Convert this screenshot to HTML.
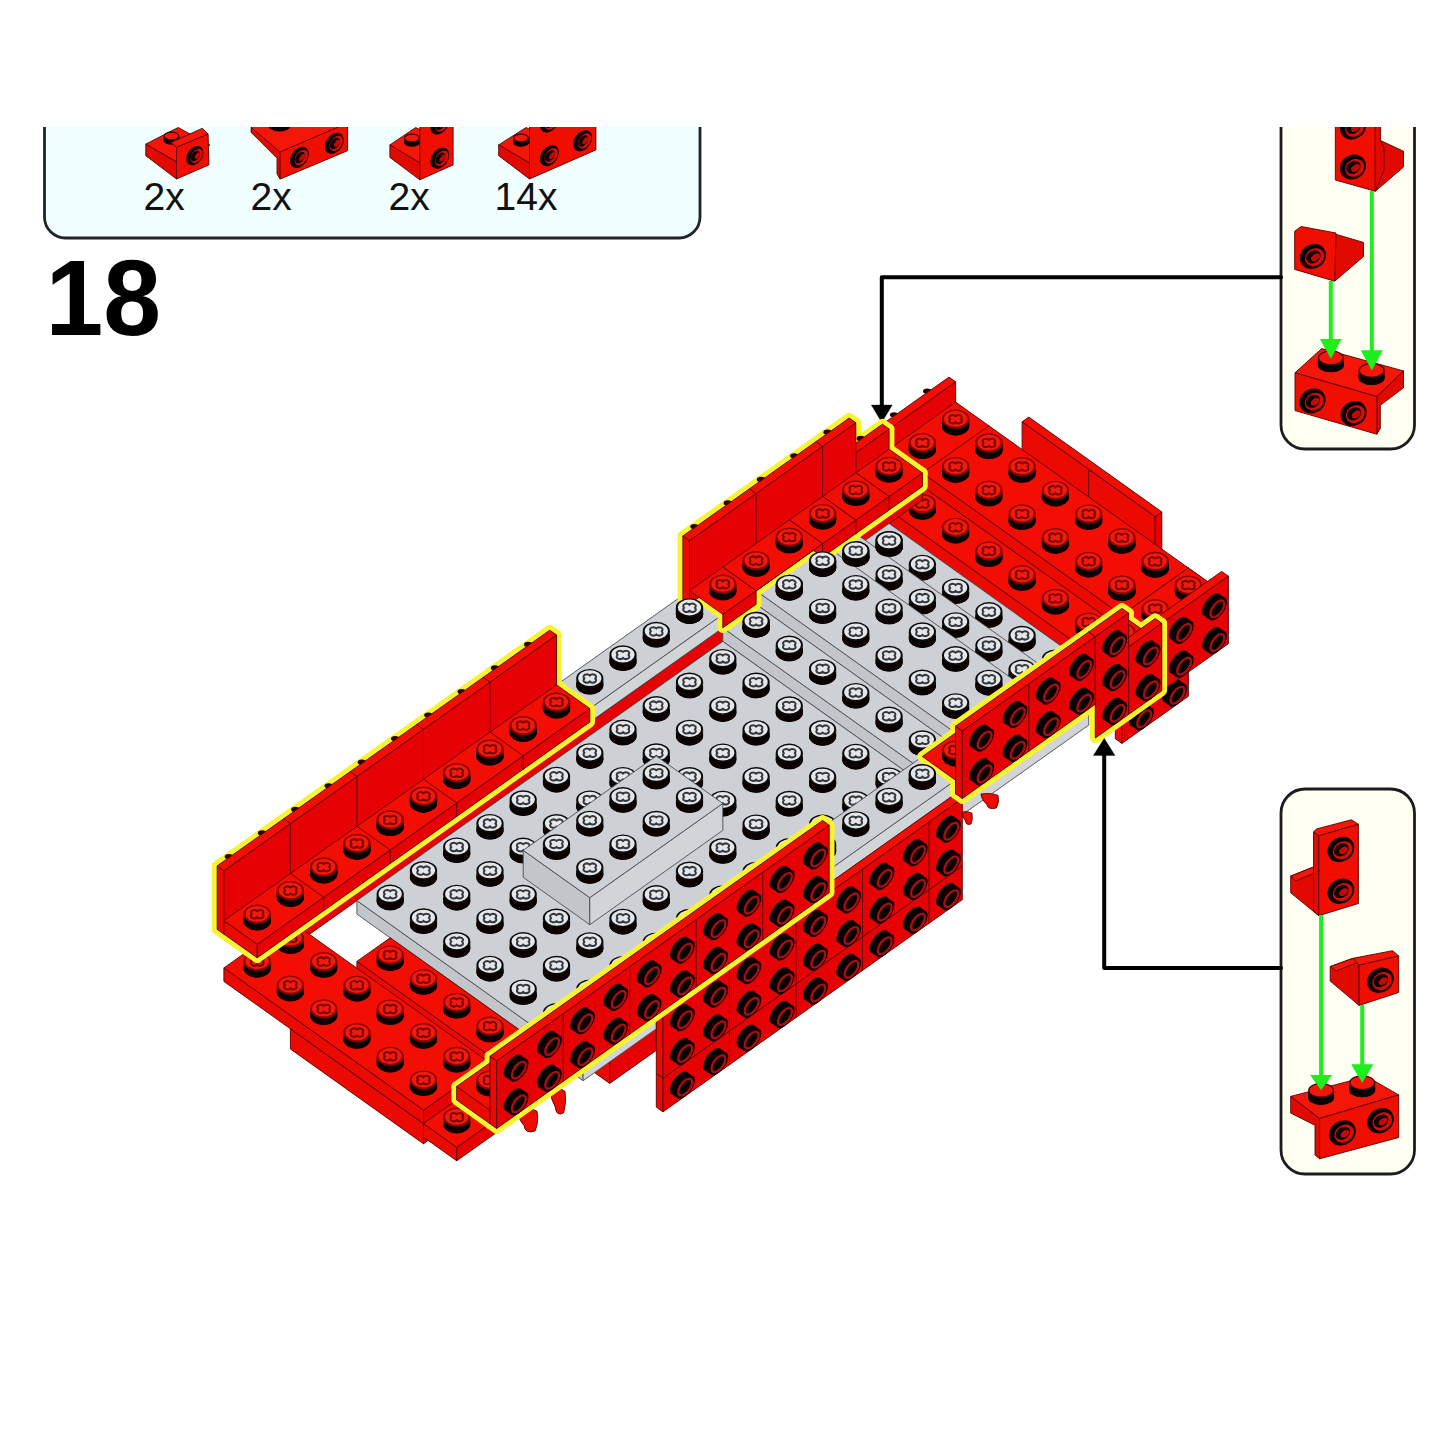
<!DOCTYPE html>
<html><head><meta charset="utf-8"><title>Step 18</title>
<style>
html,body{margin:0;padding:0;background:#fff;}
body{width:1445px;height:1445px;overflow:hidden;font-family:"Liberation Sans",sans-serif;}
svg{display:block;}
text{font-family:"Liberation Sans",sans-serif;}
</style></head><body>
<svg width="1445" height="1445" viewBox="0 0 1445 1445">
<defs><clipPath id="crop"><rect x="0" y="127" width="1445" height="1200"/></clipPath></defs>
<rect width="1445" height="1445" fill="#fff"/>
<g clip-path="url(#crop)">
<rect x="44.5" y="60" width="655.5" height="178" rx="21" ry="21" fill="#f0ffff" stroke="#1c2626" stroke-width="2.8"/>
<text x="143.5" y="210" font-size="39" fill="#111">2x</text>
<text x="250.5" y="210" font-size="39" fill="#111">2x</text>
<text x="388.5" y="210" font-size="39" fill="#111">2x</text>
<text x="494.5" y="210" font-size="39" fill="#111">14x</text>
<text transform="translate(45.6 334.6) scale(0.962 1)" font-size="108" font-weight="bold" fill="#000">18</text>
<rect x="1281" y="60" width="133.5" height="389" rx="24" ry="24" fill="#fffff2" stroke="#1c1c1c" stroke-width="2.8"/>
<rect x="1281" y="789" width="133.5" height="385" rx="24" ry="24" fill="#fffff2" stroke="#1c1c1c" stroke-width="2.8"/>
<polyline points="1281,277.3 881.8,277.3 881.8,406" fill="none" stroke="#000" stroke-width="4" stroke-linejoin="round" stroke-linecap="round" stroke-linecap="butt" stroke-linejoin="miter"/>
<polygon points="881.8,422.5 871.3,405 892.3,405" fill="#000" stroke="#000" stroke-width="0.3" stroke-linejoin="round" />
<polyline points="1281,968 1104.2,968 1104.2,755" fill="none" stroke="#000" stroke-width="4" stroke-linejoin="round" stroke-linecap="round" stroke-linecap="butt" stroke-linejoin="miter"/>
<polygon points="1104.2,738.2 1093.4,755.5 1115,755.5" fill="#000" stroke="#000" stroke-width="0.3" stroke-linejoin="round" />
<polygon points="145.8,144.1 178.2,127.5 210,145 176.5,162" fill="#f5160a" stroke="#5a0000" stroke-width="0.9" stroke-linejoin="round"/>
<path d="M163.5 136 a8 4.5 0 0 0 16 0 v4 a8 4.5 0 0 1 -16 0 z" fill="#0a0000"/>
<ellipse cx="171.5" cy="140" rx="8" ry="4.5" fill="#0a0000"/>
<ellipse cx="171.5" cy="136" rx="7.4" ry="3.9" fill="#f5160a" stroke="#300" stroke-width="1.2"/>
<polygon points="145.8,144.1 176.5,162 176.5,179 145.8,155.7" fill="#e00a00" stroke="#5a0000" stroke-width="0.9" stroke-linejoin="round"/>
<polygon points="171,142.5 202.3,128.3 208.1,134.1 176.5,147.4" fill="#f5160a" stroke="#5a0000" stroke-width="0.9" stroke-linejoin="round"/>
<polygon points="176.5,147.4 208.1,134.1 208.9,164.9 176.5,179" fill="#f00e00" stroke="#5a0000" stroke-width="0.9" stroke-linejoin="round"/>
<g transform="translate(194.8 155.7) rotate(-55)"><ellipse rx="10.5" ry="7.5" fill="#0a0000"/><ellipse cx="1" cy="1.6" rx="7.8" ry="5.2" fill="#d80c04"/><ellipse cx="0.2" cy="0.6" rx="5.9" ry="3.8" fill="#0a0000"/><ellipse cx="1.6" cy="2.2" rx="3.8" ry="2" fill="#c00a04"/></g>
<polygon points="251.3,120 347.6,120 347.6,127.5 280,156 251.3,132.5" fill="#f5160a" stroke="#5a0000" stroke-width="0.9" stroke-linejoin="round"/>
<ellipse cx="279.5" cy="124" rx="12" ry="7.5" fill="#0a0000"/>
<polygon points="251.3,127.5 280,152 280,179 277,174 277,158.2 251.3,132.5" fill="#e00a00" stroke="#5a0000" stroke-width="0.9" stroke-linejoin="round"/>
<polygon points="280,152 347.6,123 347.6,150.7 280.3,179" fill="#f00e00" stroke="#5a0000" stroke-width="0.9" stroke-linejoin="round"/>
<g transform="translate(299.4 157.4) rotate(-55)"><ellipse rx="11.5" ry="8.2" fill="#0a0000"/><ellipse cx="1" cy="1.6" rx="8.5" ry="5.7" fill="#d80c04"/><ellipse cx="0.2" cy="0.6" rx="6.4" ry="4.1" fill="#0a0000"/><ellipse cx="1.6" cy="2.2" rx="4.1" ry="2.1" fill="#c00a04"/></g>
<g transform="translate(334.3 143.3) rotate(-55)"><ellipse rx="11.5" ry="8.2" fill="#0a0000"/><ellipse cx="1" cy="1.6" rx="8.5" ry="5.7" fill="#d80c04"/><ellipse cx="0.2" cy="0.6" rx="6.4" ry="4.1" fill="#0a0000"/><ellipse cx="1.6" cy="2.2" rx="4.1" ry="2.1" fill="#c00a04"/></g>
<polygon points="389.9,144.9 415.7,127.5 450,145 419.8,163" fill="#f5160a" stroke="#5a0000" stroke-width="0.9" stroke-linejoin="round"/>
<path d="M404 138 a8 4.5 0 0 0 16 0 v4 a8 4.5 0 0 1 -16 0 z" fill="#0a0000"/>
<ellipse cx="412" cy="142" rx="8" ry="4.5" fill="#0a0000"/>
<ellipse cx="412" cy="138" rx="7.4" ry="3.9" fill="#f5160a" stroke="#300" stroke-width="1.2"/>
<polygon points="389.9,144.9 419.8,163 419.8,179.8 389.9,157.4" fill="#e00a00" stroke="#5a0000" stroke-width="0.9" stroke-linejoin="round"/>
<polygon points="419.8,110 453.1,110 453.1,164.9 419.8,179.8" fill="#f00e00" stroke="#5a0000" stroke-width="0.9" stroke-linejoin="round"/>
<g transform="translate(439.8 158.2) rotate(-55)"><ellipse rx="11.5" ry="8.2" fill="#0a0000"/><ellipse cx="1" cy="1.6" rx="8.5" ry="5.7" fill="#d80c04"/><ellipse cx="0.2" cy="0.6" rx="6.4" ry="4.1" fill="#0a0000"/><ellipse cx="1.6" cy="2.2" rx="4.1" ry="2.1" fill="#c00a04"/></g>
<g transform="translate(439.8 124) rotate(-55)"><ellipse rx="11.5" ry="8.2" fill="#0a0000"/><ellipse cx="1" cy="1.6" rx="8.5" ry="5.7" fill="#d80c04"/><ellipse cx="0.2" cy="0.6" rx="6.4" ry="4.1" fill="#0a0000"/><ellipse cx="1.6" cy="2.2" rx="4.1" ry="2.1" fill="#c00a04"/></g>
<polygon points="498.7,144.9 526.1,127.5 560,145 529.5,163" fill="#f5160a" stroke="#5a0000" stroke-width="0.9" stroke-linejoin="round"/>
<path d="M513 138 a8 4.5 0 0 0 16 0 v4 a8 4.5 0 0 1 -16 0 z" fill="#0a0000"/>
<ellipse cx="521" cy="142" rx="8" ry="4.5" fill="#0a0000"/>
<ellipse cx="521" cy="138" rx="7.4" ry="3.9" fill="#f5160a" stroke="#300" stroke-width="1.2"/>
<polygon points="498.7,144.9 529.5,163 529.5,179 498.7,155.7" fill="#e00a00" stroke="#5a0000" stroke-width="0.9" stroke-linejoin="round"/>
<polygon points="529.5,110 595.9,110 595.9,149.9 529.5,179" fill="#f00e00" stroke="#5a0000" stroke-width="0.9" stroke-linejoin="round"/>
<g transform="translate(549.4 155.7) rotate(-55)"><ellipse rx="11.5" ry="8.2" fill="#0a0000"/><ellipse cx="1" cy="1.6" rx="8.5" ry="5.7" fill="#d80c04"/><ellipse cx="0.2" cy="0.6" rx="6.4" ry="4.1" fill="#0a0000"/><ellipse cx="1.6" cy="2.2" rx="4.1" ry="2.1" fill="#c00a04"/></g>
<g transform="translate(582.6 140.8) rotate(-55)"><ellipse rx="11.5" ry="8.2" fill="#0a0000"/><ellipse cx="1" cy="1.6" rx="8.5" ry="5.7" fill="#d80c04"/><ellipse cx="0.2" cy="0.6" rx="6.4" ry="4.1" fill="#0a0000"/><ellipse cx="1.6" cy="2.2" rx="4.1" ry="2.1" fill="#c00a04"/></g>
<g transform="translate(549.4 122) rotate(-55)"><ellipse rx="11.5" ry="8.2" fill="#0a0000"/><ellipse cx="1" cy="1.6" rx="8.5" ry="5.7" fill="#d80c04"/><ellipse cx="0.2" cy="0.6" rx="6.4" ry="4.1" fill="#0a0000"/><ellipse cx="1.6" cy="2.2" rx="4.1" ry="2.1" fill="#c00a04"/></g>
<g transform="translate(582.6 110) rotate(-55)"><ellipse rx="11.5" ry="8.2" fill="#0a0000"/><ellipse cx="1" cy="1.6" rx="8.5" ry="5.7" fill="#d80c04"/><ellipse cx="0.2" cy="0.6" rx="6.4" ry="4.1" fill="#0a0000"/><ellipse cx="1.6" cy="2.2" rx="4.1" ry="2.1" fill="#c00a04"/></g>
<polygon points="1380.6,140.6 1403.5,151.2 1403.5,167.1 1375.3,191.2 1375.3,150" fill="#e00a00" stroke="#5a0000" stroke-width="0.9" stroke-linejoin="round"/>
<polygon points="1335.3,110 1375.3,110 1375.3,191.2 1335.3,180" fill="#f00e00" stroke="#5a0000" stroke-width="0.9" stroke-linejoin="round"/>
<polygon points="1375.3,110 1380.6,110 1380.6,140.6 1384,148 1384,170 1375.3,191.2" fill="#e00a00" stroke="#5a0000" stroke-width="0.9" stroke-linejoin="round"/>
<g transform="translate(1352.9 167.1) rotate(-35)"><ellipse rx="13.5" ry="12" fill="#0a0000"/><ellipse cx="1" cy="1.6" rx="10" ry="8.4" fill="#d80c04"/><ellipse cx="0.2" cy="0.6" rx="7.6" ry="6" fill="#0a0000"/><ellipse cx="1.6" cy="2.2" rx="4.9" ry="3.1" fill="#c00a04"/></g>
<g transform="translate(1352.9 127) rotate(-35)"><ellipse rx="13.5" ry="12" fill="#0a0000"/><ellipse cx="1" cy="1.6" rx="10" ry="8.4" fill="#d80c04"/><ellipse cx="0.2" cy="0.6" rx="7.6" ry="6" fill="#0a0000"/><ellipse cx="1.6" cy="2.2" rx="4.9" ry="3.1" fill="#c00a04"/></g>
<polygon points="1335.3,234.1 1363.5,242.4 1363.5,256.5 1334.7,281.2 1334.7,240" fill="#e00a00" stroke="#5a0000" stroke-width="0.9" stroke-linejoin="round"/>
<polygon points="1294.7,231.2 1301.2,226.5 1336,233 1334.7,281.2 1294.7,269.4" fill="#f00e00" stroke="#5a0000" stroke-width="0.9" stroke-linejoin="round"/>
<g transform="translate(1312.9 256.5) rotate(-35)"><ellipse rx="13.5" ry="12" fill="#0a0000"/><ellipse cx="1" cy="1.6" rx="10" ry="8.4" fill="#d80c04"/><ellipse cx="0.2" cy="0.6" rx="7.6" ry="6" fill="#0a0000"/><ellipse cx="1.6" cy="2.2" rx="4.9" ry="3.1" fill="#c00a04"/></g>
<line x1="1371.8" y1="191" x2="1371.8" y2="351.5" stroke="#1cf01c" stroke-width="4"/>
<polygon points="1361.1,350.5 1382.5,350.5 1371.8,370.4" fill="#1cf01c"/>
<line x1="1330.8" y1="281" x2="1330.8" y2="339.9" stroke="#1cf01c" stroke-width="4"/>
<polygon points="1320.1,338.9 1341.5,338.9 1330.8,358.8" fill="#1cf01c"/>
<polygon points="1295,372.8 1321.7,348.6 1403.5,370.9 1376.9,396.6" fill="#f5160a" stroke="#5a0000" stroke-width="0.9" stroke-linejoin="round"/>
<polygon points="1376.9,396.6 1403.5,370.9 1403.5,387.8 1380.3,405.3 1380.3,428.5 1376.9,434" fill="#e00a00" stroke="#5a0000" stroke-width="0.9" stroke-linejoin="round"/>
<polygon points="1295,372.8 1376.9,396.6 1376.9,434.3 1295,410.6" fill="#f00e00" stroke="#5a0000" stroke-width="0.9" stroke-linejoin="round"/>
<path d="M1317.9 357.8 a13 7.5 0 0 0 26 0 v7 a13 7.5 0 0 1 -26 0 z" fill="#0a0000"/>
<ellipse cx="1330.9" cy="364.8" rx="13" ry="7.5" fill="#0a0000"/>
<ellipse cx="1330.9" cy="357.8" rx="12.4" ry="6.9" fill="#f5160a" stroke="#300" stroke-width="1.2"/>
<path d="M1358.6 370.4 a13 7.5 0 0 0 26 0 v7 a13 7.5 0 0 1 -26 0 z" fill="#0a0000"/>
<ellipse cx="1371.6" cy="377.4" rx="13" ry="7.5" fill="#0a0000"/>
<ellipse cx="1371.6" cy="370.4" rx="12.4" ry="6.9" fill="#f5160a" stroke="#300" stroke-width="1.2"/>
<polygon points="1320.1,338.9 1341.5,338.9 1330.8,358.8" fill="#1cf01c"/>
<polygon points="1361.1,350.5 1382.5,350.5 1371.8,370.4" fill="#1cf01c"/>
<g transform="translate(1312.5 400.9) rotate(-35)"><ellipse rx="13.5" ry="12" fill="#0a0000"/><ellipse cx="1" cy="1.6" rx="10" ry="8.4" fill="#d80c04"/><ellipse cx="0.2" cy="0.6" rx="7.6" ry="6" fill="#0a0000"/><ellipse cx="1.6" cy="2.2" rx="4.9" ry="3.1" fill="#c00a04"/></g>
<g transform="translate(1353.6 413.5) rotate(-35)"><ellipse rx="13.5" ry="12" fill="#0a0000"/><ellipse cx="1" cy="1.6" rx="10" ry="8.4" fill="#d80c04"/><ellipse cx="0.2" cy="0.6" rx="7.6" ry="6" fill="#0a0000"/><ellipse cx="1.6" cy="2.2" rx="4.9" ry="3.1" fill="#c00a04"/></g>
<polygon points="1290.7,876.1 1313.5,867 1318.8,871 1318.8,915.7 1290.7,892.8" fill="#e00a00" stroke="#5a0000" stroke-width="0.9" stroke-linejoin="round"/>
<polygon points="1290.7,876.1 1313.5,867 1318.8,871 1296,881" fill="#f5160a" stroke="#5a0000" stroke-width="0.9" stroke-linejoin="round"/>
<polygon points="1313.5,832 1316.5,828.9 1351.5,819.8 1358.4,824.3 1318.8,835.8" fill="#f5160a" stroke="#5a0000" stroke-width="0.9" stroke-linejoin="round"/>
<polygon points="1313.5,832 1318.8,835.8 1318.8,915.7 1313.5,911" fill="#e00a00" stroke="#5a0000" stroke-width="0.9" stroke-linejoin="round"/>
<polygon points="1318.8,835.8 1358.4,824.3 1358.4,903.5 1318.8,915.7" fill="#f00e00" stroke="#5a0000" stroke-width="0.9" stroke-linejoin="round"/>
<g transform="translate(1340.9 849.5) rotate(-35)"><ellipse rx="14" ry="12" fill="#0a0000"/><ellipse cx="1" cy="1.6" rx="10.4" ry="8.4" fill="#d80c04"/><ellipse cx="0.2" cy="0.6" rx="7.8" ry="6" fill="#0a0000"/><ellipse cx="1.6" cy="2.2" rx="5" ry="3.1" fill="#c00a04"/></g>
<g transform="translate(1340.9 891.3) rotate(-35)"><ellipse rx="14" ry="12" fill="#0a0000"/><ellipse cx="1" cy="1.6" rx="10.4" ry="8.4" fill="#d80c04"/><ellipse cx="0.2" cy="0.6" rx="7.8" ry="6" fill="#0a0000"/><ellipse cx="1.6" cy="2.2" rx="5" ry="3.1" fill="#c00a04"/></g>
<polygon points="1330.2,966.6 1353,958.3 1359.1,965.1 1359.1,1005.4 1330.2,981.1" fill="#e00a00" stroke="#5a0000" stroke-width="0.9" stroke-linejoin="round"/>
<polygon points="1330.2,966.6 1353,958.3 1359.1,962 1336,971" fill="#f5160a" stroke="#5a0000" stroke-width="0.9" stroke-linejoin="round"/>
<polygon points="1353,958.3 1392.6,950.7 1398.7,956 1359.1,965.1" fill="#f5160a" stroke="#5a0000" stroke-width="0.9" stroke-linejoin="round"/>
<polygon points="1359.1,965.1 1398.7,956 1398.7,992.5 1359.1,1005.4" fill="#f00e00" stroke="#5a0000" stroke-width="0.9" stroke-linejoin="round"/>
<g transform="translate(1380.4 980.3) rotate(-35)"><ellipse rx="14" ry="12" fill="#0a0000"/><ellipse cx="1" cy="1.6" rx="10.4" ry="8.4" fill="#d80c04"/><ellipse cx="0.2" cy="0.6" rx="7.8" ry="6" fill="#0a0000"/><ellipse cx="1.6" cy="2.2" rx="5" ry="3.1" fill="#c00a04"/></g>
<line x1="1321.1" y1="915" x2="1321.1" y2="1076" stroke="#1cf01c" stroke-width="4"/>
<polygon points="1310.4,1075 1331.8,1075 1321.1,1090.3" fill="#1cf01c"/>
<line x1="1362.2" y1="1005" x2="1362.2" y2="1065.4" stroke="#1cf01c" stroke-width="4"/>
<polygon points="1351.5,1064.4 1372.9,1064.4 1362.2,1082.7" fill="#1cf01c"/>
<polygon points="1290.7,1096.4 1366.8,1076.6 1398.7,1094.9 1319.6,1118.5" fill="#f5160a" stroke="#5a0000" stroke-width="0.9" stroke-linejoin="round"/>
<polygon points="1290.7,1096.4 1319.6,1118.5 1319.6,1158.8 1315,1155 1315,1125.3 1290.7,1113.1" fill="#e00a00" stroke="#5a0000" stroke-width="0.9" stroke-linejoin="round"/>
<polygon points="1319.6,1118.5 1398.7,1094.9 1398.7,1137.5 1319.6,1158.8" fill="#f00e00" stroke="#5a0000" stroke-width="0.9" stroke-linejoin="round"/>
<path d="M1308.1 1090.3 a13 7.5 0 0 0 26 0 v7 a13 7.5 0 0 1 -26 0 z" fill="#0a0000"/>
<ellipse cx="1321.1" cy="1097.3" rx="13" ry="7.5" fill="#0a0000"/>
<ellipse cx="1321.1" cy="1090.3" rx="12.4" ry="6.9" fill="#f5160a" stroke="#300" stroke-width="1.2"/>
<path d="M1349.2 1082.7 a13 7.5 0 0 0 26 0 v7 a13 7.5 0 0 1 -26 0 z" fill="#0a0000"/>
<ellipse cx="1362.2" cy="1089.7" rx="13" ry="7.5" fill="#0a0000"/>
<ellipse cx="1362.2" cy="1082.7" rx="12.4" ry="6.9" fill="#f5160a" stroke="#300" stroke-width="1.2"/>
<polygon points="1310.4,1075 1331.8,1075 1321.1,1090.3" fill="#1cf01c"/>
<polygon points="1351.5,1064.4 1372.9,1064.4 1362.2,1082.7" fill="#1cf01c"/>
<g transform="translate(1342.4 1132.9) rotate(-35)"><ellipse rx="14" ry="12" fill="#0a0000"/><ellipse cx="1" cy="1.6" rx="10.4" ry="8.4" fill="#d80c04"/><ellipse cx="0.2" cy="0.6" rx="7.8" ry="6" fill="#0a0000"/><ellipse cx="1.6" cy="2.2" rx="5" ry="3.1" fill="#c00a04"/></g>
<g transform="translate(1380.5 1120.7) rotate(-35)"><ellipse rx="14" ry="12" fill="#0a0000"/><ellipse cx="1" cy="1.6" rx="10.4" ry="8.4" fill="#d80c04"/><ellipse cx="0.2" cy="0.6" rx="7.8" ry="6" fill="#0a0000"/><ellipse cx="1.6" cy="2.2" rx="5" ry="3.1" fill="#c00a04"/></g>
<polygon points="1022.1,421.8 1155.2,516.6 1155.2,557.8 1022.1,463" fill="#ea0a02" stroke="#5a0000" stroke-width="0.9" stroke-linejoin="round" />
<polygon points="1155.2,516.6 1161.8,511.9 1161.8,553.1 1155.2,557.8" fill="#e60204" stroke="#5a0000" stroke-width="0.9" stroke-linejoin="round" />
<polygon points="1022.1,421.8 1028.8,417.1 1161.8,511.9 1155.2,516.6" fill="#f30e03" stroke="#5a0000" stroke-width="0.9" stroke-linejoin="round" />
<polyline points="1088.7,469.2 1088.7,496.9" fill="none" stroke="#5a0000" stroke-width="0.9" stroke-linejoin="round" stroke-linecap="round" />
<ellipse cx="894.1" cy="414.8" rx="4.2" ry="2.6" fill="#2a0000"/>
<ellipse cx="927.3" cy="391.2" rx="4.2" ry="2.6" fill="#2a0000"/>
<polygon points="882.4,424.2 889.1,429 889.1,462.7 882.4,458" fill="#ea0a02" stroke="#5a0000" stroke-width="0.9" stroke-linejoin="round" />
<polygon points="889.1,429 955.6,381.8 955.6,415.6 889.1,462.7" fill="#e60204" stroke="#5a0000" stroke-width="0.9" stroke-linejoin="round" />
<polygon points="882.4,424.2 949,377.1 955.6,381.8 889.1,429" fill="#f30e03" stroke="#5a0000" stroke-width="0.9" stroke-linejoin="round" />
<polygon points="889.1,449.2 1155.2,638.8 1155.2,652.3 889.1,462.7" fill="#ea0a02" stroke="#5a0000" stroke-width="0.9" stroke-linejoin="round" />
<polygon points="1155.2,638.8 1221.7,591.7 1221.7,605.2 1155.2,652.3" fill="#e60204" stroke="#5a0000" stroke-width="0.9" stroke-linejoin="round" />
<polygon points="889.1,449.2 955.6,402.1 1221.7,591.7 1155.2,638.8" fill="#f30e03" stroke="#5a0000" stroke-width="0.9" stroke-linejoin="round" />
<path d="M942 419.2 a13.6 9.6 0 0 0 27.2 0 v6.5 a13.6 9.6 0 0 1 -27.2 0 z" fill="#0a0000"/>
<ellipse cx="955.6" cy="425.7" rx="13.6" ry="9.6" fill="#0a0000"/>
<ellipse cx="955.6" cy="419.2" rx="13.6" ry="9.6" fill="#8a0300"/>
<ellipse cx="955.6" cy="418.9" rx="11.6" ry="7.9" fill="#f21a0a"/>
<path d="M950.1 419.2 c-3 -3.5 3 -5.5 5.5 -3 c2.5 -2.5 8.500 -.5 5.5 3 c3 3.5 -3 5.5 -5.5 3 c-2.5 2.5 -8.5 .5 -5.5 -3z" fill="none" stroke="#7a0000" stroke-width="2"/>
<path d="M975.3 442.9 a13.6 9.6 0 0 0 27.2 0 v6.5 a13.6 9.6 0 0 1 -27.2 0 z" fill="#0a0000"/>
<ellipse cx="988.9" cy="449.4" rx="13.6" ry="9.6" fill="#0a0000"/>
<ellipse cx="988.9" cy="442.9" rx="13.6" ry="9.6" fill="#8a0300"/>
<ellipse cx="988.9" cy="442.6" rx="11.6" ry="7.9" fill="#f21a0a"/>
<path d="M983.4 442.9 c-3 -3.5 3 -5.5 5.5 -3 c2.5 -2.5 8.500 -.5 5.5 3 c3 3.5 -3 5.5 -5.5 3 c-2.5 2.5 -8.5 .5 -5.5 -3z" fill="none" stroke="#7a0000" stroke-width="2"/>
<path d="M1008.5 466.6 a13.6 9.6 0 0 0 27.2 0 v6.5 a13.6 9.6 0 0 1 -27.2 0 z" fill="#0a0000"/>
<ellipse cx="1022.1" cy="473.1" rx="13.6" ry="9.6" fill="#0a0000"/>
<ellipse cx="1022.1" cy="466.6" rx="13.6" ry="9.6" fill="#8a0300"/>
<ellipse cx="1022.1" cy="466.3" rx="11.6" ry="7.9" fill="#f21a0a"/>
<path d="M1016.6 466.6 c-3 -3.5 3 -5.5 5.5 -3 c2.5 -2.5 8.500 -.5 5.5 3 c3 3.5 -3 5.5 -5.5 3 c-2.5 2.5 -8.5 .5 -5.5 -3z" fill="none" stroke="#7a0000" stroke-width="2"/>
<path d="M1041.8 490.3 a13.6 9.6 0 0 0 27.2 0 v6.5 a13.6 9.6 0 0 1 -27.2 0 z" fill="#0a0000"/>
<ellipse cx="1055.4" cy="496.8" rx="13.6" ry="9.6" fill="#0a0000"/>
<ellipse cx="1055.4" cy="490.3" rx="13.6" ry="9.6" fill="#8a0300"/>
<ellipse cx="1055.4" cy="490" rx="11.6" ry="7.9" fill="#f21a0a"/>
<path d="M1049.9 490.3 c-3 -3.5 3 -5.5 5.5 -3 c2.5 -2.5 8.500 -.5 5.5 3 c3 3.5 -3 5.5 -5.5 3 c-2.5 2.5 -8.5 .5 -5.5 -3z" fill="none" stroke="#7a0000" stroke-width="2"/>
<path d="M1075.1 514 a13.6 9.6 0 0 0 27.2 0 v6.5 a13.6 9.6 0 0 1 -27.2 0 z" fill="#0a0000"/>
<ellipse cx="1088.7" cy="520.5" rx="13.6" ry="9.6" fill="#0a0000"/>
<ellipse cx="1088.7" cy="514" rx="13.6" ry="9.6" fill="#8a0300"/>
<ellipse cx="1088.7" cy="513.7" rx="11.6" ry="7.9" fill="#f21a0a"/>
<path d="M1083.2 514 c-3 -3.5 3 -5.5 5.5 -3 c2.5 -2.5 8.500 -.5 5.5 3 c3 3.5 -3 5.5 -5.5 3 c-2.5 2.5 -8.5 .5 -5.5 -3z" fill="none" stroke="#7a0000" stroke-width="2"/>
<path d="M1108.3 537.7 a13.6 9.6 0 0 0 27.2 0 v6.5 a13.6 9.6 0 0 1 -27.2 0 z" fill="#0a0000"/>
<ellipse cx="1121.9" cy="544.2" rx="13.6" ry="9.6" fill="#0a0000"/>
<ellipse cx="1121.9" cy="537.7" rx="13.6" ry="9.6" fill="#8a0300"/>
<ellipse cx="1121.9" cy="537.4" rx="11.6" ry="7.9" fill="#f21a0a"/>
<path d="M1116.4 537.7 c-3 -3.5 3 -5.5 5.5 -3 c2.5 -2.5 8.500 -.5 5.5 3 c3 3.5 -3 5.5 -5.5 3 c-2.5 2.5 -8.5 .5 -5.5 -3z" fill="none" stroke="#7a0000" stroke-width="2"/>
<path d="M1141.6 561.4 a13.6 9.6 0 0 0 27.2 0 v6.5 a13.6 9.6 0 0 1 -27.2 0 z" fill="#0a0000"/>
<ellipse cx="1155.2" cy="567.9" rx="13.6" ry="9.6" fill="#0a0000"/>
<ellipse cx="1155.2" cy="561.4" rx="13.6" ry="9.6" fill="#8a0300"/>
<ellipse cx="1155.2" cy="561.1" rx="11.6" ry="7.9" fill="#f21a0a"/>
<path d="M1149.7 561.4 c-3 -3.5 3 -5.5 5.5 -3 c2.5 -2.5 8.500 -.5 5.5 3 c3 3.5 -3 5.5 -5.5 3 c-2.5 2.5 -8.5 .5 -5.5 -3z" fill="none" stroke="#7a0000" stroke-width="2"/>
<path d="M1174.8 585.1 a13.6 9.6 0 0 0 27.2 0 v6.5 a13.6 9.6 0 0 1 -27.2 0 z" fill="#0a0000"/>
<ellipse cx="1188.4" cy="591.6" rx="13.6" ry="9.6" fill="#0a0000"/>
<ellipse cx="1188.4" cy="585.1" rx="13.6" ry="9.6" fill="#8a0300"/>
<ellipse cx="1188.4" cy="584.8" rx="11.6" ry="7.9" fill="#f21a0a"/>
<path d="M1182.9 585.1 c-3 -3.5 3 -5.5 5.5 -3 c2.5 -2.5 8.500 -.5 5.5 3 c3 3.5 -3 5.5 -5.5 3 c-2.5 2.5 -8.5 .5 -5.5 -3z" fill="none" stroke="#7a0000" stroke-width="2"/>
<path d="M908.8 442.8 a13.6 9.6 0 0 0 27.2 0 v6.5 a13.6 9.6 0 0 1 -27.2 0 z" fill="#0a0000"/>
<ellipse cx="922.4" cy="449.3" rx="13.6" ry="9.6" fill="#0a0000"/>
<ellipse cx="922.4" cy="442.8" rx="13.6" ry="9.6" fill="#8a0300"/>
<ellipse cx="922.4" cy="442.5" rx="11.6" ry="7.9" fill="#f21a0a"/>
<path d="M916.9 442.8 c-3 -3.5 3 -5.5 5.5 -3 c2.5 -2.5 8.500 -.5 5.5 3 c3 3.5 -3 5.5 -5.5 3 c-2.5 2.5 -8.5 .5 -5.5 -3z" fill="none" stroke="#7a0000" stroke-width="2"/>
<path d="M942 466.5 a13.6 9.6 0 0 0 27.2 0 v6.5 a13.6 9.6 0 0 1 -27.2 0 z" fill="#0a0000"/>
<ellipse cx="955.6" cy="473" rx="13.6" ry="9.6" fill="#0a0000"/>
<ellipse cx="955.6" cy="466.5" rx="13.6" ry="9.6" fill="#8a0300"/>
<ellipse cx="955.6" cy="466.2" rx="11.6" ry="7.9" fill="#f21a0a"/>
<path d="M950.1 466.5 c-3 -3.5 3 -5.5 5.5 -3 c2.5 -2.5 8.500 -.5 5.5 3 c3 3.5 -3 5.5 -5.5 3 c-2.5 2.5 -8.5 .5 -5.5 -3z" fill="none" stroke="#7a0000" stroke-width="2"/>
<path d="M975.3 490.2 a13.6 9.6 0 0 0 27.2 0 v6.5 a13.6 9.6 0 0 1 -27.2 0 z" fill="#0a0000"/>
<ellipse cx="988.9" cy="496.7" rx="13.6" ry="9.6" fill="#0a0000"/>
<ellipse cx="988.9" cy="490.2" rx="13.6" ry="9.6" fill="#8a0300"/>
<ellipse cx="988.9" cy="489.9" rx="11.6" ry="7.9" fill="#f21a0a"/>
<path d="M983.4 490.2 c-3 -3.5 3 -5.5 5.5 -3 c2.5 -2.5 8.500 -.5 5.5 3 c3 3.5 -3 5.5 -5.5 3 c-2.5 2.5 -8.5 .5 -5.5 -3z" fill="none" stroke="#7a0000" stroke-width="2"/>
<path d="M1008.5 513.9 a13.6 9.6 0 0 0 27.2 0 v6.5 a13.6 9.6 0 0 1 -27.2 0 z" fill="#0a0000"/>
<ellipse cx="1022.1" cy="520.4" rx="13.6" ry="9.6" fill="#0a0000"/>
<ellipse cx="1022.1" cy="513.9" rx="13.6" ry="9.6" fill="#8a0300"/>
<ellipse cx="1022.1" cy="513.6" rx="11.6" ry="7.9" fill="#f21a0a"/>
<path d="M1016.6 513.9 c-3 -3.5 3 -5.5 5.5 -3 c2.5 -2.5 8.500 -.5 5.5 3 c3 3.5 -3 5.5 -5.5 3 c-2.5 2.5 -8.5 .5 -5.5 -3z" fill="none" stroke="#7a0000" stroke-width="2"/>
<path d="M1041.8 537.6 a13.6 9.6 0 0 0 27.2 0 v6.5 a13.6 9.6 0 0 1 -27.2 0 z" fill="#0a0000"/>
<ellipse cx="1055.4" cy="544.1" rx="13.6" ry="9.6" fill="#0a0000"/>
<ellipse cx="1055.4" cy="537.6" rx="13.6" ry="9.6" fill="#8a0300"/>
<ellipse cx="1055.4" cy="537.3" rx="11.6" ry="7.9" fill="#f21a0a"/>
<path d="M1049.9 537.6 c-3 -3.5 3 -5.5 5.5 -3 c2.5 -2.5 8.500 -.5 5.5 3 c3 3.5 -3 5.5 -5.5 3 c-2.5 2.5 -8.5 .5 -5.5 -3z" fill="none" stroke="#7a0000" stroke-width="2"/>
<path d="M1075.1 561.3 a13.6 9.6 0 0 0 27.2 0 v6.5 a13.6 9.6 0 0 1 -27.2 0 z" fill="#0a0000"/>
<ellipse cx="1088.7" cy="567.8" rx="13.6" ry="9.6" fill="#0a0000"/>
<ellipse cx="1088.7" cy="561.3" rx="13.6" ry="9.6" fill="#8a0300"/>
<ellipse cx="1088.7" cy="561" rx="11.6" ry="7.9" fill="#f21a0a"/>
<path d="M1083.2 561.3 c-3 -3.5 3 -5.5 5.5 -3 c2.5 -2.5 8.500 -.5 5.5 3 c3 3.5 -3 5.5 -5.5 3 c-2.5 2.5 -8.5 .5 -5.5 -3z" fill="none" stroke="#7a0000" stroke-width="2"/>
<path d="M1108.3 585 a13.6 9.6 0 0 0 27.2 0 v6.5 a13.6 9.6 0 0 1 -27.2 0 z" fill="#0a0000"/>
<ellipse cx="1121.9" cy="591.5" rx="13.6" ry="9.6" fill="#0a0000"/>
<ellipse cx="1121.9" cy="585" rx="13.6" ry="9.6" fill="#8a0300"/>
<ellipse cx="1121.9" cy="584.7" rx="11.6" ry="7.9" fill="#f21a0a"/>
<path d="M1116.4 585 c-3 -3.5 3 -5.5 5.5 -3 c2.5 -2.5 8.500 -.5 5.5 3 c3 3.5 -3 5.5 -5.5 3 c-2.5 2.5 -8.5 .5 -5.5 -3z" fill="none" stroke="#7a0000" stroke-width="2"/>
<path d="M1141.6 608.7 a13.6 9.6 0 0 0 27.2 0 v6.5 a13.6 9.6 0 0 1 -27.2 0 z" fill="#0a0000"/>
<ellipse cx="1155.2" cy="615.2" rx="13.6" ry="9.6" fill="#0a0000"/>
<ellipse cx="1155.2" cy="608.7" rx="13.6" ry="9.6" fill="#8a0300"/>
<ellipse cx="1155.2" cy="608.4" rx="11.6" ry="7.9" fill="#f21a0a"/>
<path d="M1149.7 608.7 c-3 -3.5 3 -5.5 5.5 -3 c2.5 -2.5 8.500 -.5 5.5 3 c3 3.5 -3 5.5 -5.5 3 c-2.5 2.5 -8.5 .5 -5.5 -3z" fill="none" stroke="#7a0000" stroke-width="2"/>
<polyline points="922.4,472.9 988.9,425.8" fill="none" stroke="#5a0000" stroke-width="0.9" stroke-linejoin="round" stroke-linecap="round" />
<polyline points="1121.9,615.1 1188.4,568" fill="none" stroke="#5a0000" stroke-width="0.9" stroke-linejoin="round" stroke-linecap="round" />
<path d="M942 419.2 a13.6 9.6 0 0 0 27.2 0 v6.5 a13.6 9.6 0 0 1 -27.2 0 z" fill="#0a0000"/>
<ellipse cx="955.6" cy="425.7" rx="13.6" ry="9.6" fill="#0a0000"/>
<ellipse cx="955.6" cy="419.2" rx="13.6" ry="9.6" fill="#8a0300"/>
<ellipse cx="955.6" cy="418.9" rx="11.6" ry="7.9" fill="#f21a0a"/>
<path d="M950.1 419.2 c-3 -3.5 3 -5.5 5.5 -3 c2.5 -2.5 8.500 -.5 5.5 3 c3 3.5 -3 5.5 -5.5 3 c-2.5 2.5 -8.5 .5 -5.5 -3z" fill="none" stroke="#7a0000" stroke-width="2"/>
<path d="M975.3 442.9 a13.6 9.6 0 0 0 27.2 0 v6.5 a13.6 9.6 0 0 1 -27.2 0 z" fill="#0a0000"/>
<ellipse cx="988.9" cy="449.4" rx="13.6" ry="9.6" fill="#0a0000"/>
<ellipse cx="988.9" cy="442.9" rx="13.6" ry="9.6" fill="#8a0300"/>
<ellipse cx="988.9" cy="442.6" rx="11.6" ry="7.9" fill="#f21a0a"/>
<path d="M983.4 442.9 c-3 -3.5 3 -5.5 5.5 -3 c2.5 -2.5 8.500 -.5 5.5 3 c3 3.5 -3 5.5 -5.5 3 c-2.5 2.5 -8.5 .5 -5.5 -3z" fill="none" stroke="#7a0000" stroke-width="2"/>
<path d="M1141.6 561.4 a13.6 9.6 0 0 0 27.2 0 v6.5 a13.6 9.6 0 0 1 -27.2 0 z" fill="#0a0000"/>
<ellipse cx="1155.2" cy="567.9" rx="13.6" ry="9.6" fill="#0a0000"/>
<ellipse cx="1155.2" cy="561.4" rx="13.6" ry="9.6" fill="#8a0300"/>
<ellipse cx="1155.2" cy="561.1" rx="11.6" ry="7.9" fill="#f21a0a"/>
<path d="M1149.7 561.4 c-3 -3.5 3 -5.5 5.5 -3 c2.5 -2.5 8.500 -.5 5.5 3 c3 3.5 -3 5.5 -5.5 3 c-2.5 2.5 -8.5 .5 -5.5 -3z" fill="none" stroke="#7a0000" stroke-width="2"/>
<path d="M1174.8 585.1 a13.6 9.6 0 0 0 27.2 0 v6.5 a13.6 9.6 0 0 1 -27.2 0 z" fill="#0a0000"/>
<ellipse cx="1188.4" cy="591.6" rx="13.6" ry="9.6" fill="#0a0000"/>
<ellipse cx="1188.4" cy="585.1" rx="13.6" ry="9.6" fill="#8a0300"/>
<ellipse cx="1188.4" cy="584.8" rx="11.6" ry="7.9" fill="#f21a0a"/>
<path d="M1182.9 585.1 c-3 -3.5 3 -5.5 5.5 -3 c2.5 -2.5 8.500 -.5 5.5 3 c3 3.5 -3 5.5 -5.5 3 c-2.5 2.5 -8.5 .5 -5.5 -3z" fill="none" stroke="#7a0000" stroke-width="2"/>
<path d="M908.8 442.8 a13.6 9.6 0 0 0 27.2 0 v6.5 a13.6 9.6 0 0 1 -27.2 0 z" fill="#0a0000"/>
<ellipse cx="922.4" cy="449.3" rx="13.6" ry="9.6" fill="#0a0000"/>
<ellipse cx="922.4" cy="442.8" rx="13.6" ry="9.6" fill="#8a0300"/>
<ellipse cx="922.4" cy="442.5" rx="11.6" ry="7.9" fill="#f21a0a"/>
<path d="M916.9 442.8 c-3 -3.5 3 -5.5 5.5 -3 c2.5 -2.5 8.500 -.5 5.5 3 c3 3.5 -3 5.5 -5.5 3 c-2.5 2.5 -8.5 .5 -5.5 -3z" fill="none" stroke="#7a0000" stroke-width="2"/>
<path d="M942 466.5 a13.6 9.6 0 0 0 27.2 0 v6.5 a13.6 9.6 0 0 1 -27.2 0 z" fill="#0a0000"/>
<ellipse cx="955.6" cy="473" rx="13.6" ry="9.6" fill="#0a0000"/>
<ellipse cx="955.6" cy="466.5" rx="13.6" ry="9.6" fill="#8a0300"/>
<ellipse cx="955.6" cy="466.2" rx="11.6" ry="7.9" fill="#f21a0a"/>
<path d="M950.1 466.5 c-3 -3.5 3 -5.5 5.5 -3 c2.5 -2.5 8.500 -.5 5.5 3 c3 3.5 -3 5.5 -5.5 3 c-2.5 2.5 -8.5 .5 -5.5 -3z" fill="none" stroke="#7a0000" stroke-width="2"/>
<path d="M1108.3 585 a13.6 9.6 0 0 0 27.2 0 v6.5 a13.6 9.6 0 0 1 -27.2 0 z" fill="#0a0000"/>
<ellipse cx="1121.9" cy="591.5" rx="13.6" ry="9.6" fill="#0a0000"/>
<ellipse cx="1121.9" cy="585" rx="13.6" ry="9.6" fill="#8a0300"/>
<ellipse cx="1121.9" cy="584.7" rx="11.6" ry="7.9" fill="#f21a0a"/>
<path d="M1116.4 585 c-3 -3.5 3 -5.5 5.5 -3 c2.5 -2.5 8.500 -.5 5.5 3 c3 3.5 -3 5.5 -5.5 3 c-2.5 2.5 -8.5 .5 -5.5 -3z" fill="none" stroke="#7a0000" stroke-width="2"/>
<path d="M1141.6 608.7 a13.6 9.6 0 0 0 27.2 0 v6.5 a13.6 9.6 0 0 1 -27.2 0 z" fill="#0a0000"/>
<ellipse cx="1155.2" cy="615.2" rx="13.6" ry="9.6" fill="#0a0000"/>
<ellipse cx="1155.2" cy="608.7" rx="13.6" ry="9.6" fill="#8a0300"/>
<ellipse cx="1155.2" cy="608.4" rx="11.6" ry="7.9" fill="#f21a0a"/>
<path d="M1149.7 608.7 c-3 -3.5 3 -5.5 5.5 -3 c2.5 -2.5 8.500 -.5 5.5 3 c3 3.5 -3 5.5 -5.5 3 c-2.5 2.5 -8.5 .5 -5.5 -3z" fill="none" stroke="#7a0000" stroke-width="2"/>
<polygon points="889.1,510 1088.7,652.2 1088.7,665.7 889.1,523.5" fill="#ea0a02" stroke="#5a0000" stroke-width="0.9" stroke-linejoin="round" />
<polygon points="1088.7,652.2 1121.9,628.6 1121.9,642.1 1088.7,665.7" fill="#e60204" stroke="#5a0000" stroke-width="0.9" stroke-linejoin="round" />
<polygon points="889.1,510 922.4,486.4 1121.9,628.6 1088.7,652.2" fill="#f30e03" stroke="#5a0000" stroke-width="0.9" stroke-linejoin="round" />
<path d="M908.8 503.6 a13.6 9.6 0 0 0 27.2 0 v6.5 a13.6 9.6 0 0 1 -27.2 0 z" fill="#0a0000"/>
<ellipse cx="922.4" cy="510.1" rx="13.6" ry="9.6" fill="#0a0000"/>
<ellipse cx="922.4" cy="503.6" rx="13.6" ry="9.6" fill="#8a0300"/>
<ellipse cx="922.4" cy="503.3" rx="11.6" ry="7.9" fill="#f21a0a"/>
<path d="M916.9 503.6 c-3 -3.5 3 -5.5 5.5 -3 c2.5 -2.5 8.500 -.5 5.5 3 c3 3.5 -3 5.5 -5.5 3 c-2.5 2.5 -8.5 .5 -5.5 -3z" fill="none" stroke="#7a0000" stroke-width="2"/>
<path d="M942 527.3 a13.6 9.6 0 0 0 27.2 0 v6.5 a13.6 9.6 0 0 1 -27.2 0 z" fill="#0a0000"/>
<ellipse cx="955.6" cy="533.8" rx="13.6" ry="9.6" fill="#0a0000"/>
<ellipse cx="955.6" cy="527.3" rx="13.6" ry="9.6" fill="#8a0300"/>
<ellipse cx="955.6" cy="527" rx="11.6" ry="7.9" fill="#f21a0a"/>
<path d="M950.1 527.3 c-3 -3.5 3 -5.5 5.5 -3 c2.5 -2.5 8.500 -.5 5.5 3 c3 3.5 -3 5.5 -5.5 3 c-2.5 2.5 -8.5 .5 -5.5 -3z" fill="none" stroke="#7a0000" stroke-width="2"/>
<path d="M975.3 551 a13.6 9.6 0 0 0 27.2 0 v6.5 a13.6 9.6 0 0 1 -27.2 0 z" fill="#0a0000"/>
<ellipse cx="988.9" cy="557.5" rx="13.6" ry="9.6" fill="#0a0000"/>
<ellipse cx="988.9" cy="551" rx="13.6" ry="9.6" fill="#8a0300"/>
<ellipse cx="988.9" cy="550.7" rx="11.6" ry="7.9" fill="#f21a0a"/>
<path d="M983.4 551 c-3 -3.5 3 -5.5 5.5 -3 c2.5 -2.5 8.500 -.5 5.5 3 c3 3.5 -3 5.5 -5.5 3 c-2.5 2.5 -8.5 .5 -5.5 -3z" fill="none" stroke="#7a0000" stroke-width="2"/>
<path d="M1008.5 574.7 a13.6 9.6 0 0 0 27.2 0 v6.5 a13.6 9.6 0 0 1 -27.2 0 z" fill="#0a0000"/>
<ellipse cx="1022.1" cy="581.2" rx="13.6" ry="9.6" fill="#0a0000"/>
<ellipse cx="1022.1" cy="574.7" rx="13.6" ry="9.6" fill="#8a0300"/>
<ellipse cx="1022.1" cy="574.4" rx="11.6" ry="7.9" fill="#f21a0a"/>
<path d="M1016.6 574.7 c-3 -3.5 3 -5.5 5.5 -3 c2.5 -2.5 8.500 -.5 5.5 3 c3 3.5 -3 5.5 -5.5 3 c-2.5 2.5 -8.5 .5 -5.5 -3z" fill="none" stroke="#7a0000" stroke-width="2"/>
<path d="M1041.8 598.4 a13.6 9.6 0 0 0 27.2 0 v6.5 a13.6 9.6 0 0 1 -27.2 0 z" fill="#0a0000"/>
<ellipse cx="1055.4" cy="604.9" rx="13.6" ry="9.6" fill="#0a0000"/>
<ellipse cx="1055.4" cy="598.4" rx="13.6" ry="9.6" fill="#8a0300"/>
<ellipse cx="1055.4" cy="598.1" rx="11.6" ry="7.9" fill="#f21a0a"/>
<path d="M1049.9 598.4 c-3 -3.5 3 -5.5 5.5 -3 c2.5 -2.5 8.500 -.5 5.5 3 c3 3.5 -3 5.5 -5.5 3 c-2.5 2.5 -8.5 .5 -5.5 -3z" fill="none" stroke="#7a0000" stroke-width="2"/>
<path d="M1075.1 622.1 a13.6 9.6 0 0 0 27.2 0 v6.5 a13.6 9.6 0 0 1 -27.2 0 z" fill="#0a0000"/>
<ellipse cx="1088.7" cy="628.6" rx="13.6" ry="9.6" fill="#0a0000"/>
<ellipse cx="1088.7" cy="622.1" rx="13.6" ry="9.6" fill="#8a0300"/>
<ellipse cx="1088.7" cy="621.8" rx="11.6" ry="7.9" fill="#f21a0a"/>
<path d="M1083.2 622.1 c-3 -3.5 3 -5.5 5.5 -3 c2.5 -2.5 8.500 -.5 5.5 3 c3 3.5 -3 5.5 -5.5 3 c-2.5 2.5 -8.5 .5 -5.5 -3z" fill="none" stroke="#7a0000" stroke-width="2"/>
<polygon points="257.2,910.6 290.4,934.3 290.4,947.8 257.2,924.1" fill="#ea0a02" stroke="#5a0000" stroke-width="0.9" stroke-linejoin="round" />
<polygon points="290.4,934.3 922.4,486.4 922.4,499.9 290.4,947.8" fill="#e60204" stroke="#5a0000" stroke-width="0.9" stroke-linejoin="round" />
<polygon points="257.2,910.6 889.1,462.7 922.4,486.4 290.4,934.3" fill="#f30e03" stroke="#5a0000" stroke-width="0.9" stroke-linejoin="round" />
<polygon points="556.5,684.9 589.8,708.6 589.8,722.1 556.5,698.4" fill="#c2c6cb" stroke="#4a4d52" stroke-width="0.9" stroke-linejoin="round" />
<polygon points="589.8,708.6 722.8,614.4 722.8,627.9 589.8,722.1" fill="#d2d5d8" stroke="#4a4d52" stroke-width="0.9" stroke-linejoin="round" />
<polygon points="556.5,684.9 689.5,590.6 722.8,614.4 589.8,708.6" fill="#cdd0d5" stroke="#4a4d52" stroke-width="0.9" stroke-linejoin="round" />
<path d="M675.9 607.8 a13.6 9.6 0 0 0 27.2 0 v6.5 a13.6 9.6 0 0 1 -27.2 0 z" fill="#0a0000"/>
<ellipse cx="689.5" cy="614.3" rx="13.6" ry="9.6" fill="#0a0000"/>
<ellipse cx="689.5" cy="607.8" rx="13.6" ry="9.6" fill="#0a0a0a"/>
<ellipse cx="689.5" cy="607.5" rx="11.6" ry="7.9" fill="#e4e6e9"/>
<path d="M684 607.8 c-3 -3.5 3 -5.5 5.5 -3 c2.5 -2.5 8.500 -.5 5.5 3 c3 3.5 -3 5.5 -5.5 3 c-2.5 2.5 -8.5 .5 -5.5 -3z" fill="none" stroke="#34373c" stroke-width="2"/>
<path d="M642.7 631.4 a13.6 9.6 0 0 0 27.2 0 v6.5 a13.6 9.6 0 0 1 -27.2 0 z" fill="#0a0000"/>
<ellipse cx="656.3" cy="637.9" rx="13.6" ry="9.6" fill="#0a0000"/>
<ellipse cx="656.3" cy="631.4" rx="13.6" ry="9.6" fill="#0a0a0a"/>
<ellipse cx="656.3" cy="631.1" rx="11.6" ry="7.9" fill="#e4e6e9"/>
<path d="M650.8 631.4 c-3 -3.5 3 -5.5 5.5 -3 c2.5 -2.5 8.500 -.5 5.5 3 c3 3.5 -3 5.5 -5.5 3 c-2.5 2.5 -8.5 .5 -5.5 -3z" fill="none" stroke="#34373c" stroke-width="2"/>
<path d="M609.4 654.9 a13.6 9.6 0 0 0 27.2 0 v6.5 a13.6 9.6 0 0 1 -27.2 0 z" fill="#0a0000"/>
<ellipse cx="623" cy="661.4" rx="13.6" ry="9.6" fill="#0a0000"/>
<ellipse cx="623" cy="654.9" rx="13.6" ry="9.6" fill="#0a0a0a"/>
<ellipse cx="623" cy="654.6" rx="11.6" ry="7.9" fill="#e4e6e9"/>
<path d="M617.5 654.9 c-3 -3.5 3 -5.5 5.5 -3 c2.5 -2.5 8.500 -.5 5.5 3 c3 3.5 -3 5.5 -5.5 3 c-2.5 2.5 -8.5 .5 -5.5 -3z" fill="none" stroke="#34373c" stroke-width="2"/>
<path d="M576.2 678.5 a13.6 9.6 0 0 0 27.2 0 v6.5 a13.6 9.6 0 0 1 -27.2 0 z" fill="#0a0000"/>
<ellipse cx="589.8" cy="685" rx="13.6" ry="9.6" fill="#0a0000"/>
<ellipse cx="589.8" cy="678.5" rx="13.6" ry="9.6" fill="#0a0a0a"/>
<ellipse cx="589.8" cy="678.2" rx="11.6" ry="7.9" fill="#e4e6e9"/>
<path d="M584.3 678.5 c-3 -3.5 3 -5.5 5.5 -3 c2.5 -2.5 8.500 -.5 5.5 3 c3 3.5 -3 5.5 -5.5 3 c-2.5 2.5 -8.5 .5 -5.5 -3z" fill="none" stroke="#34373c" stroke-width="2"/>
<polygon points="855.8,547.1 1055.4,689.3 1055.4,702.8 855.8,560.6" fill="#c2c6cb" stroke="#4a4d52" stroke-width="0.9" stroke-linejoin="round" />
<polygon points="1055.4,689.3 1088.7,665.7 1088.7,679.2 1055.4,702.8" fill="#d2d5d8" stroke="#4a4d52" stroke-width="0.9" stroke-linejoin="round" />
<polygon points="855.8,547.1 889.1,523.5 1088.7,665.7 1055.4,689.3" fill="#cdd0d5" stroke="#4a4d52" stroke-width="0.9" stroke-linejoin="round" />
<path d="M875.5 540.6 a13.6 9.6 0 0 0 27.2 0 v6.5 a13.6 9.6 0 0 1 -27.2 0 z" fill="#0a0000"/>
<ellipse cx="889.1" cy="547.1" rx="13.6" ry="9.6" fill="#0a0000"/>
<ellipse cx="889.1" cy="540.6" rx="13.6" ry="9.6" fill="#0a0a0a"/>
<ellipse cx="889.1" cy="540.3" rx="11.6" ry="7.9" fill="#e4e6e9"/>
<path d="M883.6 540.6 c-3 -3.5 3 -5.5 5.5 -3 c2.5 -2.5 8.500 -.5 5.5 3 c3 3.5 -3 5.5 -5.5 3 c-2.5 2.5 -8.5 .5 -5.5 -3z" fill="none" stroke="#34373c" stroke-width="2"/>
<path d="M908.8 564.3 a13.6 9.6 0 0 0 27.2 0 v6.5 a13.6 9.6 0 0 1 -27.2 0 z" fill="#0a0000"/>
<ellipse cx="922.4" cy="570.8" rx="13.6" ry="9.6" fill="#0a0000"/>
<ellipse cx="922.4" cy="564.3" rx="13.6" ry="9.6" fill="#0a0a0a"/>
<ellipse cx="922.4" cy="564" rx="11.6" ry="7.9" fill="#e4e6e9"/>
<path d="M916.9 564.3 c-3 -3.5 3 -5.5 5.5 -3 c2.5 -2.5 8.500 -.5 5.5 3 c3 3.5 -3 5.5 -5.5 3 c-2.5 2.5 -8.5 .5 -5.5 -3z" fill="none" stroke="#34373c" stroke-width="2"/>
<path d="M942 588 a13.6 9.6 0 0 0 27.2 0 v6.5 a13.6 9.6 0 0 1 -27.2 0 z" fill="#0a0000"/>
<ellipse cx="955.6" cy="594.5" rx="13.6" ry="9.6" fill="#0a0000"/>
<ellipse cx="955.6" cy="588" rx="13.6" ry="9.6" fill="#0a0a0a"/>
<ellipse cx="955.6" cy="587.7" rx="11.6" ry="7.9" fill="#e4e6e9"/>
<path d="M950.1 588 c-3 -3.5 3 -5.5 5.5 -3 c2.5 -2.5 8.500 -.5 5.5 3 c3 3.5 -3 5.5 -5.5 3 c-2.5 2.5 -8.5 .5 -5.5 -3z" fill="none" stroke="#34373c" stroke-width="2"/>
<path d="M975.3 611.7 a13.6 9.6 0 0 0 27.2 0 v6.5 a13.6 9.6 0 0 1 -27.2 0 z" fill="#0a0000"/>
<ellipse cx="988.9" cy="618.2" rx="13.6" ry="9.6" fill="#0a0000"/>
<ellipse cx="988.9" cy="611.7" rx="13.6" ry="9.6" fill="#0a0a0a"/>
<ellipse cx="988.9" cy="611.4" rx="11.6" ry="7.9" fill="#e4e6e9"/>
<path d="M983.4 611.7 c-3 -3.5 3 -5.5 5.5 -3 c2.5 -2.5 8.500 -.5 5.5 3 c3 3.5 -3 5.5 -5.5 3 c-2.5 2.5 -8.5 .5 -5.5 -3z" fill="none" stroke="#34373c" stroke-width="2"/>
<path d="M1008.5 635.4 a13.6 9.6 0 0 0 27.2 0 v6.5 a13.6 9.6 0 0 1 -27.2 0 z" fill="#0a0000"/>
<ellipse cx="1022.1" cy="641.9" rx="13.6" ry="9.6" fill="#0a0000"/>
<ellipse cx="1022.1" cy="635.4" rx="13.6" ry="9.6" fill="#0a0a0a"/>
<ellipse cx="1022.1" cy="635.1" rx="11.6" ry="7.9" fill="#e4e6e9"/>
<path d="M1016.6 635.4 c-3 -3.5 3 -5.5 5.5 -3 c2.5 -2.5 8.500 -.5 5.5 3 c3 3.5 -3 5.5 -5.5 3 c-2.5 2.5 -8.5 .5 -5.5 -3z" fill="none" stroke="#34373c" stroke-width="2"/>
<path d="M1041.8 659.1 a13.6 9.6 0 0 0 27.2 0 v6.5 a13.6 9.6 0 0 1 -27.2 0 z" fill="#0a0000"/>
<ellipse cx="1055.4" cy="665.6" rx="13.6" ry="9.6" fill="#0a0000"/>
<ellipse cx="1055.4" cy="659.1" rx="13.6" ry="9.6" fill="#0a0a0a"/>
<ellipse cx="1055.4" cy="658.8" rx="11.6" ry="7.9" fill="#e4e6e9"/>
<path d="M1049.9 659.1 c-3 -3.5 3 -5.5 5.5 -3 c2.5 -2.5 8.500 -.5 5.5 3 c3 3.5 -3 5.5 -5.5 3 c-2.5 2.5 -8.5 .5 -5.5 -3z" fill="none" stroke="#34373c" stroke-width="2"/>
<polygon points="822.6,557.1 1022.1,699.3 1022.1,712.8 822.6,570.6" fill="#c2c6cb" stroke="#4a4d52" stroke-width="0.9" stroke-linejoin="round" />
<polygon points="1022.1,699.3 1055.4,675.8 1055.4,689.3 1022.1,712.8" fill="#d2d5d8" stroke="#4a4d52" stroke-width="0.9" stroke-linejoin="round" />
<polygon points="822.6,557.1 855.8,533.6 1055.4,675.8 1022.1,699.3" fill="#cdd0d5" stroke="#4a4d52" stroke-width="0.9" stroke-linejoin="round" />
<path d="M842.2 550.7 a13.6 9.6 0 0 0 27.2 0 v6.5 a13.6 9.6 0 0 1 -27.2 0 z" fill="#0a0000"/>
<ellipse cx="855.8" cy="557.2" rx="13.6" ry="9.6" fill="#0a0000"/>
<ellipse cx="855.8" cy="550.7" rx="13.6" ry="9.6" fill="#0a0a0a"/>
<ellipse cx="855.8" cy="550.4" rx="11.6" ry="7.9" fill="#e4e6e9"/>
<path d="M850.3 550.7 c-3 -3.5 3 -5.5 5.5 -3 c2.5 -2.5 8.500 -.5 5.5 3 c3 3.5 -3 5.5 -5.5 3 c-2.5 2.5 -8.5 .5 -5.5 -3z" fill="none" stroke="#34373c" stroke-width="2"/>
<path d="M875.5 574.4 a13.6 9.6 0 0 0 27.2 0 v6.5 a13.6 9.6 0 0 1 -27.2 0 z" fill="#0a0000"/>
<ellipse cx="889.1" cy="580.9" rx="13.6" ry="9.6" fill="#0a0000"/>
<ellipse cx="889.1" cy="574.4" rx="13.6" ry="9.6" fill="#0a0a0a"/>
<ellipse cx="889.1" cy="574.1" rx="11.6" ry="7.9" fill="#e4e6e9"/>
<path d="M883.6 574.4 c-3 -3.5 3 -5.5 5.5 -3 c2.5 -2.5 8.500 -.5 5.5 3 c3 3.5 -3 5.5 -5.5 3 c-2.5 2.5 -8.5 .5 -5.5 -3z" fill="none" stroke="#34373c" stroke-width="2"/>
<path d="M908.8 598.1 a13.6 9.6 0 0 0 27.2 0 v6.5 a13.6 9.6 0 0 1 -27.2 0 z" fill="#0a0000"/>
<ellipse cx="922.4" cy="604.6" rx="13.6" ry="9.6" fill="#0a0000"/>
<ellipse cx="922.4" cy="598.1" rx="13.6" ry="9.6" fill="#0a0a0a"/>
<ellipse cx="922.4" cy="597.8" rx="11.6" ry="7.9" fill="#e4e6e9"/>
<path d="M916.9 598.1 c-3 -3.5 3 -5.5 5.5 -3 c2.5 -2.5 8.500 -.5 5.5 3 c3 3.5 -3 5.5 -5.5 3 c-2.5 2.5 -8.5 .5 -5.5 -3z" fill="none" stroke="#34373c" stroke-width="2"/>
<path d="M942 621.8 a13.6 9.6 0 0 0 27.2 0 v6.5 a13.6 9.6 0 0 1 -27.2 0 z" fill="#0a0000"/>
<ellipse cx="955.6" cy="628.3" rx="13.6" ry="9.6" fill="#0a0000"/>
<ellipse cx="955.6" cy="621.8" rx="13.6" ry="9.6" fill="#0a0a0a"/>
<ellipse cx="955.6" cy="621.5" rx="11.6" ry="7.9" fill="#e4e6e9"/>
<path d="M950.1 621.8 c-3 -3.5 3 -5.5 5.5 -3 c2.5 -2.5 8.500 -.5 5.5 3 c3 3.5 -3 5.5 -5.5 3 c-2.5 2.5 -8.5 .5 -5.5 -3z" fill="none" stroke="#34373c" stroke-width="2"/>
<path d="M975.3 645.5 a13.6 9.6 0 0 0 27.2 0 v6.5 a13.6 9.6 0 0 1 -27.2 0 z" fill="#0a0000"/>
<ellipse cx="988.9" cy="652" rx="13.6" ry="9.6" fill="#0a0000"/>
<ellipse cx="988.9" cy="645.5" rx="13.6" ry="9.6" fill="#0a0a0a"/>
<ellipse cx="988.9" cy="645.2" rx="11.6" ry="7.9" fill="#e4e6e9"/>
<path d="M983.4 645.5 c-3 -3.5 3 -5.5 5.5 -3 c2.5 -2.5 8.500 -.5 5.5 3 c3 3.5 -3 5.5 -5.5 3 c-2.5 2.5 -8.5 .5 -5.5 -3z" fill="none" stroke="#34373c" stroke-width="2"/>
<path d="M1008.5 669.2 a13.6 9.6 0 0 0 27.2 0 v6.5 a13.6 9.6 0 0 1 -27.2 0 z" fill="#0a0000"/>
<ellipse cx="1022.1" cy="675.7" rx="13.6" ry="9.6" fill="#0a0000"/>
<ellipse cx="1022.1" cy="669.2" rx="13.6" ry="9.6" fill="#0a0a0a"/>
<ellipse cx="1022.1" cy="668.9" rx="11.6" ry="7.9" fill="#e4e6e9"/>
<path d="M1016.6 669.2 c-3 -3.5 3 -5.5 5.5 -3 c2.5 -2.5 8.500 -.5 5.5 3 c3 3.5 -3 5.5 -5.5 3 c-2.5 2.5 -8.5 .5 -5.5 -3z" fill="none" stroke="#34373c" stroke-width="2"/>
<polygon points="756.1,590.8 955.6,733 955.6,746.5 756.1,604.3" fill="#c2c6cb" stroke="#4a4d52" stroke-width="0.9" stroke-linejoin="round" />
<polygon points="955.6,733 1022.1,685.8 1022.1,699.3 955.6,746.5" fill="#d2d5d8" stroke="#4a4d52" stroke-width="0.9" stroke-linejoin="round" />
<polygon points="756.1,590.8 822.6,543.6 1022.1,685.8 955.6,733" fill="#cdd0d5" stroke="#4a4d52" stroke-width="0.9" stroke-linejoin="round" />
<path d="M809 560.8 a13.6 9.6 0 0 0 27.2 0 v6.5 a13.6 9.6 0 0 1 -27.2 0 z" fill="#0a0000"/>
<ellipse cx="822.6" cy="567.3" rx="13.6" ry="9.6" fill="#0a0000"/>
<ellipse cx="822.6" cy="560.8" rx="13.6" ry="9.6" fill="#0a0a0a"/>
<ellipse cx="822.6" cy="560.5" rx="11.6" ry="7.9" fill="#e4e6e9"/>
<path d="M817.1 560.8 c-3 -3.5 3 -5.5 5.5 -3 c2.5 -2.5 8.500 -.5 5.5 3 c3 3.5 -3 5.5 -5.5 3 c-2.5 2.5 -8.5 .5 -5.5 -3z" fill="none" stroke="#34373c" stroke-width="2"/>
<path d="M842.2 584.5 a13.6 9.6 0 0 0 27.2 0 v6.5 a13.6 9.6 0 0 1 -27.2 0 z" fill="#0a0000"/>
<ellipse cx="855.8" cy="591" rx="13.6" ry="9.6" fill="#0a0000"/>
<ellipse cx="855.8" cy="584.5" rx="13.6" ry="9.6" fill="#0a0a0a"/>
<ellipse cx="855.8" cy="584.2" rx="11.6" ry="7.9" fill="#e4e6e9"/>
<path d="M850.3 584.5 c-3 -3.5 3 -5.5 5.5 -3 c2.5 -2.5 8.500 -.5 5.5 3 c3 3.5 -3 5.5 -5.5 3 c-2.5 2.5 -8.5 .5 -5.5 -3z" fill="none" stroke="#34373c" stroke-width="2"/>
<path d="M875.5 608.2 a13.6 9.6 0 0 0 27.2 0 v6.5 a13.6 9.6 0 0 1 -27.2 0 z" fill="#0a0000"/>
<ellipse cx="889.1" cy="614.7" rx="13.6" ry="9.6" fill="#0a0000"/>
<ellipse cx="889.1" cy="608.2" rx="13.6" ry="9.6" fill="#0a0a0a"/>
<ellipse cx="889.1" cy="607.9" rx="11.6" ry="7.9" fill="#e4e6e9"/>
<path d="M883.6 608.2 c-3 -3.5 3 -5.5 5.5 -3 c2.5 -2.5 8.500 -.5 5.5 3 c3 3.5 -3 5.5 -5.5 3 c-2.5 2.5 -8.5 .5 -5.5 -3z" fill="none" stroke="#34373c" stroke-width="2"/>
<path d="M908.8 631.9 a13.6 9.6 0 0 0 27.2 0 v6.5 a13.6 9.6 0 0 1 -27.2 0 z" fill="#0a0000"/>
<ellipse cx="922.4" cy="638.4" rx="13.6" ry="9.6" fill="#0a0000"/>
<ellipse cx="922.4" cy="631.9" rx="13.6" ry="9.6" fill="#0a0a0a"/>
<ellipse cx="922.4" cy="631.6" rx="11.6" ry="7.9" fill="#e4e6e9"/>
<path d="M916.9 631.9 c-3 -3.5 3 -5.5 5.5 -3 c2.5 -2.5 8.500 -.5 5.5 3 c3 3.5 -3 5.5 -5.5 3 c-2.5 2.5 -8.5 .5 -5.5 -3z" fill="none" stroke="#34373c" stroke-width="2"/>
<path d="M942 655.6 a13.6 9.6 0 0 0 27.2 0 v6.5 a13.6 9.6 0 0 1 -27.2 0 z" fill="#0a0000"/>
<ellipse cx="955.6" cy="662.1" rx="13.6" ry="9.6" fill="#0a0000"/>
<ellipse cx="955.6" cy="655.6" rx="13.6" ry="9.6" fill="#0a0a0a"/>
<ellipse cx="955.6" cy="655.3" rx="11.6" ry="7.9" fill="#e4e6e9"/>
<path d="M950.1 655.6 c-3 -3.5 3 -5.5 5.5 -3 c2.5 -2.5 8.500 -.5 5.5 3 c3 3.5 -3 5.5 -5.5 3 c-2.5 2.5 -8.5 .5 -5.5 -3z" fill="none" stroke="#34373c" stroke-width="2"/>
<path d="M975.3 679.3 a13.6 9.6 0 0 0 27.2 0 v6.5 a13.6 9.6 0 0 1 -27.2 0 z" fill="#0a0000"/>
<ellipse cx="988.9" cy="685.8" rx="13.6" ry="9.6" fill="#0a0000"/>
<ellipse cx="988.9" cy="679.3" rx="13.6" ry="9.6" fill="#0a0a0a"/>
<ellipse cx="988.9" cy="679" rx="11.6" ry="7.9" fill="#e4e6e9"/>
<path d="M983.4 679.3 c-3 -3.5 3 -5.5 5.5 -3 c2.5 -2.5 8.500 -.5 5.5 3 c3 3.5 -3 5.5 -5.5 3 c-2.5 2.5 -8.5 .5 -5.5 -3z" fill="none" stroke="#34373c" stroke-width="2"/>
<path d="M775.7 584.3 a13.6 9.6 0 0 0 27.2 0 v6.5 a13.6 9.6 0 0 1 -27.2 0 z" fill="#0a0000"/>
<ellipse cx="789.3" cy="590.8" rx="13.6" ry="9.6" fill="#0a0000"/>
<ellipse cx="789.3" cy="584.3" rx="13.6" ry="9.6" fill="#0a0a0a"/>
<ellipse cx="789.3" cy="584" rx="11.6" ry="7.9" fill="#e4e6e9"/>
<path d="M783.8 584.3 c-3 -3.5 3 -5.5 5.5 -3 c2.5 -2.5 8.500 -.5 5.5 3 c3 3.5 -3 5.5 -5.5 3 c-2.5 2.5 -8.5 .5 -5.5 -3z" fill="none" stroke="#34373c" stroke-width="2"/>
<path d="M809 608 a13.6 9.6 0 0 0 27.2 0 v6.5 a13.6 9.6 0 0 1 -27.2 0 z" fill="#0a0000"/>
<ellipse cx="822.6" cy="614.5" rx="13.6" ry="9.6" fill="#0a0000"/>
<ellipse cx="822.6" cy="608" rx="13.6" ry="9.6" fill="#0a0a0a"/>
<ellipse cx="822.6" cy="607.7" rx="11.6" ry="7.9" fill="#e4e6e9"/>
<path d="M817.1 608 c-3 -3.5 3 -5.5 5.5 -3 c2.5 -2.5 8.500 -.5 5.5 3 c3 3.5 -3 5.5 -5.5 3 c-2.5 2.5 -8.5 .5 -5.5 -3z" fill="none" stroke="#34373c" stroke-width="2"/>
<path d="M842.2 631.7 a13.6 9.6 0 0 0 27.2 0 v6.5 a13.6 9.6 0 0 1 -27.2 0 z" fill="#0a0000"/>
<ellipse cx="855.8" cy="638.2" rx="13.6" ry="9.6" fill="#0a0000"/>
<ellipse cx="855.8" cy="631.7" rx="13.6" ry="9.6" fill="#0a0a0a"/>
<ellipse cx="855.8" cy="631.4" rx="11.6" ry="7.9" fill="#e4e6e9"/>
<path d="M850.3 631.7 c-3 -3.5 3 -5.5 5.5 -3 c2.5 -2.5 8.500 -.5 5.5 3 c3 3.5 -3 5.5 -5.5 3 c-2.5 2.5 -8.5 .5 -5.5 -3z" fill="none" stroke="#34373c" stroke-width="2"/>
<path d="M875.5 655.4 a13.6 9.6 0 0 0 27.2 0 v6.5 a13.6 9.6 0 0 1 -27.2 0 z" fill="#0a0000"/>
<ellipse cx="889.1" cy="661.9" rx="13.6" ry="9.6" fill="#0a0000"/>
<ellipse cx="889.1" cy="655.4" rx="13.6" ry="9.6" fill="#0a0a0a"/>
<ellipse cx="889.1" cy="655.1" rx="11.6" ry="7.9" fill="#e4e6e9"/>
<path d="M883.6 655.4 c-3 -3.5 3 -5.5 5.5 -3 c2.5 -2.5 8.500 -.5 5.5 3 c3 3.5 -3 5.5 -5.5 3 c-2.5 2.5 -8.5 .5 -5.5 -3z" fill="none" stroke="#34373c" stroke-width="2"/>
<path d="M908.8 679.1 a13.6 9.6 0 0 0 27.2 0 v6.5 a13.6 9.6 0 0 1 -27.2 0 z" fill="#0a0000"/>
<ellipse cx="922.4" cy="685.6" rx="13.6" ry="9.6" fill="#0a0000"/>
<ellipse cx="922.4" cy="679.1" rx="13.6" ry="9.6" fill="#0a0a0a"/>
<ellipse cx="922.4" cy="678.8" rx="11.6" ry="7.9" fill="#e4e6e9"/>
<path d="M916.9 679.1 c-3 -3.5 3 -5.5 5.5 -3 c2.5 -2.5 8.500 -.5 5.5 3 c3 3.5 -3 5.5 -5.5 3 c-2.5 2.5 -8.5 .5 -5.5 -3z" fill="none" stroke="#34373c" stroke-width="2"/>
<path d="M942 702.8 a13.6 9.6 0 0 0 27.2 0 v6.5 a13.6 9.6 0 0 1 -27.2 0 z" fill="#0a0000"/>
<ellipse cx="955.6" cy="709.3" rx="13.6" ry="9.6" fill="#0a0000"/>
<ellipse cx="955.6" cy="702.8" rx="13.6" ry="9.6" fill="#0a0a0a"/>
<ellipse cx="955.6" cy="702.5" rx="11.6" ry="7.9" fill="#e4e6e9"/>
<path d="M950.1 702.8 c-3 -3.5 3 -5.5 5.5 -3 c2.5 -2.5 8.500 -.5 5.5 3 c3 3.5 -3 5.5 -5.5 3 c-2.5 2.5 -8.5 .5 -5.5 -3z" fill="none" stroke="#34373c" stroke-width="2"/>
<polygon points="722.8,627.8 922.4,770 922.4,783.5 722.8,641.3" fill="#c2c6cb" stroke="#4a4d52" stroke-width="0.9" stroke-linejoin="round" />
<polygon points="922.4,770 955.6,746.5 955.6,760 922.4,783.5" fill="#d2d5d8" stroke="#4a4d52" stroke-width="0.9" stroke-linejoin="round" />
<polygon points="722.8,627.8 756.1,604.3 955.6,746.5 922.4,770" fill="#cdd0d5" stroke="#4a4d52" stroke-width="0.9" stroke-linejoin="round" />
<path d="M742.5 621.4 a13.6 9.6 0 0 0 27.2 0 v6.5 a13.6 9.6 0 0 1 -27.2 0 z" fill="#0a0000"/>
<ellipse cx="756.1" cy="627.9" rx="13.6" ry="9.6" fill="#0a0000"/>
<ellipse cx="756.1" cy="621.4" rx="13.6" ry="9.6" fill="#0a0a0a"/>
<ellipse cx="756.1" cy="621.1" rx="11.6" ry="7.9" fill="#e4e6e9"/>
<path d="M750.6 621.4 c-3 -3.5 3 -5.5 5.5 -3 c2.5 -2.5 8.500 -.5 5.5 3 c3 3.5 -3 5.5 -5.5 3 c-2.5 2.5 -8.5 .5 -5.5 -3z" fill="none" stroke="#34373c" stroke-width="2"/>
<path d="M775.7 645.1 a13.6 9.6 0 0 0 27.2 0 v6.5 a13.6 9.6 0 0 1 -27.2 0 z" fill="#0a0000"/>
<ellipse cx="789.3" cy="651.6" rx="13.6" ry="9.6" fill="#0a0000"/>
<ellipse cx="789.3" cy="645.1" rx="13.6" ry="9.6" fill="#0a0a0a"/>
<ellipse cx="789.3" cy="644.8" rx="11.6" ry="7.9" fill="#e4e6e9"/>
<path d="M783.8 645.1 c-3 -3.5 3 -5.5 5.5 -3 c2.5 -2.5 8.500 -.5 5.5 3 c3 3.5 -3 5.5 -5.5 3 c-2.5 2.5 -8.5 .5 -5.5 -3z" fill="none" stroke="#34373c" stroke-width="2"/>
<path d="M809 668.8 a13.6 9.6 0 0 0 27.2 0 v6.5 a13.6 9.6 0 0 1 -27.2 0 z" fill="#0a0000"/>
<ellipse cx="822.6" cy="675.3" rx="13.6" ry="9.6" fill="#0a0000"/>
<ellipse cx="822.6" cy="668.8" rx="13.6" ry="9.6" fill="#0a0a0a"/>
<ellipse cx="822.6" cy="668.5" rx="11.6" ry="7.9" fill="#e4e6e9"/>
<path d="M817.1 668.8 c-3 -3.5 3 -5.5 5.5 -3 c2.5 -2.5 8.500 -.5 5.5 3 c3 3.5 -3 5.5 -5.5 3 c-2.5 2.5 -8.5 .5 -5.5 -3z" fill="none" stroke="#34373c" stroke-width="2"/>
<path d="M842.2 692.5 a13.6 9.6 0 0 0 27.2 0 v6.5 a13.6 9.6 0 0 1 -27.2 0 z" fill="#0a0000"/>
<ellipse cx="855.8" cy="699" rx="13.6" ry="9.6" fill="#0a0000"/>
<ellipse cx="855.8" cy="692.5" rx="13.6" ry="9.6" fill="#0a0a0a"/>
<ellipse cx="855.8" cy="692.2" rx="11.6" ry="7.9" fill="#e4e6e9"/>
<path d="M850.3 692.5 c-3 -3.5 3 -5.5 5.5 -3 c2.5 -2.5 8.500 -.5 5.5 3 c3 3.5 -3 5.5 -5.5 3 c-2.5 2.5 -8.5 .5 -5.5 -3z" fill="none" stroke="#34373c" stroke-width="2"/>
<path d="M875.5 716.2 a13.6 9.6 0 0 0 27.2 0 v6.5 a13.6 9.6 0 0 1 -27.2 0 z" fill="#0a0000"/>
<ellipse cx="889.1" cy="722.7" rx="13.6" ry="9.6" fill="#0a0000"/>
<ellipse cx="889.1" cy="716.2" rx="13.6" ry="9.6" fill="#0a0a0a"/>
<ellipse cx="889.1" cy="715.9" rx="11.6" ry="7.9" fill="#e4e6e9"/>
<path d="M883.6 716.2 c-3 -3.5 3 -5.5 5.5 -3 c2.5 -2.5 8.500 -.5 5.5 3 c3 3.5 -3 5.5 -5.5 3 c-2.5 2.5 -8.5 .5 -5.5 -3z" fill="none" stroke="#34373c" stroke-width="2"/>
<path d="M908.8 739.9 a13.6 9.6 0 0 0 27.2 0 v6.5 a13.6 9.6 0 0 1 -27.2 0 z" fill="#0a0000"/>
<ellipse cx="922.4" cy="746.4" rx="13.6" ry="9.6" fill="#0a0000"/>
<ellipse cx="922.4" cy="739.9" rx="13.6" ry="9.6" fill="#0a0a0a"/>
<ellipse cx="922.4" cy="739.6" rx="11.6" ry="7.9" fill="#e4e6e9"/>
<path d="M916.9 739.9 c-3 -3.5 3 -5.5 5.5 -3 c2.5 -2.5 8.500 -.5 5.5 3 c3 3.5 -3 5.5 -5.5 3 c-2.5 2.5 -8.5 .5 -5.5 -3z" fill="none" stroke="#34373c" stroke-width="2"/>
<polygon points="356.9,900.6 556.5,1042.8 556.5,1056.3 356.9,914.1" fill="#c2c6cb" stroke="#4a4d52" stroke-width="0.9" stroke-linejoin="round" />
<polygon points="556.5,1042.8 922.4,783.5 922.4,797 556.5,1056.3" fill="#d2d5d8" stroke="#4a4d52" stroke-width="0.9" stroke-linejoin="round" />
<polygon points="356.9,900.6 722.8,641.4 922.4,783.5 556.5,1042.8" fill="#cdd0d5" stroke="#4a4d52" stroke-width="0.9" stroke-linejoin="round" />
<path d="M709.2 658.5 a13.6 9.6 0 0 0 27.2 0 v6.5 a13.6 9.6 0 0 1 -27.2 0 z" fill="#0a0000"/>
<ellipse cx="722.8" cy="665" rx="13.6" ry="9.6" fill="#0a0000"/>
<ellipse cx="722.8" cy="658.5" rx="13.6" ry="9.6" fill="#0a0a0a"/>
<ellipse cx="722.8" cy="658.2" rx="11.6" ry="7.9" fill="#e4e6e9"/>
<path d="M717.3 658.5 c-3 -3.5 3 -5.5 5.5 -3 c2.5 -2.5 8.500 -.5 5.5 3 c3 3.5 -3 5.5 -5.5 3 c-2.5 2.5 -8.5 .5 -5.5 -3z" fill="none" stroke="#34373c" stroke-width="2"/>
<path d="M742.5 682.2 a13.6 9.6 0 0 0 27.2 0 v6.5 a13.6 9.6 0 0 1 -27.2 0 z" fill="#0a0000"/>
<ellipse cx="756.1" cy="688.7" rx="13.6" ry="9.6" fill="#0a0000"/>
<ellipse cx="756.1" cy="682.2" rx="13.6" ry="9.6" fill="#0a0a0a"/>
<ellipse cx="756.1" cy="681.9" rx="11.6" ry="7.9" fill="#e4e6e9"/>
<path d="M750.6 682.2 c-3 -3.5 3 -5.5 5.5 -3 c2.5 -2.5 8.500 -.5 5.5 3 c3 3.5 -3 5.5 -5.5 3 c-2.5 2.5 -8.5 .5 -5.5 -3z" fill="none" stroke="#34373c" stroke-width="2"/>
<path d="M775.7 705.9 a13.6 9.6 0 0 0 27.2 0 v6.5 a13.6 9.6 0 0 1 -27.2 0 z" fill="#0a0000"/>
<ellipse cx="789.3" cy="712.4" rx="13.6" ry="9.6" fill="#0a0000"/>
<ellipse cx="789.3" cy="705.9" rx="13.6" ry="9.6" fill="#0a0a0a"/>
<ellipse cx="789.3" cy="705.6" rx="11.6" ry="7.9" fill="#e4e6e9"/>
<path d="M783.8 705.9 c-3 -3.5 3 -5.5 5.5 -3 c2.5 -2.5 8.500 -.5 5.5 3 c3 3.5 -3 5.5 -5.5 3 c-2.5 2.5 -8.5 .5 -5.5 -3z" fill="none" stroke="#34373c" stroke-width="2"/>
<path d="M809 729.6 a13.6 9.6 0 0 0 27.2 0 v6.5 a13.6 9.6 0 0 1 -27.2 0 z" fill="#0a0000"/>
<ellipse cx="822.6" cy="736.1" rx="13.6" ry="9.6" fill="#0a0000"/>
<ellipse cx="822.6" cy="729.6" rx="13.6" ry="9.6" fill="#0a0a0a"/>
<ellipse cx="822.6" cy="729.3" rx="11.6" ry="7.9" fill="#e4e6e9"/>
<path d="M817.1 729.6 c-3 -3.5 3 -5.5 5.5 -3 c2.5 -2.5 8.500 -.5 5.5 3 c3 3.5 -3 5.5 -5.5 3 c-2.5 2.5 -8.5 .5 -5.5 -3z" fill="none" stroke="#34373c" stroke-width="2"/>
<path d="M842.2 753.3 a13.6 9.6 0 0 0 27.2 0 v6.5 a13.6 9.6 0 0 1 -27.2 0 z" fill="#0a0000"/>
<ellipse cx="855.8" cy="759.8" rx="13.6" ry="9.6" fill="#0a0000"/>
<ellipse cx="855.8" cy="753.3" rx="13.6" ry="9.6" fill="#0a0a0a"/>
<ellipse cx="855.8" cy="753" rx="11.6" ry="7.9" fill="#e4e6e9"/>
<path d="M850.3 753.3 c-3 -3.5 3 -5.5 5.5 -3 c2.5 -2.5 8.500 -.5 5.5 3 c3 3.5 -3 5.5 -5.5 3 c-2.5 2.5 -8.5 .5 -5.5 -3z" fill="none" stroke="#34373c" stroke-width="2"/>
<path d="M875.5 777 a13.6 9.6 0 0 0 27.2 0 v6.5 a13.6 9.6 0 0 1 -27.2 0 z" fill="#0a0000"/>
<ellipse cx="889.1" cy="783.5" rx="13.6" ry="9.6" fill="#0a0000"/>
<ellipse cx="889.1" cy="777" rx="13.6" ry="9.6" fill="#0a0a0a"/>
<ellipse cx="889.1" cy="776.7" rx="11.6" ry="7.9" fill="#e4e6e9"/>
<path d="M883.6 777 c-3 -3.5 3 -5.5 5.5 -3 c2.5 -2.5 8.500 -.5 5.5 3 c3 3.5 -3 5.5 -5.5 3 c-2.5 2.5 -8.5 .5 -5.5 -3z" fill="none" stroke="#34373c" stroke-width="2"/>
<path d="M675.9 682.1 a13.6 9.6 0 0 0 27.2 0 v6.5 a13.6 9.6 0 0 1 -27.2 0 z" fill="#0a0000"/>
<ellipse cx="689.5" cy="688.6" rx="13.6" ry="9.6" fill="#0a0000"/>
<ellipse cx="689.5" cy="682.1" rx="13.6" ry="9.6" fill="#0a0a0a"/>
<ellipse cx="689.5" cy="681.8" rx="11.6" ry="7.9" fill="#e4e6e9"/>
<path d="M684 682.1 c-3 -3.5 3 -5.5 5.5 -3 c2.5 -2.5 8.500 -.5 5.5 3 c3 3.5 -3 5.5 -5.5 3 c-2.5 2.5 -8.5 .5 -5.5 -3z" fill="none" stroke="#34373c" stroke-width="2"/>
<path d="M709.2 705.8 a13.6 9.6 0 0 0 27.2 0 v6.5 a13.6 9.6 0 0 1 -27.2 0 z" fill="#0a0000"/>
<ellipse cx="722.8" cy="712.3" rx="13.6" ry="9.6" fill="#0a0000"/>
<ellipse cx="722.8" cy="705.8" rx="13.6" ry="9.6" fill="#0a0a0a"/>
<ellipse cx="722.8" cy="705.5" rx="11.6" ry="7.9" fill="#e4e6e9"/>
<path d="M717.3 705.8 c-3 -3.5 3 -5.5 5.5 -3 c2.5 -2.5 8.500 -.5 5.5 3 c3 3.5 -3 5.5 -5.5 3 c-2.5 2.5 -8.5 .5 -5.5 -3z" fill="none" stroke="#34373c" stroke-width="2"/>
<path d="M742.5 729.5 a13.6 9.6 0 0 0 27.2 0 v6.5 a13.6 9.6 0 0 1 -27.2 0 z" fill="#0a0000"/>
<ellipse cx="756.1" cy="736" rx="13.6" ry="9.6" fill="#0a0000"/>
<ellipse cx="756.1" cy="729.5" rx="13.6" ry="9.6" fill="#0a0a0a"/>
<ellipse cx="756.1" cy="729.2" rx="11.6" ry="7.9" fill="#e4e6e9"/>
<path d="M750.6 729.5 c-3 -3.5 3 -5.5 5.5 -3 c2.5 -2.5 8.500 -.5 5.5 3 c3 3.5 -3 5.5 -5.5 3 c-2.5 2.5 -8.5 .5 -5.5 -3z" fill="none" stroke="#34373c" stroke-width="2"/>
<path d="M775.7 753.2 a13.6 9.6 0 0 0 27.2 0 v6.5 a13.6 9.6 0 0 1 -27.2 0 z" fill="#0a0000"/>
<ellipse cx="789.3" cy="759.7" rx="13.6" ry="9.6" fill="#0a0000"/>
<ellipse cx="789.3" cy="753.2" rx="13.6" ry="9.6" fill="#0a0a0a"/>
<ellipse cx="789.3" cy="752.9" rx="11.6" ry="7.9" fill="#e4e6e9"/>
<path d="M783.8 753.2 c-3 -3.5 3 -5.5 5.5 -3 c2.5 -2.5 8.500 -.5 5.5 3 c3 3.5 -3 5.5 -5.5 3 c-2.5 2.5 -8.5 .5 -5.5 -3z" fill="none" stroke="#34373c" stroke-width="2"/>
<path d="M809 776.9 a13.6 9.6 0 0 0 27.2 0 v6.5 a13.6 9.6 0 0 1 -27.2 0 z" fill="#0a0000"/>
<ellipse cx="822.6" cy="783.4" rx="13.6" ry="9.6" fill="#0a0000"/>
<ellipse cx="822.6" cy="776.9" rx="13.6" ry="9.6" fill="#0a0a0a"/>
<ellipse cx="822.6" cy="776.6" rx="11.6" ry="7.9" fill="#e4e6e9"/>
<path d="M817.1 776.9 c-3 -3.5 3 -5.5 5.5 -3 c2.5 -2.5 8.500 -.5 5.5 3 c3 3.5 -3 5.5 -5.5 3 c-2.5 2.5 -8.5 .5 -5.5 -3z" fill="none" stroke="#34373c" stroke-width="2"/>
<path d="M842.2 800.6 a13.6 9.6 0 0 0 27.2 0 v6.5 a13.6 9.6 0 0 1 -27.2 0 z" fill="#0a0000"/>
<ellipse cx="855.8" cy="807.1" rx="13.6" ry="9.6" fill="#0a0000"/>
<ellipse cx="855.8" cy="800.6" rx="13.6" ry="9.6" fill="#0a0a0a"/>
<ellipse cx="855.8" cy="800.3" rx="11.6" ry="7.9" fill="#e4e6e9"/>
<path d="M850.3 800.6 c-3 -3.5 3 -5.5 5.5 -3 c2.5 -2.5 8.500 -.5 5.5 3 c3 3.5 -3 5.5 -5.5 3 c-2.5 2.5 -8.5 .5 -5.5 -3z" fill="none" stroke="#34373c" stroke-width="2"/>
<path d="M642.7 705.6 a13.6 9.6 0 0 0 27.2 0 v6.5 a13.6 9.6 0 0 1 -27.2 0 z" fill="#0a0000"/>
<ellipse cx="656.3" cy="712.1" rx="13.6" ry="9.6" fill="#0a0000"/>
<ellipse cx="656.3" cy="705.6" rx="13.6" ry="9.6" fill="#0a0a0a"/>
<ellipse cx="656.3" cy="705.3" rx="11.6" ry="7.9" fill="#e4e6e9"/>
<path d="M650.8 705.6 c-3 -3.5 3 -5.5 5.5 -3 c2.5 -2.5 8.500 -.5 5.5 3 c3 3.5 -3 5.5 -5.5 3 c-2.5 2.5 -8.5 .5 -5.5 -3z" fill="none" stroke="#34373c" stroke-width="2"/>
<path d="M675.9 729.3 a13.6 9.6 0 0 0 27.2 0 v6.5 a13.6 9.6 0 0 1 -27.2 0 z" fill="#0a0000"/>
<ellipse cx="689.5" cy="735.8" rx="13.6" ry="9.6" fill="#0a0000"/>
<ellipse cx="689.5" cy="729.3" rx="13.6" ry="9.6" fill="#0a0a0a"/>
<ellipse cx="689.5" cy="729" rx="11.6" ry="7.9" fill="#e4e6e9"/>
<path d="M684 729.3 c-3 -3.5 3 -5.5 5.5 -3 c2.5 -2.5 8.500 -.5 5.5 3 c3 3.5 -3 5.5 -5.5 3 c-2.5 2.5 -8.5 .5 -5.5 -3z" fill="none" stroke="#34373c" stroke-width="2"/>
<path d="M709.2 753 a13.6 9.6 0 0 0 27.2 0 v6.5 a13.6 9.6 0 0 1 -27.2 0 z" fill="#0a0000"/>
<ellipse cx="722.8" cy="759.5" rx="13.6" ry="9.6" fill="#0a0000"/>
<ellipse cx="722.8" cy="753" rx="13.6" ry="9.6" fill="#0a0a0a"/>
<ellipse cx="722.8" cy="752.7" rx="11.6" ry="7.9" fill="#e4e6e9"/>
<path d="M717.3 753 c-3 -3.5 3 -5.5 5.5 -3 c2.5 -2.5 8.500 -.5 5.5 3 c3 3.5 -3 5.5 -5.5 3 c-2.5 2.5 -8.5 .5 -5.5 -3z" fill="none" stroke="#34373c" stroke-width="2"/>
<path d="M742.5 776.7 a13.6 9.6 0 0 0 27.2 0 v6.5 a13.6 9.6 0 0 1 -27.2 0 z" fill="#0a0000"/>
<ellipse cx="756.1" cy="783.2" rx="13.6" ry="9.6" fill="#0a0000"/>
<ellipse cx="756.1" cy="776.7" rx="13.6" ry="9.6" fill="#0a0a0a"/>
<ellipse cx="756.1" cy="776.4" rx="11.6" ry="7.9" fill="#e4e6e9"/>
<path d="M750.6 776.7 c-3 -3.5 3 -5.5 5.5 -3 c2.5 -2.5 8.500 -.5 5.5 3 c3 3.5 -3 5.5 -5.5 3 c-2.5 2.5 -8.5 .5 -5.5 -3z" fill="none" stroke="#34373c" stroke-width="2"/>
<path d="M775.7 800.4 a13.6 9.6 0 0 0 27.2 0 v6.5 a13.6 9.6 0 0 1 -27.2 0 z" fill="#0a0000"/>
<ellipse cx="789.3" cy="806.9" rx="13.6" ry="9.6" fill="#0a0000"/>
<ellipse cx="789.3" cy="800.4" rx="13.6" ry="9.6" fill="#0a0a0a"/>
<ellipse cx="789.3" cy="800.1" rx="11.6" ry="7.9" fill="#e4e6e9"/>
<path d="M783.8 800.4 c-3 -3.5 3 -5.5 5.5 -3 c2.5 -2.5 8.500 -.5 5.5 3 c3 3.5 -3 5.5 -5.5 3 c-2.5 2.5 -8.5 .5 -5.5 -3z" fill="none" stroke="#34373c" stroke-width="2"/>
<path d="M809 824.1 a13.6 9.6 0 0 0 27.2 0 v6.5 a13.6 9.6 0 0 1 -27.2 0 z" fill="#0a0000"/>
<ellipse cx="822.6" cy="830.6" rx="13.6" ry="9.6" fill="#0a0000"/>
<ellipse cx="822.6" cy="824.1" rx="13.6" ry="9.6" fill="#0a0a0a"/>
<ellipse cx="822.6" cy="823.8" rx="11.6" ry="7.9" fill="#e4e6e9"/>
<path d="M817.1 824.1 c-3 -3.5 3 -5.5 5.5 -3 c2.5 -2.5 8.500 -.5 5.5 3 c3 3.5 -3 5.5 -5.5 3 c-2.5 2.5 -8.5 .5 -5.5 -3z" fill="none" stroke="#34373c" stroke-width="2"/>
<path d="M609.4 729.2 a13.6 9.6 0 0 0 27.2 0 v6.5 a13.6 9.6 0 0 1 -27.2 0 z" fill="#0a0000"/>
<ellipse cx="623" cy="735.7" rx="13.6" ry="9.6" fill="#0a0000"/>
<ellipse cx="623" cy="729.2" rx="13.6" ry="9.6" fill="#0a0a0a"/>
<ellipse cx="623" cy="728.9" rx="11.6" ry="7.9" fill="#e4e6e9"/>
<path d="M617.5 729.2 c-3 -3.5 3 -5.5 5.5 -3 c2.5 -2.5 8.500 -.5 5.5 3 c3 3.5 -3 5.5 -5.5 3 c-2.5 2.5 -8.5 .5 -5.5 -3z" fill="none" stroke="#34373c" stroke-width="2"/>
<path d="M642.7 752.9 a13.6 9.6 0 0 0 27.2 0 v6.5 a13.6 9.6 0 0 1 -27.2 0 z" fill="#0a0000"/>
<ellipse cx="656.3" cy="759.4" rx="13.6" ry="9.6" fill="#0a0000"/>
<ellipse cx="656.3" cy="752.9" rx="13.6" ry="9.6" fill="#0a0a0a"/>
<ellipse cx="656.3" cy="752.6" rx="11.6" ry="7.9" fill="#e4e6e9"/>
<path d="M650.8 752.9 c-3 -3.5 3 -5.5 5.5 -3 c2.5 -2.5 8.500 -.5 5.5 3 c3 3.5 -3 5.5 -5.5 3 c-2.5 2.5 -8.5 .5 -5.5 -3z" fill="none" stroke="#34373c" stroke-width="2"/>
<path d="M675.9 776.6 a13.6 9.6 0 0 0 27.2 0 v6.5 a13.6 9.6 0 0 1 -27.2 0 z" fill="#0a0000"/>
<ellipse cx="689.5" cy="783.1" rx="13.6" ry="9.6" fill="#0a0000"/>
<ellipse cx="689.5" cy="776.6" rx="13.6" ry="9.6" fill="#0a0a0a"/>
<ellipse cx="689.5" cy="776.3" rx="11.6" ry="7.9" fill="#e4e6e9"/>
<path d="M684 776.6 c-3 -3.5 3 -5.5 5.5 -3 c2.5 -2.5 8.500 -.5 5.5 3 c3 3.5 -3 5.5 -5.5 3 c-2.5 2.5 -8.5 .5 -5.5 -3z" fill="none" stroke="#34373c" stroke-width="2"/>
<path d="M709.2 800.3 a13.6 9.6 0 0 0 27.2 0 v6.5 a13.6 9.6 0 0 1 -27.2 0 z" fill="#0a0000"/>
<ellipse cx="722.8" cy="806.8" rx="13.6" ry="9.6" fill="#0a0000"/>
<ellipse cx="722.8" cy="800.3" rx="13.6" ry="9.6" fill="#0a0a0a"/>
<ellipse cx="722.8" cy="800" rx="11.6" ry="7.9" fill="#e4e6e9"/>
<path d="M717.3 800.3 c-3 -3.5 3 -5.5 5.5 -3 c2.5 -2.5 8.500 -.5 5.5 3 c3 3.5 -3 5.5 -5.5 3 c-2.5 2.5 -8.5 .5 -5.5 -3z" fill="none" stroke="#34373c" stroke-width="2"/>
<path d="M742.5 824 a13.6 9.6 0 0 0 27.2 0 v6.5 a13.6 9.6 0 0 1 -27.2 0 z" fill="#0a0000"/>
<ellipse cx="756.1" cy="830.5" rx="13.6" ry="9.6" fill="#0a0000"/>
<ellipse cx="756.1" cy="824" rx="13.6" ry="9.6" fill="#0a0a0a"/>
<ellipse cx="756.1" cy="823.7" rx="11.6" ry="7.9" fill="#e4e6e9"/>
<path d="M750.6 824 c-3 -3.5 3 -5.5 5.5 -3 c2.5 -2.5 8.500 -.5 5.5 3 c3 3.5 -3 5.5 -5.5 3 c-2.5 2.5 -8.5 .5 -5.5 -3z" fill="none" stroke="#34373c" stroke-width="2"/>
<path d="M775.7 847.7 a13.6 9.6 0 0 0 27.2 0 v6.5 a13.6 9.6 0 0 1 -27.2 0 z" fill="#0a0000"/>
<ellipse cx="789.3" cy="854.2" rx="13.6" ry="9.6" fill="#0a0000"/>
<ellipse cx="789.3" cy="847.7" rx="13.6" ry="9.6" fill="#0a0a0a"/>
<ellipse cx="789.3" cy="847.4" rx="11.6" ry="7.9" fill="#e4e6e9"/>
<path d="M783.8 847.7 c-3 -3.5 3 -5.5 5.5 -3 c2.5 -2.5 8.500 -.5 5.5 3 c3 3.5 -3 5.5 -5.5 3 c-2.5 2.5 -8.5 .5 -5.5 -3z" fill="none" stroke="#34373c" stroke-width="2"/>
<path d="M576.2 752.8 a13.6 9.6 0 0 0 27.2 0 v6.5 a13.6 9.6 0 0 1 -27.2 0 z" fill="#0a0000"/>
<ellipse cx="589.8" cy="759.3" rx="13.6" ry="9.6" fill="#0a0000"/>
<ellipse cx="589.8" cy="752.8" rx="13.6" ry="9.6" fill="#0a0a0a"/>
<ellipse cx="589.8" cy="752.5" rx="11.6" ry="7.9" fill="#e4e6e9"/>
<path d="M584.3 752.8 c-3 -3.5 3 -5.5 5.5 -3 c2.5 -2.5 8.500 -.5 5.5 3 c3 3.5 -3 5.5 -5.5 3 c-2.5 2.5 -8.5 .5 -5.5 -3z" fill="none" stroke="#34373c" stroke-width="2"/>
<path d="M609.4 776.5 a13.6 9.6 0 0 0 27.2 0 v6.5 a13.6 9.6 0 0 1 -27.2 0 z" fill="#0a0000"/>
<ellipse cx="623" cy="783" rx="13.6" ry="9.6" fill="#0a0000"/>
<ellipse cx="623" cy="776.5" rx="13.6" ry="9.6" fill="#0a0a0a"/>
<ellipse cx="623" cy="776.2" rx="11.6" ry="7.9" fill="#e4e6e9"/>
<path d="M617.5 776.5 c-3 -3.5 3 -5.5 5.5 -3 c2.5 -2.5 8.500 -.5 5.5 3 c3 3.5 -3 5.5 -5.5 3 c-2.5 2.5 -8.5 .5 -5.5 -3z" fill="none" stroke="#34373c" stroke-width="2"/>
<path d="M642.7 800.2 a13.6 9.6 0 0 0 27.2 0 v6.5 a13.6 9.6 0 0 1 -27.2 0 z" fill="#0a0000"/>
<ellipse cx="656.3" cy="806.7" rx="13.6" ry="9.6" fill="#0a0000"/>
<ellipse cx="656.3" cy="800.2" rx="13.6" ry="9.6" fill="#0a0a0a"/>
<ellipse cx="656.3" cy="799.9" rx="11.6" ry="7.9" fill="#e4e6e9"/>
<path d="M650.8 800.2 c-3 -3.5 3 -5.5 5.5 -3 c2.5 -2.5 8.500 -.5 5.5 3 c3 3.5 -3 5.5 -5.5 3 c-2.5 2.5 -8.5 .5 -5.5 -3z" fill="none" stroke="#34373c" stroke-width="2"/>
<path d="M675.9 823.9 a13.6 9.6 0 0 0 27.2 0 v6.5 a13.6 9.6 0 0 1 -27.2 0 z" fill="#0a0000"/>
<ellipse cx="689.5" cy="830.4" rx="13.6" ry="9.6" fill="#0a0000"/>
<ellipse cx="689.5" cy="823.9" rx="13.6" ry="9.6" fill="#0a0a0a"/>
<ellipse cx="689.5" cy="823.6" rx="11.6" ry="7.9" fill="#e4e6e9"/>
<path d="M684 823.9 c-3 -3.5 3 -5.5 5.5 -3 c2.5 -2.5 8.500 -.5 5.5 3 c3 3.5 -3 5.5 -5.5 3 c-2.5 2.5 -8.5 .5 -5.5 -3z" fill="none" stroke="#34373c" stroke-width="2"/>
<path d="M709.2 847.6 a13.6 9.6 0 0 0 27.2 0 v6.5 a13.6 9.6 0 0 1 -27.2 0 z" fill="#0a0000"/>
<ellipse cx="722.8" cy="854.1" rx="13.6" ry="9.6" fill="#0a0000"/>
<ellipse cx="722.8" cy="847.6" rx="13.6" ry="9.6" fill="#0a0a0a"/>
<ellipse cx="722.8" cy="847.3" rx="11.6" ry="7.9" fill="#e4e6e9"/>
<path d="M717.3 847.6 c-3 -3.5 3 -5.5 5.5 -3 c2.5 -2.5 8.500 -.5 5.5 3 c3 3.5 -3 5.5 -5.5 3 c-2.5 2.5 -8.5 .5 -5.5 -3z" fill="none" stroke="#34373c" stroke-width="2"/>
<path d="M742.5 871.3 a13.6 9.6 0 0 0 27.2 0 v6.5 a13.6 9.6 0 0 1 -27.2 0 z" fill="#0a0000"/>
<ellipse cx="756.1" cy="877.8" rx="13.6" ry="9.6" fill="#0a0000"/>
<ellipse cx="756.1" cy="871.3" rx="13.6" ry="9.6" fill="#0a0a0a"/>
<ellipse cx="756.1" cy="871" rx="11.6" ry="7.9" fill="#e4e6e9"/>
<path d="M750.6 871.3 c-3 -3.5 3 -5.5 5.5 -3 c2.5 -2.5 8.500 -.5 5.5 3 c3 3.5 -3 5.5 -5.5 3 c-2.5 2.5 -8.5 .5 -5.5 -3z" fill="none" stroke="#34373c" stroke-width="2"/>
<path d="M542.9 776.3 a13.6 9.6 0 0 0 27.2 0 v6.5 a13.6 9.6 0 0 1 -27.2 0 z" fill="#0a0000"/>
<ellipse cx="556.5" cy="782.8" rx="13.6" ry="9.6" fill="#0a0000"/>
<ellipse cx="556.5" cy="776.3" rx="13.6" ry="9.6" fill="#0a0a0a"/>
<ellipse cx="556.5" cy="776" rx="11.6" ry="7.9" fill="#e4e6e9"/>
<path d="M551 776.3 c-3 -3.5 3 -5.5 5.5 -3 c2.5 -2.5 8.500 -.5 5.5 3 c3 3.5 -3 5.5 -5.5 3 c-2.5 2.5 -8.5 .5 -5.5 -3z" fill="none" stroke="#34373c" stroke-width="2"/>
<path d="M576.2 800 a13.6 9.6 0 0 0 27.2 0 v6.5 a13.6 9.6 0 0 1 -27.2 0 z" fill="#0a0000"/>
<ellipse cx="589.8" cy="806.5" rx="13.6" ry="9.6" fill="#0a0000"/>
<ellipse cx="589.8" cy="800" rx="13.6" ry="9.6" fill="#0a0a0a"/>
<ellipse cx="589.8" cy="799.7" rx="11.6" ry="7.9" fill="#e4e6e9"/>
<path d="M584.3 800 c-3 -3.5 3 -5.5 5.5 -3 c2.5 -2.5 8.500 -.5 5.5 3 c3 3.5 -3 5.5 -5.5 3 c-2.5 2.5 -8.5 .5 -5.5 -3z" fill="none" stroke="#34373c" stroke-width="2"/>
<path d="M609.4 823.7 a13.6 9.6 0 0 0 27.2 0 v6.5 a13.6 9.6 0 0 1 -27.2 0 z" fill="#0a0000"/>
<ellipse cx="623" cy="830.2" rx="13.6" ry="9.6" fill="#0a0000"/>
<ellipse cx="623" cy="823.7" rx="13.6" ry="9.6" fill="#0a0a0a"/>
<ellipse cx="623" cy="823.4" rx="11.6" ry="7.9" fill="#e4e6e9"/>
<path d="M617.5 823.7 c-3 -3.5 3 -5.5 5.5 -3 c2.5 -2.5 8.500 -.5 5.5 3 c3 3.5 -3 5.5 -5.5 3 c-2.5 2.5 -8.5 .5 -5.5 -3z" fill="none" stroke="#34373c" stroke-width="2"/>
<path d="M642.7 847.4 a13.6 9.6 0 0 0 27.2 0 v6.5 a13.6 9.6 0 0 1 -27.2 0 z" fill="#0a0000"/>
<ellipse cx="656.3" cy="853.9" rx="13.6" ry="9.6" fill="#0a0000"/>
<ellipse cx="656.3" cy="847.4" rx="13.6" ry="9.6" fill="#0a0a0a"/>
<ellipse cx="656.3" cy="847.1" rx="11.6" ry="7.9" fill="#e4e6e9"/>
<path d="M650.8 847.4 c-3 -3.5 3 -5.5 5.5 -3 c2.5 -2.5 8.500 -.5 5.5 3 c3 3.5 -3 5.5 -5.5 3 c-2.5 2.5 -8.5 .5 -5.5 -3z" fill="none" stroke="#34373c" stroke-width="2"/>
<path d="M675.9 871.1 a13.6 9.6 0 0 0 27.2 0 v6.5 a13.6 9.6 0 0 1 -27.2 0 z" fill="#0a0000"/>
<ellipse cx="689.5" cy="877.6" rx="13.6" ry="9.6" fill="#0a0000"/>
<ellipse cx="689.5" cy="871.1" rx="13.6" ry="9.6" fill="#0a0a0a"/>
<ellipse cx="689.5" cy="870.8" rx="11.6" ry="7.9" fill="#e4e6e9"/>
<path d="M684 871.1 c-3 -3.5 3 -5.5 5.5 -3 c2.5 -2.5 8.500 -.5 5.5 3 c3 3.5 -3 5.5 -5.5 3 c-2.5 2.5 -8.5 .5 -5.5 -3z" fill="none" stroke="#34373c" stroke-width="2"/>
<path d="M709.2 894.8 a13.6 9.6 0 0 0 27.2 0 v6.5 a13.6 9.6 0 0 1 -27.2 0 z" fill="#0a0000"/>
<ellipse cx="722.8" cy="901.3" rx="13.6" ry="9.6" fill="#0a0000"/>
<ellipse cx="722.8" cy="894.8" rx="13.6" ry="9.6" fill="#0a0a0a"/>
<ellipse cx="722.8" cy="894.5" rx="11.6" ry="7.9" fill="#e4e6e9"/>
<path d="M717.3 894.8 c-3 -3.5 3 -5.5 5.5 -3 c2.5 -2.5 8.500 -.5 5.5 3 c3 3.5 -3 5.5 -5.5 3 c-2.5 2.5 -8.5 .5 -5.5 -3z" fill="none" stroke="#34373c" stroke-width="2"/>
<path d="M509.6 799.9 a13.6 9.6 0 0 0 27.2 0 v6.5 a13.6 9.6 0 0 1 -27.2 0 z" fill="#0a0000"/>
<ellipse cx="523.2" cy="806.4" rx="13.6" ry="9.6" fill="#0a0000"/>
<ellipse cx="523.2" cy="799.9" rx="13.6" ry="9.6" fill="#0a0a0a"/>
<ellipse cx="523.2" cy="799.6" rx="11.6" ry="7.9" fill="#e4e6e9"/>
<path d="M517.7 799.9 c-3 -3.5 3 -5.5 5.5 -3 c2.5 -2.5 8.500 -.5 5.5 3 c3 3.5 -3 5.5 -5.5 3 c-2.5 2.5 -8.5 .5 -5.5 -3z" fill="none" stroke="#34373c" stroke-width="2"/>
<path d="M542.9 823.6 a13.6 9.6 0 0 0 27.2 0 v6.5 a13.6 9.6 0 0 1 -27.2 0 z" fill="#0a0000"/>
<ellipse cx="556.5" cy="830.1" rx="13.6" ry="9.6" fill="#0a0000"/>
<ellipse cx="556.5" cy="823.6" rx="13.6" ry="9.6" fill="#0a0a0a"/>
<ellipse cx="556.5" cy="823.3" rx="11.6" ry="7.9" fill="#e4e6e9"/>
<path d="M551 823.6 c-3 -3.5 3 -5.5 5.5 -3 c2.5 -2.5 8.500 -.5 5.5 3 c3 3.5 -3 5.5 -5.5 3 c-2.5 2.5 -8.5 .5 -5.5 -3z" fill="none" stroke="#34373c" stroke-width="2"/>
<path d="M576.2 847.3 a13.6 9.6 0 0 0 27.2 0 v6.5 a13.6 9.6 0 0 1 -27.2 0 z" fill="#0a0000"/>
<ellipse cx="589.8" cy="853.8" rx="13.6" ry="9.6" fill="#0a0000"/>
<ellipse cx="589.8" cy="847.3" rx="13.6" ry="9.6" fill="#0a0a0a"/>
<ellipse cx="589.8" cy="847" rx="11.6" ry="7.9" fill="#e4e6e9"/>
<path d="M584.3 847.3 c-3 -3.5 3 -5.5 5.5 -3 c2.5 -2.5 8.500 -.5 5.5 3 c3 3.5 -3 5.5 -5.5 3 c-2.5 2.5 -8.5 .5 -5.5 -3z" fill="none" stroke="#34373c" stroke-width="2"/>
<path d="M609.4 871 a13.6 9.6 0 0 0 27.2 0 v6.5 a13.6 9.6 0 0 1 -27.2 0 z" fill="#0a0000"/>
<ellipse cx="623" cy="877.5" rx="13.6" ry="9.6" fill="#0a0000"/>
<ellipse cx="623" cy="871" rx="13.6" ry="9.6" fill="#0a0a0a"/>
<ellipse cx="623" cy="870.7" rx="11.6" ry="7.9" fill="#e4e6e9"/>
<path d="M617.5 871 c-3 -3.5 3 -5.5 5.5 -3 c2.5 -2.5 8.500 -.5 5.5 3 c3 3.5 -3 5.5 -5.5 3 c-2.5 2.5 -8.5 .5 -5.5 -3z" fill="none" stroke="#34373c" stroke-width="2"/>
<path d="M642.7 894.7 a13.6 9.6 0 0 0 27.2 0 v6.5 a13.6 9.6 0 0 1 -27.2 0 z" fill="#0a0000"/>
<ellipse cx="656.3" cy="901.2" rx="13.6" ry="9.6" fill="#0a0000"/>
<ellipse cx="656.3" cy="894.7" rx="13.6" ry="9.6" fill="#0a0a0a"/>
<ellipse cx="656.3" cy="894.4" rx="11.6" ry="7.9" fill="#e4e6e9"/>
<path d="M650.8 894.7 c-3 -3.5 3 -5.5 5.5 -3 c2.5 -2.5 8.500 -.5 5.5 3 c3 3.5 -3 5.5 -5.5 3 c-2.5 2.5 -8.5 .5 -5.5 -3z" fill="none" stroke="#34373c" stroke-width="2"/>
<path d="M675.9 918.4 a13.6 9.6 0 0 0 27.2 0 v6.5 a13.6 9.6 0 0 1 -27.2 0 z" fill="#0a0000"/>
<ellipse cx="689.5" cy="924.9" rx="13.6" ry="9.6" fill="#0a0000"/>
<ellipse cx="689.5" cy="918.4" rx="13.6" ry="9.6" fill="#0a0a0a"/>
<ellipse cx="689.5" cy="918.1" rx="11.6" ry="7.9" fill="#e4e6e9"/>
<path d="M684 918.4 c-3 -3.5 3 -5.5 5.5 -3 c2.5 -2.5 8.500 -.5 5.5 3 c3 3.5 -3 5.5 -5.5 3 c-2.5 2.5 -8.5 .5 -5.5 -3z" fill="none" stroke="#34373c" stroke-width="2"/>
<path d="M476.4 823.5 a13.6 9.6 0 0 0 27.2 0 v6.5 a13.6 9.6 0 0 1 -27.2 0 z" fill="#0a0000"/>
<ellipse cx="490" cy="830" rx="13.6" ry="9.6" fill="#0a0000"/>
<ellipse cx="490" cy="823.5" rx="13.6" ry="9.6" fill="#0a0a0a"/>
<ellipse cx="490" cy="823.2" rx="11.6" ry="7.9" fill="#e4e6e9"/>
<path d="M484.5 823.5 c-3 -3.5 3 -5.5 5.5 -3 c2.5 -2.5 8.500 -.5 5.5 3 c3 3.5 -3 5.5 -5.5 3 c-2.5 2.5 -8.5 .5 -5.5 -3z" fill="none" stroke="#34373c" stroke-width="2"/>
<path d="M509.6 847.2 a13.6 9.6 0 0 0 27.2 0 v6.5 a13.6 9.6 0 0 1 -27.2 0 z" fill="#0a0000"/>
<ellipse cx="523.2" cy="853.7" rx="13.6" ry="9.6" fill="#0a0000"/>
<ellipse cx="523.2" cy="847.2" rx="13.6" ry="9.6" fill="#0a0a0a"/>
<ellipse cx="523.2" cy="846.9" rx="11.6" ry="7.9" fill="#e4e6e9"/>
<path d="M517.7 847.2 c-3 -3.5 3 -5.5 5.5 -3 c2.5 -2.5 8.500 -.5 5.5 3 c3 3.5 -3 5.5 -5.5 3 c-2.5 2.5 -8.5 .5 -5.5 -3z" fill="none" stroke="#34373c" stroke-width="2"/>
<path d="M542.9 870.9 a13.6 9.6 0 0 0 27.2 0 v6.5 a13.6 9.6 0 0 1 -27.2 0 z" fill="#0a0000"/>
<ellipse cx="556.5" cy="877.4" rx="13.6" ry="9.6" fill="#0a0000"/>
<ellipse cx="556.5" cy="870.9" rx="13.6" ry="9.6" fill="#0a0a0a"/>
<ellipse cx="556.5" cy="870.6" rx="11.6" ry="7.9" fill="#e4e6e9"/>
<path d="M551 870.9 c-3 -3.5 3 -5.5 5.5 -3 c2.5 -2.5 8.500 -.5 5.5 3 c3 3.5 -3 5.5 -5.5 3 c-2.5 2.5 -8.5 .5 -5.5 -3z" fill="none" stroke="#34373c" stroke-width="2"/>
<path d="M576.2 894.6 a13.6 9.6 0 0 0 27.2 0 v6.5 a13.6 9.6 0 0 1 -27.2 0 z" fill="#0a0000"/>
<ellipse cx="589.8" cy="901.1" rx="13.6" ry="9.6" fill="#0a0000"/>
<ellipse cx="589.8" cy="894.6" rx="13.6" ry="9.6" fill="#0a0a0a"/>
<ellipse cx="589.8" cy="894.3" rx="11.6" ry="7.9" fill="#e4e6e9"/>
<path d="M584.3 894.6 c-3 -3.5 3 -5.5 5.5 -3 c2.5 -2.5 8.500 -.5 5.5 3 c3 3.5 -3 5.5 -5.5 3 c-2.5 2.5 -8.5 .5 -5.5 -3z" fill="none" stroke="#34373c" stroke-width="2"/>
<path d="M609.4 918.3 a13.6 9.6 0 0 0 27.2 0 v6.5 a13.6 9.6 0 0 1 -27.2 0 z" fill="#0a0000"/>
<ellipse cx="623" cy="924.8" rx="13.6" ry="9.6" fill="#0a0000"/>
<ellipse cx="623" cy="918.3" rx="13.6" ry="9.6" fill="#0a0a0a"/>
<ellipse cx="623" cy="918" rx="11.6" ry="7.9" fill="#e4e6e9"/>
<path d="M617.5 918.3 c-3 -3.5 3 -5.5 5.5 -3 c2.5 -2.5 8.500 -.5 5.5 3 c3 3.5 -3 5.5 -5.5 3 c-2.5 2.5 -8.5 .5 -5.5 -3z" fill="none" stroke="#34373c" stroke-width="2"/>
<path d="M642.7 942 a13.6 9.6 0 0 0 27.2 0 v6.5 a13.6 9.6 0 0 1 -27.2 0 z" fill="#0a0000"/>
<ellipse cx="656.3" cy="948.5" rx="13.6" ry="9.6" fill="#0a0000"/>
<ellipse cx="656.3" cy="942" rx="13.6" ry="9.6" fill="#0a0a0a"/>
<ellipse cx="656.3" cy="941.7" rx="11.6" ry="7.9" fill="#e4e6e9"/>
<path d="M650.8 942 c-3 -3.5 3 -5.5 5.5 -3 c2.5 -2.5 8.500 -.5 5.5 3 c3 3.5 -3 5.5 -5.5 3 c-2.5 2.5 -8.5 .5 -5.5 -3z" fill="none" stroke="#34373c" stroke-width="2"/>
<path d="M443.1 847 a13.6 9.6 0 0 0 27.2 0 v6.5 a13.6 9.6 0 0 1 -27.2 0 z" fill="#0a0000"/>
<ellipse cx="456.7" cy="853.5" rx="13.6" ry="9.6" fill="#0a0000"/>
<ellipse cx="456.7" cy="847" rx="13.6" ry="9.6" fill="#0a0a0a"/>
<ellipse cx="456.7" cy="846.7" rx="11.6" ry="7.9" fill="#e4e6e9"/>
<path d="M451.2 847 c-3 -3.5 3 -5.5 5.5 -3 c2.5 -2.5 8.500 -.5 5.5 3 c3 3.5 -3 5.5 -5.5 3 c-2.5 2.5 -8.5 .5 -5.5 -3z" fill="none" stroke="#34373c" stroke-width="2"/>
<path d="M476.4 870.7 a13.6 9.6 0 0 0 27.2 0 v6.5 a13.6 9.6 0 0 1 -27.2 0 z" fill="#0a0000"/>
<ellipse cx="490" cy="877.2" rx="13.6" ry="9.6" fill="#0a0000"/>
<ellipse cx="490" cy="870.7" rx="13.6" ry="9.6" fill="#0a0a0a"/>
<ellipse cx="490" cy="870.4" rx="11.6" ry="7.9" fill="#e4e6e9"/>
<path d="M484.5 870.7 c-3 -3.5 3 -5.5 5.5 -3 c2.5 -2.5 8.500 -.5 5.5 3 c3 3.5 -3 5.5 -5.5 3 c-2.5 2.5 -8.5 .5 -5.5 -3z" fill="none" stroke="#34373c" stroke-width="2"/>
<path d="M509.6 894.4 a13.6 9.6 0 0 0 27.2 0 v6.5 a13.6 9.6 0 0 1 -27.2 0 z" fill="#0a0000"/>
<ellipse cx="523.2" cy="900.9" rx="13.6" ry="9.6" fill="#0a0000"/>
<ellipse cx="523.2" cy="894.4" rx="13.6" ry="9.6" fill="#0a0a0a"/>
<ellipse cx="523.2" cy="894.1" rx="11.6" ry="7.9" fill="#e4e6e9"/>
<path d="M517.7 894.4 c-3 -3.5 3 -5.5 5.5 -3 c2.5 -2.5 8.500 -.5 5.5 3 c3 3.5 -3 5.5 -5.5 3 c-2.5 2.5 -8.5 .5 -5.5 -3z" fill="none" stroke="#34373c" stroke-width="2"/>
<path d="M542.9 918.1 a13.6 9.6 0 0 0 27.2 0 v6.5 a13.6 9.6 0 0 1 -27.2 0 z" fill="#0a0000"/>
<ellipse cx="556.5" cy="924.6" rx="13.6" ry="9.6" fill="#0a0000"/>
<ellipse cx="556.5" cy="918.1" rx="13.6" ry="9.6" fill="#0a0a0a"/>
<ellipse cx="556.5" cy="917.8" rx="11.6" ry="7.9" fill="#e4e6e9"/>
<path d="M551 918.1 c-3 -3.5 3 -5.5 5.5 -3 c2.5 -2.5 8.500 -.5 5.5 3 c3 3.5 -3 5.5 -5.5 3 c-2.5 2.5 -8.5 .5 -5.5 -3z" fill="none" stroke="#34373c" stroke-width="2"/>
<path d="M576.2 941.8 a13.6 9.6 0 0 0 27.2 0 v6.5 a13.6 9.6 0 0 1 -27.2 0 z" fill="#0a0000"/>
<ellipse cx="589.8" cy="948.3" rx="13.6" ry="9.6" fill="#0a0000"/>
<ellipse cx="589.8" cy="941.8" rx="13.6" ry="9.6" fill="#0a0a0a"/>
<ellipse cx="589.8" cy="941.5" rx="11.6" ry="7.9" fill="#e4e6e9"/>
<path d="M584.3 941.8 c-3 -3.5 3 -5.5 5.5 -3 c2.5 -2.5 8.500 -.5 5.5 3 c3 3.5 -3 5.5 -5.5 3 c-2.5 2.5 -8.5 .5 -5.5 -3z" fill="none" stroke="#34373c" stroke-width="2"/>
<path d="M609.4 965.5 a13.6 9.6 0 0 0 27.2 0 v6.5 a13.6 9.6 0 0 1 -27.2 0 z" fill="#0a0000"/>
<ellipse cx="623" cy="972" rx="13.6" ry="9.6" fill="#0a0000"/>
<ellipse cx="623" cy="965.5" rx="13.6" ry="9.6" fill="#0a0a0a"/>
<ellipse cx="623" cy="965.2" rx="11.6" ry="7.9" fill="#e4e6e9"/>
<path d="M617.5 965.5 c-3 -3.5 3 -5.5 5.5 -3 c2.5 -2.5 8.500 -.5 5.5 3 c3 3.5 -3 5.5 -5.5 3 c-2.5 2.5 -8.5 .5 -5.5 -3z" fill="none" stroke="#34373c" stroke-width="2"/>
<path d="M409.9 870.6 a13.6 9.6 0 0 0 27.2 0 v6.5 a13.6 9.6 0 0 1 -27.2 0 z" fill="#0a0000"/>
<ellipse cx="423.5" cy="877.1" rx="13.6" ry="9.6" fill="#0a0000"/>
<ellipse cx="423.5" cy="870.6" rx="13.6" ry="9.6" fill="#0a0a0a"/>
<ellipse cx="423.5" cy="870.3" rx="11.6" ry="7.9" fill="#e4e6e9"/>
<path d="M418 870.6 c-3 -3.5 3 -5.5 5.5 -3 c2.5 -2.5 8.500 -.5 5.5 3 c3 3.5 -3 5.5 -5.5 3 c-2.5 2.5 -8.5 .5 -5.5 -3z" fill="none" stroke="#34373c" stroke-width="2"/>
<path d="M443.1 894.3 a13.6 9.6 0 0 0 27.2 0 v6.5 a13.6 9.6 0 0 1 -27.2 0 z" fill="#0a0000"/>
<ellipse cx="456.7" cy="900.8" rx="13.6" ry="9.6" fill="#0a0000"/>
<ellipse cx="456.7" cy="894.3" rx="13.6" ry="9.6" fill="#0a0a0a"/>
<ellipse cx="456.7" cy="894" rx="11.6" ry="7.9" fill="#e4e6e9"/>
<path d="M451.2 894.3 c-3 -3.5 3 -5.5 5.5 -3 c2.5 -2.5 8.500 -.5 5.5 3 c3 3.5 -3 5.5 -5.5 3 c-2.5 2.5 -8.5 .5 -5.5 -3z" fill="none" stroke="#34373c" stroke-width="2"/>
<path d="M476.4 918 a13.6 9.6 0 0 0 27.2 0 v6.5 a13.6 9.6 0 0 1 -27.2 0 z" fill="#0a0000"/>
<ellipse cx="490" cy="924.5" rx="13.6" ry="9.6" fill="#0a0000"/>
<ellipse cx="490" cy="918" rx="13.6" ry="9.6" fill="#0a0a0a"/>
<ellipse cx="490" cy="917.7" rx="11.6" ry="7.9" fill="#e4e6e9"/>
<path d="M484.5 918 c-3 -3.5 3 -5.5 5.5 -3 c2.5 -2.5 8.500 -.5 5.5 3 c3 3.5 -3 5.5 -5.5 3 c-2.5 2.5 -8.5 .5 -5.5 -3z" fill="none" stroke="#34373c" stroke-width="2"/>
<path d="M509.6 941.7 a13.6 9.6 0 0 0 27.2 0 v6.5 a13.6 9.6 0 0 1 -27.2 0 z" fill="#0a0000"/>
<ellipse cx="523.2" cy="948.2" rx="13.6" ry="9.6" fill="#0a0000"/>
<ellipse cx="523.2" cy="941.7" rx="13.6" ry="9.6" fill="#0a0a0a"/>
<ellipse cx="523.2" cy="941.4" rx="11.6" ry="7.9" fill="#e4e6e9"/>
<path d="M517.7 941.7 c-3 -3.5 3 -5.5 5.5 -3 c2.5 -2.5 8.500 -.5 5.5 3 c3 3.5 -3 5.5 -5.5 3 c-2.5 2.5 -8.5 .5 -5.5 -3z" fill="none" stroke="#34373c" stroke-width="2"/>
<path d="M542.9 965.4 a13.6 9.6 0 0 0 27.2 0 v6.5 a13.6 9.6 0 0 1 -27.2 0 z" fill="#0a0000"/>
<ellipse cx="556.5" cy="971.9" rx="13.6" ry="9.6" fill="#0a0000"/>
<ellipse cx="556.5" cy="965.4" rx="13.6" ry="9.6" fill="#0a0a0a"/>
<ellipse cx="556.5" cy="965.1" rx="11.6" ry="7.9" fill="#e4e6e9"/>
<path d="M551 965.4 c-3 -3.5 3 -5.5 5.5 -3 c2.5 -2.5 8.500 -.5 5.5 3 c3 3.5 -3 5.5 -5.5 3 c-2.5 2.5 -8.5 .5 -5.5 -3z" fill="none" stroke="#34373c" stroke-width="2"/>
<path d="M576.2 989.1 a13.6 9.6 0 0 0 27.2 0 v6.5 a13.6 9.6 0 0 1 -27.2 0 z" fill="#0a0000"/>
<ellipse cx="589.8" cy="995.6" rx="13.6" ry="9.6" fill="#0a0000"/>
<ellipse cx="589.8" cy="989.1" rx="13.6" ry="9.6" fill="#0a0a0a"/>
<ellipse cx="589.8" cy="988.8" rx="11.6" ry="7.9" fill="#e4e6e9"/>
<path d="M584.3 989.1 c-3 -3.5 3 -5.5 5.5 -3 c2.5 -2.5 8.500 -.5 5.5 3 c3 3.5 -3 5.5 -5.5 3 c-2.5 2.5 -8.5 .5 -5.5 -3z" fill="none" stroke="#34373c" stroke-width="2"/>
<path d="M376.6 894.2 a13.6 9.6 0 0 0 27.2 0 v6.5 a13.6 9.6 0 0 1 -27.2 0 z" fill="#0a0000"/>
<ellipse cx="390.2" cy="900.7" rx="13.6" ry="9.6" fill="#0a0000"/>
<ellipse cx="390.2" cy="894.2" rx="13.6" ry="9.6" fill="#0a0a0a"/>
<ellipse cx="390.2" cy="893.9" rx="11.6" ry="7.9" fill="#e4e6e9"/>
<path d="M384.7 894.2 c-3 -3.5 3 -5.5 5.5 -3 c2.5 -2.5 8.500 -.5 5.5 3 c3 3.5 -3 5.5 -5.5 3 c-2.5 2.5 -8.5 .5 -5.5 -3z" fill="none" stroke="#34373c" stroke-width="2"/>
<path d="M409.9 917.9 a13.6 9.6 0 0 0 27.2 0 v6.5 a13.6 9.6 0 0 1 -27.2 0 z" fill="#0a0000"/>
<ellipse cx="423.5" cy="924.4" rx="13.6" ry="9.6" fill="#0a0000"/>
<ellipse cx="423.5" cy="917.9" rx="13.6" ry="9.6" fill="#0a0a0a"/>
<ellipse cx="423.5" cy="917.6" rx="11.6" ry="7.9" fill="#e4e6e9"/>
<path d="M418 917.9 c-3 -3.5 3 -5.5 5.5 -3 c2.5 -2.5 8.500 -.5 5.5 3 c3 3.5 -3 5.5 -5.5 3 c-2.5 2.5 -8.5 .5 -5.5 -3z" fill="none" stroke="#34373c" stroke-width="2"/>
<path d="M443.1 941.6 a13.6 9.6 0 0 0 27.2 0 v6.5 a13.6 9.6 0 0 1 -27.2 0 z" fill="#0a0000"/>
<ellipse cx="456.7" cy="948.1" rx="13.6" ry="9.6" fill="#0a0000"/>
<ellipse cx="456.7" cy="941.6" rx="13.6" ry="9.6" fill="#0a0a0a"/>
<ellipse cx="456.7" cy="941.3" rx="11.6" ry="7.9" fill="#e4e6e9"/>
<path d="M451.2 941.6 c-3 -3.5 3 -5.5 5.5 -3 c2.5 -2.5 8.500 -.5 5.5 3 c3 3.5 -3 5.5 -5.5 3 c-2.5 2.5 -8.5 .5 -5.5 -3z" fill="none" stroke="#34373c" stroke-width="2"/>
<path d="M476.4 965.3 a13.6 9.6 0 0 0 27.2 0 v6.5 a13.6 9.6 0 0 1 -27.2 0 z" fill="#0a0000"/>
<ellipse cx="490" cy="971.8" rx="13.6" ry="9.6" fill="#0a0000"/>
<ellipse cx="490" cy="965.3" rx="13.6" ry="9.6" fill="#0a0a0a"/>
<ellipse cx="490" cy="965" rx="11.6" ry="7.9" fill="#e4e6e9"/>
<path d="M484.5 965.3 c-3 -3.5 3 -5.5 5.5 -3 c2.5 -2.5 8.500 -.5 5.5 3 c3 3.5 -3 5.5 -5.5 3 c-2.5 2.5 -8.5 .5 -5.5 -3z" fill="none" stroke="#34373c" stroke-width="2"/>
<path d="M509.6 989 a13.6 9.6 0 0 0 27.2 0 v6.5 a13.6 9.6 0 0 1 -27.2 0 z" fill="#0a0000"/>
<ellipse cx="523.2" cy="995.5" rx="13.6" ry="9.6" fill="#0a0000"/>
<ellipse cx="523.2" cy="989" rx="13.6" ry="9.6" fill="#0a0a0a"/>
<ellipse cx="523.2" cy="988.7" rx="11.6" ry="7.9" fill="#e4e6e9"/>
<path d="M517.7 989 c-3 -3.5 3 -5.5 5.5 -3 c2.5 -2.5 8.500 -.5 5.5 3 c3 3.5 -3 5.5 -5.5 3 c-2.5 2.5 -8.5 .5 -5.5 -3z" fill="none" stroke="#34373c" stroke-width="2"/>
<path d="M542.9 1012.7 a13.6 9.6 0 0 0 27.2 0 v6.5 a13.6 9.6 0 0 1 -27.2 0 z" fill="#0a0000"/>
<ellipse cx="556.5" cy="1019.2" rx="13.6" ry="9.6" fill="#0a0000"/>
<ellipse cx="556.5" cy="1012.7" rx="13.6" ry="9.6" fill="#0a0a0a"/>
<ellipse cx="556.5" cy="1012.4" rx="11.6" ry="7.9" fill="#e4e6e9"/>
<path d="M551 1012.7 c-3 -3.5 3 -5.5 5.5 -3 c2.5 -2.5 8.500 -.5 5.5 3 c3 3.5 -3 5.5 -5.5 3 c-2.5 2.5 -8.5 .5 -5.5 -3z" fill="none" stroke="#34373c" stroke-width="2"/>
<polygon points="523.2,850.3 589.8,897.7 589.8,924.7 523.2,877.3" fill="#c2c6cb" stroke="#4a4d52" stroke-width="0.9" stroke-linejoin="round" />
<polygon points="589.8,897.7 722.8,803.4 722.8,830.4 589.8,924.7" fill="#d2d5d8" stroke="#4a4d52" stroke-width="0.9" stroke-linejoin="round" />
<polygon points="523.2,850.3 656.3,756 722.8,803.4 589.8,897.7" fill="#cdd0d5" stroke="#4a4d52" stroke-width="0.9" stroke-linejoin="round" />
<path d="M642.7 773.2 a13.6 9.6 0 0 0 27.2 0 v6.5 a13.6 9.6 0 0 1 -27.2 0 z" fill="#0a0000"/>
<ellipse cx="656.3" cy="779.7" rx="13.6" ry="9.6" fill="#0a0000"/>
<ellipse cx="656.3" cy="773.2" rx="13.6" ry="9.6" fill="#0a0a0a"/>
<ellipse cx="656.3" cy="772.9" rx="11.6" ry="7.9" fill="#e4e6e9"/>
<path d="M650.8 773.2 c-3 -3.5 3 -5.5 5.5 -3 c2.5 -2.5 8.500 -.5 5.5 3 c3 3.5 -3 5.5 -5.5 3 c-2.5 2.5 -8.5 .5 -5.5 -3z" fill="none" stroke="#34373c" stroke-width="2"/>
<path d="M675.9 796.9 a13.6 9.6 0 0 0 27.2 0 v6.5 a13.6 9.6 0 0 1 -27.2 0 z" fill="#0a0000"/>
<ellipse cx="689.5" cy="803.4" rx="13.6" ry="9.6" fill="#0a0000"/>
<ellipse cx="689.5" cy="796.9" rx="13.6" ry="9.6" fill="#0a0a0a"/>
<ellipse cx="689.5" cy="796.6" rx="11.6" ry="7.9" fill="#e4e6e9"/>
<path d="M684 796.9 c-3 -3.5 3 -5.5 5.5 -3 c2.5 -2.5 8.500 -.5 5.5 3 c3 3.5 -3 5.5 -5.5 3 c-2.5 2.5 -8.5 .5 -5.5 -3z" fill="none" stroke="#34373c" stroke-width="2"/>
<path d="M609.4 796.7 a13.6 9.6 0 0 0 27.2 0 v6.5 a13.6 9.6 0 0 1 -27.2 0 z" fill="#0a0000"/>
<ellipse cx="623" cy="803.2" rx="13.6" ry="9.6" fill="#0a0000"/>
<ellipse cx="623" cy="796.7" rx="13.6" ry="9.6" fill="#0a0a0a"/>
<ellipse cx="623" cy="796.4" rx="11.6" ry="7.9" fill="#e4e6e9"/>
<path d="M617.5 796.7 c-3 -3.5 3 -5.5 5.5 -3 c2.5 -2.5 8.500 -.5 5.5 3 c3 3.5 -3 5.5 -5.5 3 c-2.5 2.5 -8.5 .5 -5.5 -3z" fill="none" stroke="#34373c" stroke-width="2"/>
<path d="M642.7 820.4 a13.6 9.6 0 0 0 27.2 0 v6.5 a13.6 9.6 0 0 1 -27.2 0 z" fill="#0a0000"/>
<ellipse cx="656.3" cy="826.9" rx="13.6" ry="9.6" fill="#0a0000"/>
<ellipse cx="656.3" cy="820.4" rx="13.6" ry="9.6" fill="#0a0a0a"/>
<ellipse cx="656.3" cy="820.1" rx="11.6" ry="7.9" fill="#e4e6e9"/>
<path d="M650.8 820.4 c-3 -3.5 3 -5.5 5.5 -3 c2.5 -2.5 8.500 -.5 5.5 3 c3 3.5 -3 5.5 -5.5 3 c-2.5 2.5 -8.5 .5 -5.5 -3z" fill="none" stroke="#34373c" stroke-width="2"/>
<path d="M576.2 820.3 a13.6 9.6 0 0 0 27.2 0 v6.5 a13.6 9.6 0 0 1 -27.2 0 z" fill="#0a0000"/>
<ellipse cx="589.8" cy="826.8" rx="13.6" ry="9.6" fill="#0a0000"/>
<ellipse cx="589.8" cy="820.3" rx="13.6" ry="9.6" fill="#0a0a0a"/>
<ellipse cx="589.8" cy="820" rx="11.6" ry="7.9" fill="#e4e6e9"/>
<path d="M584.3 820.3 c-3 -3.5 3 -5.5 5.5 -3 c2.5 -2.5 8.500 -.5 5.5 3 c3 3.5 -3 5.5 -5.5 3 c-2.5 2.5 -8.5 .5 -5.5 -3z" fill="none" stroke="#34373c" stroke-width="2"/>
<path d="M609.4 844 a13.6 9.6 0 0 0 27.2 0 v6.5 a13.6 9.6 0 0 1 -27.2 0 z" fill="#0a0000"/>
<ellipse cx="623" cy="850.5" rx="13.6" ry="9.6" fill="#0a0000"/>
<ellipse cx="623" cy="844" rx="13.6" ry="9.6" fill="#0a0a0a"/>
<ellipse cx="623" cy="843.7" rx="11.6" ry="7.9" fill="#e4e6e9"/>
<path d="M617.5 844 c-3 -3.5 3 -5.5 5.5 -3 c2.5 -2.5 8.500 -.5 5.5 3 c3 3.5 -3 5.5 -5.5 3 c-2.5 2.5 -8.5 .5 -5.5 -3z" fill="none" stroke="#34373c" stroke-width="2"/>
<path d="M542.9 843.9 a13.6 9.6 0 0 0 27.2 0 v6.5 a13.6 9.6 0 0 1 -27.2 0 z" fill="#0a0000"/>
<ellipse cx="556.5" cy="850.4" rx="13.6" ry="9.6" fill="#0a0000"/>
<ellipse cx="556.5" cy="843.9" rx="13.6" ry="9.6" fill="#0a0a0a"/>
<ellipse cx="556.5" cy="843.6" rx="11.6" ry="7.9" fill="#e4e6e9"/>
<path d="M551 843.9 c-3 -3.5 3 -5.5 5.5 -3 c2.5 -2.5 8.500 -.5 5.5 3 c3 3.5 -3 5.5 -5.5 3 c-2.5 2.5 -8.5 .5 -5.5 -3z" fill="none" stroke="#34373c" stroke-width="2"/>
<path d="M576.2 867.6 a13.6 9.6 0 0 0 27.2 0 v6.5 a13.6 9.6 0 0 1 -27.2 0 z" fill="#0a0000"/>
<ellipse cx="589.8" cy="874.1" rx="13.6" ry="9.6" fill="#0a0000"/>
<ellipse cx="589.8" cy="867.6" rx="13.6" ry="9.6" fill="#0a0a0a"/>
<ellipse cx="589.8" cy="867.3" rx="11.6" ry="7.9" fill="#e4e6e9"/>
<path d="M584.3 867.6 c-3 -3.5 3 -5.5 5.5 -3 c2.5 -2.5 8.500 -.5 5.5 3 c3 3.5 -3 5.5 -5.5 3 c-2.5 2.5 -8.5 .5 -5.5 -3z" fill="none" stroke="#34373c" stroke-width="2"/>
<polygon points="356.9,961.4 523.2,1079.9 523.2,1093.4 356.9,974.9" fill="#ea0a02" stroke="#5a0000" stroke-width="0.9" stroke-linejoin="round" />
<polygon points="523.2,1079.9 556.5,1056.3 556.5,1069.8 523.2,1093.4" fill="#e60204" stroke="#5a0000" stroke-width="0.9" stroke-linejoin="round" />
<polygon points="356.9,961.4 390.2,937.8 556.5,1056.3 523.2,1079.9" fill="#f30e03" stroke="#5a0000" stroke-width="0.9" stroke-linejoin="round" />
<path d="M376.6 955 a13.6 9.6 0 0 0 27.2 0 v6.5 a13.6 9.6 0 0 1 -27.2 0 z" fill="#0a0000"/>
<ellipse cx="390.2" cy="961.5" rx="13.6" ry="9.6" fill="#0a0000"/>
<ellipse cx="390.2" cy="955" rx="13.6" ry="9.6" fill="#8a0300"/>
<ellipse cx="390.2" cy="954.7" rx="11.6" ry="7.9" fill="#f21a0a"/>
<path d="M384.7 955 c-3 -3.5 3 -5.5 5.5 -3 c2.5 -2.5 8.500 -.5 5.5 3 c3 3.5 -3 5.5 -5.5 3 c-2.5 2.5 -8.5 .5 -5.5 -3z" fill="none" stroke="#7a0000" stroke-width="2"/>
<path d="M409.9 978.7 a13.6 9.6 0 0 0 27.2 0 v6.5 a13.6 9.6 0 0 1 -27.2 0 z" fill="#0a0000"/>
<ellipse cx="423.5" cy="985.2" rx="13.6" ry="9.6" fill="#0a0000"/>
<ellipse cx="423.5" cy="978.7" rx="13.6" ry="9.6" fill="#8a0300"/>
<ellipse cx="423.5" cy="978.4" rx="11.6" ry="7.9" fill="#f21a0a"/>
<path d="M418 978.7 c-3 -3.5 3 -5.5 5.5 -3 c2.5 -2.5 8.500 -.5 5.5 3 c3 3.5 -3 5.5 -5.5 3 c-2.5 2.5 -8.5 .5 -5.5 -3z" fill="none" stroke="#7a0000" stroke-width="2"/>
<path d="M443.1 1002.4 a13.6 9.6 0 0 0 27.2 0 v6.5 a13.6 9.6 0 0 1 -27.2 0 z" fill="#0a0000"/>
<ellipse cx="456.7" cy="1008.9" rx="13.6" ry="9.6" fill="#0a0000"/>
<ellipse cx="456.7" cy="1002.4" rx="13.6" ry="9.6" fill="#8a0300"/>
<ellipse cx="456.7" cy="1002.1" rx="11.6" ry="7.9" fill="#f21a0a"/>
<path d="M451.2 1002.4 c-3 -3.5 3 -5.5 5.5 -3 c2.5 -2.5 8.500 -.5 5.5 3 c3 3.5 -3 5.5 -5.5 3 c-2.5 2.5 -8.5 .5 -5.5 -3z" fill="none" stroke="#7a0000" stroke-width="2"/>
<path d="M476.4 1026.1 a13.6 9.6 0 0 0 27.2 0 v6.5 a13.6 9.6 0 0 1 -27.2 0 z" fill="#0a0000"/>
<ellipse cx="490" cy="1032.6" rx="13.6" ry="9.6" fill="#0a0000"/>
<ellipse cx="490" cy="1026.1" rx="13.6" ry="9.6" fill="#8a0300"/>
<ellipse cx="490" cy="1025.8" rx="11.6" ry="7.9" fill="#f21a0a"/>
<path d="M484.5 1026.1 c-3 -3.5 3 -5.5 5.5 -3 c2.5 -2.5 8.500 -.5 5.5 3 c3 3.5 -3 5.5 -5.5 3 c-2.5 2.5 -8.5 .5 -5.5 -3z" fill="none" stroke="#7a0000" stroke-width="2"/>
<path d="M509.6 1049.8 a13.6 9.6 0 0 0 27.2 0 v6.5 a13.6 9.6 0 0 1 -27.2 0 z" fill="#0a0000"/>
<ellipse cx="523.2" cy="1056.3" rx="13.6" ry="9.6" fill="#0a0000"/>
<ellipse cx="523.2" cy="1049.8" rx="13.6" ry="9.6" fill="#8a0300"/>
<ellipse cx="523.2" cy="1049.5" rx="11.6" ry="7.9" fill="#f21a0a"/>
<path d="M517.7 1049.8 c-3 -3.5 3 -5.5 5.5 -3 c2.5 -2.5 8.500 -.5 5.5 3 c3 3.5 -3 5.5 -5.5 3 c-2.5 2.5 -8.5 .5 -5.5 -3z" fill="none" stroke="#7a0000" stroke-width="2"/>
<polygon points="290.4,1028.8 423.5,1123.6 423.5,1143.8 290.4,1049" fill="#ea0a02" stroke="#5a0000" stroke-width="0.9" stroke-linejoin="round" />
<polygon points="423.5,1123.6 490,1076.5 490,1096.7 423.5,1143.8" fill="#e60204" stroke="#5a0000" stroke-width="0.9" stroke-linejoin="round" />
<polygon points="290.4,1028.8 356.9,981.7 490,1076.5 423.5,1123.6" fill="#f30e03" stroke="#5a0000" stroke-width="0.9" stroke-linejoin="round" />
<polygon points="223.9,967.9 423.5,1110.1 423.5,1123.6 223.9,981.4" fill="#ea0a02" stroke="#5a0000" stroke-width="0.9" stroke-linejoin="round" />
<polygon points="423.5,1110.1 490,1063 490,1076.5 423.5,1123.6" fill="#e60204" stroke="#5a0000" stroke-width="0.9" stroke-linejoin="round" />
<polygon points="223.9,967.9 290.4,920.8 490,1063 423.5,1110.1" fill="#f30e03" stroke="#5a0000" stroke-width="0.9" stroke-linejoin="round" />
<path d="M276.8 937.9 a13.6 9.6 0 0 0 27.2 0 v6.5 a13.6 9.6 0 0 1 -27.2 0 z" fill="#0a0000"/>
<ellipse cx="290.4" cy="944.4" rx="13.6" ry="9.6" fill="#0a0000"/>
<ellipse cx="290.4" cy="937.9" rx="13.6" ry="9.6" fill="#8a0300"/>
<ellipse cx="290.4" cy="937.6" rx="11.6" ry="7.9" fill="#f21a0a"/>
<path d="M284.9 937.9 c-3 -3.5 3 -5.5 5.5 -3 c2.5 -2.5 8.500 -.5 5.5 3 c3 3.5 -3 5.5 -5.5 3 c-2.5 2.5 -8.5 .5 -5.5 -3z" fill="none" stroke="#7a0000" stroke-width="2"/>
<path d="M310.1 961.6 a13.6 9.6 0 0 0 27.2 0 v6.5 a13.6 9.6 0 0 1 -27.2 0 z" fill="#0a0000"/>
<ellipse cx="323.7" cy="968.1" rx="13.6" ry="9.6" fill="#0a0000"/>
<ellipse cx="323.7" cy="961.6" rx="13.6" ry="9.6" fill="#8a0300"/>
<ellipse cx="323.7" cy="961.3" rx="11.6" ry="7.9" fill="#f21a0a"/>
<path d="M318.2 961.6 c-3 -3.5 3 -5.5 5.5 -3 c2.5 -2.5 8.500 -.5 5.5 3 c3 3.5 -3 5.5 -5.5 3 c-2.5 2.5 -8.5 .5 -5.5 -3z" fill="none" stroke="#7a0000" stroke-width="2"/>
<path d="M343.3 985.3 a13.6 9.6 0 0 0 27.2 0 v6.5 a13.6 9.6 0 0 1 -27.2 0 z" fill="#0a0000"/>
<ellipse cx="356.9" cy="991.8" rx="13.6" ry="9.6" fill="#0a0000"/>
<ellipse cx="356.9" cy="985.3" rx="13.6" ry="9.6" fill="#8a0300"/>
<ellipse cx="356.9" cy="985" rx="11.6" ry="7.9" fill="#f21a0a"/>
<path d="M351.4 985.3 c-3 -3.5 3 -5.5 5.5 -3 c2.5 -2.5 8.500 -.5 5.5 3 c3 3.5 -3 5.5 -5.5 3 c-2.5 2.5 -8.5 .5 -5.5 -3z" fill="none" stroke="#7a0000" stroke-width="2"/>
<path d="M376.6 1009 a13.6 9.6 0 0 0 27.2 0 v6.5 a13.6 9.6 0 0 1 -27.2 0 z" fill="#0a0000"/>
<ellipse cx="390.2" cy="1015.5" rx="13.6" ry="9.6" fill="#0a0000"/>
<ellipse cx="390.2" cy="1009" rx="13.6" ry="9.6" fill="#8a0300"/>
<ellipse cx="390.2" cy="1008.7" rx="11.6" ry="7.9" fill="#f21a0a"/>
<path d="M384.7 1009 c-3 -3.5 3 -5.5 5.5 -3 c2.5 -2.5 8.500 -.5 5.5 3 c3 3.5 -3 5.5 -5.5 3 c-2.5 2.5 -8.5 .5 -5.5 -3z" fill="none" stroke="#7a0000" stroke-width="2"/>
<path d="M409.9 1032.7 a13.6 9.6 0 0 0 27.2 0 v6.5 a13.6 9.6 0 0 1 -27.2 0 z" fill="#0a0000"/>
<ellipse cx="423.5" cy="1039.2" rx="13.6" ry="9.6" fill="#0a0000"/>
<ellipse cx="423.5" cy="1032.7" rx="13.6" ry="9.6" fill="#8a0300"/>
<ellipse cx="423.5" cy="1032.4" rx="11.6" ry="7.9" fill="#f21a0a"/>
<path d="M418 1032.7 c-3 -3.5 3 -5.5 5.5 -3 c2.5 -2.5 8.500 -.5 5.5 3 c3 3.5 -3 5.5 -5.5 3 c-2.5 2.5 -8.5 .5 -5.5 -3z" fill="none" stroke="#7a0000" stroke-width="2"/>
<path d="M443.1 1056.4 a13.6 9.6 0 0 0 27.2 0 v6.5 a13.6 9.6 0 0 1 -27.2 0 z" fill="#0a0000"/>
<ellipse cx="456.7" cy="1062.9" rx="13.6" ry="9.6" fill="#0a0000"/>
<ellipse cx="456.7" cy="1056.4" rx="13.6" ry="9.6" fill="#8a0300"/>
<ellipse cx="456.7" cy="1056.1" rx="11.6" ry="7.9" fill="#f21a0a"/>
<path d="M451.2 1056.4 c-3 -3.5 3 -5.5 5.5 -3 c2.5 -2.5 8.500 -.5 5.5 3 c3 3.5 -3 5.5 -5.5 3 c-2.5 2.5 -8.5 .5 -5.5 -3z" fill="none" stroke="#7a0000" stroke-width="2"/>
<path d="M243.6 961.5 a13.6 9.6 0 0 0 27.2 0 v6.5 a13.6 9.6 0 0 1 -27.2 0 z" fill="#0a0000"/>
<ellipse cx="257.2" cy="968" rx="13.6" ry="9.6" fill="#0a0000"/>
<ellipse cx="257.2" cy="961.5" rx="13.6" ry="9.6" fill="#8a0300"/>
<ellipse cx="257.2" cy="961.2" rx="11.6" ry="7.9" fill="#f21a0a"/>
<path d="M251.7 961.5 c-3 -3.5 3 -5.5 5.5 -3 c2.5 -2.5 8.500 -.5 5.5 3 c3 3.5 -3 5.5 -5.5 3 c-2.5 2.5 -8.5 .5 -5.5 -3z" fill="none" stroke="#7a0000" stroke-width="2"/>
<path d="M276.8 985.2 a13.6 9.6 0 0 0 27.2 0 v6.5 a13.6 9.6 0 0 1 -27.2 0 z" fill="#0a0000"/>
<ellipse cx="290.4" cy="991.7" rx="13.6" ry="9.6" fill="#0a0000"/>
<ellipse cx="290.4" cy="985.2" rx="13.6" ry="9.6" fill="#8a0300"/>
<ellipse cx="290.4" cy="984.9" rx="11.6" ry="7.9" fill="#f21a0a"/>
<path d="M284.9 985.2 c-3 -3.5 3 -5.5 5.5 -3 c2.5 -2.5 8.500 -.5 5.5 3 c3 3.5 -3 5.5 -5.5 3 c-2.5 2.5 -8.5 .5 -5.5 -3z" fill="none" stroke="#7a0000" stroke-width="2"/>
<path d="M310.1 1008.9 a13.6 9.6 0 0 0 27.2 0 v6.5 a13.6 9.6 0 0 1 -27.2 0 z" fill="#0a0000"/>
<ellipse cx="323.7" cy="1015.4" rx="13.6" ry="9.6" fill="#0a0000"/>
<ellipse cx="323.7" cy="1008.9" rx="13.6" ry="9.6" fill="#8a0300"/>
<ellipse cx="323.7" cy="1008.6" rx="11.6" ry="7.9" fill="#f21a0a"/>
<path d="M318.2 1008.9 c-3 -3.5 3 -5.5 5.5 -3 c2.5 -2.5 8.500 -.5 5.5 3 c3 3.5 -3 5.5 -5.5 3 c-2.5 2.5 -8.5 .5 -5.5 -3z" fill="none" stroke="#7a0000" stroke-width="2"/>
<path d="M343.3 1032.6 a13.6 9.6 0 0 0 27.2 0 v6.5 a13.6 9.6 0 0 1 -27.2 0 z" fill="#0a0000"/>
<ellipse cx="356.9" cy="1039.1" rx="13.6" ry="9.6" fill="#0a0000"/>
<ellipse cx="356.9" cy="1032.6" rx="13.6" ry="9.6" fill="#8a0300"/>
<ellipse cx="356.9" cy="1032.3" rx="11.6" ry="7.9" fill="#f21a0a"/>
<path d="M351.4 1032.6 c-3 -3.5 3 -5.5 5.5 -3 c2.5 -2.5 8.500 -.5 5.5 3 c3 3.5 -3 5.5 -5.5 3 c-2.5 2.5 -8.5 .5 -5.5 -3z" fill="none" stroke="#7a0000" stroke-width="2"/>
<path d="M376.6 1056.3 a13.6 9.6 0 0 0 27.2 0 v6.5 a13.6 9.6 0 0 1 -27.2 0 z" fill="#0a0000"/>
<ellipse cx="390.2" cy="1062.8" rx="13.6" ry="9.6" fill="#0a0000"/>
<ellipse cx="390.2" cy="1056.3" rx="13.6" ry="9.6" fill="#8a0300"/>
<ellipse cx="390.2" cy="1056" rx="11.6" ry="7.9" fill="#f21a0a"/>
<path d="M384.7 1056.3 c-3 -3.5 3 -5.5 5.5 -3 c2.5 -2.5 8.500 -.5 5.5 3 c3 3.5 -3 5.5 -5.5 3 c-2.5 2.5 -8.5 .5 -5.5 -3z" fill="none" stroke="#7a0000" stroke-width="2"/>
<path d="M409.9 1080 a13.6 9.6 0 0 0 27.2 0 v6.5 a13.6 9.6 0 0 1 -27.2 0 z" fill="#0a0000"/>
<ellipse cx="423.5" cy="1086.5" rx="13.6" ry="9.6" fill="#0a0000"/>
<ellipse cx="423.5" cy="1080" rx="13.6" ry="9.6" fill="#8a0300"/>
<ellipse cx="423.5" cy="1079.7" rx="11.6" ry="7.9" fill="#f21a0a"/>
<path d="M418 1080 c-3 -3.5 3 -5.5 5.5 -3 c2.5 -2.5 8.500 -.5 5.5 3 c3 3.5 -3 5.5 -5.5 3 c-2.5 2.5 -8.5 .5 -5.5 -3z" fill="none" stroke="#7a0000" stroke-width="2"/>
<polygon points="423.5,1123.6 456.7,1147.3 456.7,1160.8 423.5,1137.1" fill="#ea0a02" stroke="#5a0000" stroke-width="0.9" stroke-linejoin="round" />
<polygon points="456.7,1147.3 589.8,1053 589.8,1066.5 456.7,1160.8" fill="#e60204" stroke="#5a0000" stroke-width="0.9" stroke-linejoin="round" />
<polygon points="423.5,1123.6 556.5,1029.3 589.8,1053 456.7,1147.3" fill="#f30e03" stroke="#5a0000" stroke-width="0.9" stroke-linejoin="round" />
<path d="M542.9 1046.5 a13.6 9.6 0 0 0 27.2 0 v6.5 a13.6 9.6 0 0 1 -27.2 0 z" fill="#0a0000"/>
<ellipse cx="556.5" cy="1053" rx="13.6" ry="9.6" fill="#0a0000"/>
<ellipse cx="556.5" cy="1046.5" rx="13.6" ry="9.6" fill="#8a0300"/>
<ellipse cx="556.5" cy="1046.2" rx="11.6" ry="7.9" fill="#f21a0a"/>
<path d="M551 1046.5 c-3 -3.5 3 -5.5 5.5 -3 c2.5 -2.5 8.500 -.5 5.5 3 c3 3.5 -3 5.5 -5.5 3 c-2.5 2.5 -8.5 .5 -5.5 -3z" fill="none" stroke="#7a0000" stroke-width="2"/>
<path d="M509.6 1070 a13.6 9.6 0 0 0 27.2 0 v6.5 a13.6 9.6 0 0 1 -27.2 0 z" fill="#0a0000"/>
<ellipse cx="523.2" cy="1076.5" rx="13.6" ry="9.6" fill="#0a0000"/>
<ellipse cx="523.2" cy="1070" rx="13.6" ry="9.6" fill="#8a0300"/>
<ellipse cx="523.2" cy="1069.7" rx="11.6" ry="7.9" fill="#f21a0a"/>
<path d="M517.7 1070 c-3 -3.5 3 -5.5 5.5 -3 c2.5 -2.5 8.500 -.5 5.5 3 c3 3.5 -3 5.5 -5.5 3 c-2.5 2.5 -8.5 .5 -5.5 -3z" fill="none" stroke="#7a0000" stroke-width="2"/>
<path d="M476.4 1093.6 a13.6 9.6 0 0 0 27.2 0 v6.5 a13.6 9.6 0 0 1 -27.2 0 z" fill="#0a0000"/>
<ellipse cx="490" cy="1100.1" rx="13.6" ry="9.6" fill="#0a0000"/>
<ellipse cx="490" cy="1093.6" rx="13.6" ry="9.6" fill="#8a0300"/>
<ellipse cx="490" cy="1093.3" rx="11.6" ry="7.9" fill="#f21a0a"/>
<path d="M484.5 1093.6 c-3 -3.5 3 -5.5 5.5 -3 c2.5 -2.5 8.500 -.5 5.5 3 c3 3.5 -3 5.5 -5.5 3 c-2.5 2.5 -8.5 .5 -5.5 -3z" fill="none" stroke="#7a0000" stroke-width="2"/>
<path d="M443.1 1117.2 a13.6 9.6 0 0 0 27.2 0 v6.5 a13.6 9.6 0 0 1 -27.2 0 z" fill="#0a0000"/>
<ellipse cx="456.7" cy="1123.7" rx="13.6" ry="9.6" fill="#0a0000"/>
<ellipse cx="456.7" cy="1117.2" rx="13.6" ry="9.6" fill="#8a0300"/>
<ellipse cx="456.7" cy="1116.9" rx="11.6" ry="7.9" fill="#f21a0a"/>
<path d="M451.2 1117.2 c-3 -3.5 3 -5.5 5.5 -3 c2.5 -2.5 8.500 -.5 5.5 3 c3 3.5 -3 5.5 -5.5 3 c-2.5 2.5 -8.5 .5 -5.5 -3z" fill="none" stroke="#7a0000" stroke-width="2"/>
<polygon points="576.5,1035.4 609.7,1059.1 609.7,1083.4 576.5,1059.7" fill="#ea0a02" stroke="#5a0000" stroke-width="0.9" stroke-linejoin="round" />
<polygon points="609.7,1059.1 656.3,1026.1 656.3,1050.4 609.7,1083.4" fill="#e60204" stroke="#5a0000" stroke-width="0.9" stroke-linejoin="round" />
<polygon points="576.5,1035.4 623,1002.4 656.3,1026.1 609.7,1059.1" fill="#f30e03" stroke="#5a0000" stroke-width="0.9" stroke-linejoin="round" />
<polygon points="549.8,1034 583.1,1057.7 583.1,1080.7 549.8,1057" fill="#c2c6cb" stroke="#4a4d52" stroke-width="0.9" stroke-linejoin="round" />
<polygon points="583.1,1057.7 656.3,1005.9 656.3,1028.8 583.1,1080.7" fill="#d2d5d8" stroke="#4a4d52" stroke-width="0.9" stroke-linejoin="round" />
<polygon points="549.8,1034 623,982.2 656.3,1005.9 583.1,1057.7" fill="#cdd0d5" stroke="#4a4d52" stroke-width="0.9" stroke-linejoin="round" />
<polygon points="922.4,770 955.6,793.8 955.6,819.4 922.4,795.7" fill="#c2c6cb" stroke="#4a4d52" stroke-width="0.9" stroke-linejoin="round" />
<polygon points="955.6,793.8 1088.7,699.5 1088.7,725.1 955.6,819.4" fill="#d2d5d8" stroke="#4a4d52" stroke-width="0.9" stroke-linejoin="round" />
<polygon points="922.4,770 1055.4,675.8 1088.7,699.5 955.6,793.8" fill="#cdd0d5" stroke="#4a4d52" stroke-width="0.9" stroke-linejoin="round" />
<polygon points="789.3,850.8 822.6,874.5 822.6,888 789.3,864.3" fill="#c2c6cb" stroke="#4a4d52" stroke-width="0.9" stroke-linejoin="round" />
<polygon points="822.6,874.5 955.6,780.2 955.6,793.8 822.6,888" fill="#d2d5d8" stroke="#4a4d52" stroke-width="0.9" stroke-linejoin="round" />
<polygon points="789.3,850.8 922.4,756.5 955.6,780.2 822.6,874.5" fill="#cdd0d5" stroke="#4a4d52" stroke-width="0.9" stroke-linejoin="round" />
<path d="M908.8 773.7 a13.6 9.6 0 0 0 27.2 0 v6.5 a13.6 9.6 0 0 1 -27.2 0 z" fill="#0a0000"/>
<ellipse cx="922.4" cy="780.2" rx="13.6" ry="9.6" fill="#0a0000"/>
<ellipse cx="922.4" cy="773.7" rx="13.6" ry="9.6" fill="#0a0a0a"/>
<ellipse cx="922.4" cy="773.4" rx="11.6" ry="7.9" fill="#e4e6e9"/>
<path d="M916.9 773.7 c-3 -3.5 3 -5.5 5.5 -3 c2.5 -2.5 8.500 -.5 5.5 3 c3 3.5 -3 5.5 -5.5 3 c-2.5 2.5 -8.5 .5 -5.5 -3z" fill="none" stroke="#34373c" stroke-width="2"/>
<path d="M875.5 797.3 a13.6 9.6 0 0 0 27.2 0 v6.5 a13.6 9.6 0 0 1 -27.2 0 z" fill="#0a0000"/>
<ellipse cx="889.1" cy="803.8" rx="13.6" ry="9.6" fill="#0a0000"/>
<ellipse cx="889.1" cy="797.3" rx="13.6" ry="9.6" fill="#0a0a0a"/>
<ellipse cx="889.1" cy="797" rx="11.6" ry="7.9" fill="#e4e6e9"/>
<path d="M883.6 797.3 c-3 -3.5 3 -5.5 5.5 -3 c2.5 -2.5 8.500 -.5 5.5 3 c3 3.5 -3 5.5 -5.5 3 c-2.5 2.5 -8.5 .5 -5.5 -3z" fill="none" stroke="#34373c" stroke-width="2"/>
<path d="M842.2 820.8 a13.6 9.6 0 0 0 27.2 0 v6.5 a13.6 9.6 0 0 1 -27.2 0 z" fill="#0a0000"/>
<ellipse cx="855.8" cy="827.3" rx="13.6" ry="9.6" fill="#0a0000"/>
<ellipse cx="855.8" cy="820.8" rx="13.6" ry="9.6" fill="#0a0a0a"/>
<ellipse cx="855.8" cy="820.5" rx="11.6" ry="7.9" fill="#e4e6e9"/>
<path d="M850.3 820.8 c-3 -3.5 3 -5.5 5.5 -3 c2.5 -2.5 8.500 -.5 5.5 3 c3 3.5 -3 5.5 -5.5 3 c-2.5 2.5 -8.5 .5 -5.5 -3z" fill="none" stroke="#34373c" stroke-width="2"/>
<path d="M809 844.4 a13.6 9.6 0 0 0 27.2 0 v6.5 a13.6 9.6 0 0 1 -27.2 0 z" fill="#0a0000"/>
<ellipse cx="822.6" cy="850.9" rx="13.6" ry="9.6" fill="#0a0000"/>
<ellipse cx="822.6" cy="844.4" rx="13.6" ry="9.6" fill="#0a0a0a"/>
<ellipse cx="822.6" cy="844.1" rx="11.6" ry="7.9" fill="#e4e6e9"/>
<path d="M817.1 844.4 c-3 -3.5 3 -5.5 5.5 -3 c2.5 -2.5 8.500 -.5 5.5 3 c3 3.5 -3 5.5 -5.5 3 c-2.5 2.5 -8.5 .5 -5.5 -3z" fill="none" stroke="#34373c" stroke-width="2"/>
<polygon points="656.3,1073.4 662.9,1078.1 662.9,1111.9 656.3,1107.1" fill="#ea0a02" stroke="#5a0000" stroke-width="0.9" stroke-linejoin="round" />
<polygon points="662.9,1078.1 962.3,866 962.3,899.7 662.9,1111.9" fill="#e60204" stroke="#5a0000" stroke-width="0.9" stroke-linejoin="round" />
<polyline points="729.5,1031 729.5,1064.7" fill="none" stroke="#5a0000" stroke-width="0.9" stroke-linejoin="round" stroke-linecap="round" />
<polyline points="796,983.8 796,1017.6" fill="none" stroke="#5a0000" stroke-width="0.9" stroke-linejoin="round" stroke-linecap="round" />
<polyline points="862.5,936.7 862.5,970.4" fill="none" stroke="#5a0000" stroke-width="0.9" stroke-linejoin="round" stroke-linecap="round" />
<polyline points="929,889.6 929,923.3" fill="none" stroke="#5a0000" stroke-width="0.9" stroke-linejoin="round" stroke-linecap="round" />
<circle r="1" transform="matrix(9.6 -6.8 0 -9.4 945.6 894.6)" fill="#0a0000" stroke="none" stroke-width="0" vector-effect="non-scaling-stroke"/>
<circle r="1" transform="matrix(9.6 -6.8 0 -9.4 948.5 896.7)" fill="#0a0000" stroke="none" stroke-width="0" vector-effect="non-scaling-stroke"/>
<circle r="1" transform="matrix(9.6 -6.8 0 -9.4 951.3 898.7)" fill="#0a0000" stroke="none" stroke-width="0" vector-effect="non-scaling-stroke"/>
<circle r="1" transform="matrix(6.9 -4.9 0 -6.8 951.3 898.7)" fill="#0a0000" stroke="#a81010" stroke-width="2.3" vector-effect="non-scaling-stroke"/>
<circle r="1" transform="matrix(9.6 -6.8 0 -9.4 912.4 918.2)" fill="#0a0000" stroke="none" stroke-width="0" vector-effect="non-scaling-stroke"/>
<circle r="1" transform="matrix(9.6 -6.8 0 -9.4 915.2 920.2)" fill="#0a0000" stroke="none" stroke-width="0" vector-effect="non-scaling-stroke"/>
<circle r="1" transform="matrix(9.6 -6.8 0 -9.4 918 922.2)" fill="#0a0000" stroke="none" stroke-width="0" vector-effect="non-scaling-stroke"/>
<circle r="1" transform="matrix(6.9 -4.9 0 -6.8 918 922.2)" fill="#0a0000" stroke="#a81010" stroke-width="2.3" vector-effect="non-scaling-stroke"/>
<circle r="1" transform="matrix(9.6 -6.8 0 -9.4 879.1 941.8)" fill="#0a0000" stroke="none" stroke-width="0" vector-effect="non-scaling-stroke"/>
<circle r="1" transform="matrix(9.6 -6.8 0 -9.4 881.9 943.8)" fill="#0a0000" stroke="none" stroke-width="0" vector-effect="non-scaling-stroke"/>
<circle r="1" transform="matrix(9.6 -6.8 0 -9.4 884.8 945.8)" fill="#0a0000" stroke="none" stroke-width="0" vector-effect="non-scaling-stroke"/>
<circle r="1" transform="matrix(6.9 -4.9 0 -6.8 884.8 945.8)" fill="#0a0000" stroke="#a81010" stroke-width="2.3" vector-effect="non-scaling-stroke"/>
<circle r="1" transform="matrix(9.6 -6.8 0 -9.4 845.9 965.4)" fill="#0a0000" stroke="none" stroke-width="0" vector-effect="non-scaling-stroke"/>
<circle r="1" transform="matrix(9.6 -6.8 0 -9.4 848.7 967.4)" fill="#0a0000" stroke="none" stroke-width="0" vector-effect="non-scaling-stroke"/>
<circle r="1" transform="matrix(9.6 -6.8 0 -9.4 851.5 969.4)" fill="#0a0000" stroke="none" stroke-width="0" vector-effect="non-scaling-stroke"/>
<circle r="1" transform="matrix(6.9 -4.9 0 -6.8 851.5 969.4)" fill="#0a0000" stroke="#a81010" stroke-width="2.3" vector-effect="non-scaling-stroke"/>
<circle r="1" transform="matrix(9.6 -6.8 0 -9.4 812.6 988.9)" fill="#0a0000" stroke="none" stroke-width="0" vector-effect="non-scaling-stroke"/>
<circle r="1" transform="matrix(9.6 -6.8 0 -9.4 815.4 990.9)" fill="#0a0000" stroke="none" stroke-width="0" vector-effect="non-scaling-stroke"/>
<circle r="1" transform="matrix(9.6 -6.8 0 -9.4 818.3 993)" fill="#0a0000" stroke="none" stroke-width="0" vector-effect="non-scaling-stroke"/>
<circle r="1" transform="matrix(6.9 -4.9 0 -6.8 818.3 993)" fill="#0a0000" stroke="#a81010" stroke-width="2.3" vector-effect="non-scaling-stroke"/>
<circle r="1" transform="matrix(9.6 -6.8 0 -9.4 779.3 1012.5)" fill="#0a0000" stroke="none" stroke-width="0" vector-effect="non-scaling-stroke"/>
<circle r="1" transform="matrix(9.6 -6.8 0 -9.4 782.2 1014.5)" fill="#0a0000" stroke="none" stroke-width="0" vector-effect="non-scaling-stroke"/>
<circle r="1" transform="matrix(9.6 -6.8 0 -9.4 785 1016.5)" fill="#0a0000" stroke="none" stroke-width="0" vector-effect="non-scaling-stroke"/>
<circle r="1" transform="matrix(6.9 -4.9 0 -6.8 785 1016.5)" fill="#0a0000" stroke="#a81010" stroke-width="2.3" vector-effect="non-scaling-stroke"/>
<circle r="1" transform="matrix(9.6 -6.8 0 -9.4 746.1 1036.1)" fill="#0a0000" stroke="none" stroke-width="0" vector-effect="non-scaling-stroke"/>
<circle r="1" transform="matrix(9.6 -6.8 0 -9.4 748.9 1038.1)" fill="#0a0000" stroke="none" stroke-width="0" vector-effect="non-scaling-stroke"/>
<circle r="1" transform="matrix(9.6 -6.8 0 -9.4 751.7 1040.1)" fill="#0a0000" stroke="none" stroke-width="0" vector-effect="non-scaling-stroke"/>
<circle r="1" transform="matrix(6.9 -4.9 0 -6.8 751.7 1040.1)" fill="#0a0000" stroke="#a81010" stroke-width="2.3" vector-effect="non-scaling-stroke"/>
<circle r="1" transform="matrix(9.6 -6.8 0 -9.4 712.8 1059.6)" fill="#0a0000" stroke="none" stroke-width="0" vector-effect="non-scaling-stroke"/>
<circle r="1" transform="matrix(9.6 -6.8 0 -9.4 715.6 1061.7)" fill="#0a0000" stroke="none" stroke-width="0" vector-effect="non-scaling-stroke"/>
<circle r="1" transform="matrix(9.6 -6.8 0 -9.4 718.5 1063.7)" fill="#0a0000" stroke="none" stroke-width="0" vector-effect="non-scaling-stroke"/>
<circle r="1" transform="matrix(6.9 -4.9 0 -6.8 718.5 1063.7)" fill="#0a0000" stroke="#a81010" stroke-width="2.3" vector-effect="non-scaling-stroke"/>
<circle r="1" transform="matrix(9.6 -6.8 0 -9.4 679.6 1083.2)" fill="#0a0000" stroke="none" stroke-width="0" vector-effect="non-scaling-stroke"/>
<circle r="1" transform="matrix(9.6 -6.8 0 -9.4 682.4 1085.2)" fill="#0a0000" stroke="none" stroke-width="0" vector-effect="non-scaling-stroke"/>
<circle r="1" transform="matrix(9.6 -6.8 0 -9.4 685.2 1087.2)" fill="#0a0000" stroke="none" stroke-width="0" vector-effect="non-scaling-stroke"/>
<circle r="1" transform="matrix(6.9 -4.9 0 -6.8 685.2 1087.2)" fill="#0a0000" stroke="#a81010" stroke-width="2.3" vector-effect="non-scaling-stroke"/>
<polygon points="656.3,1005.9 662.9,1010.6 662.9,1078.1 656.3,1073.4" fill="#ea0a02" stroke="#5a0000" stroke-width="0.9" stroke-linejoin="round" />
<polygon points="656.3,1005.9 955.6,793.7 962.3,798.5 662.9,1010.6" fill="#f30e03" stroke="#5a0000" stroke-width="0.9" stroke-linejoin="round" />
<polygon points="662.9,1010.6 962.3,798.5 962.3,866 662.9,1078.1" fill="#e60204" stroke="#5a0000" stroke-width="0.9" stroke-linejoin="round" />
<polyline points="729.5,963.5 729.5,1031" fill="none" stroke="#5a0000" stroke-width="0.9" stroke-linejoin="round" stroke-linecap="round" />
<polyline points="796,916.3 796,983.8" fill="none" stroke="#5a0000" stroke-width="0.9" stroke-linejoin="round" stroke-linecap="round" />
<polyline points="862.5,869.2 862.5,936.7" fill="none" stroke="#5a0000" stroke-width="0.9" stroke-linejoin="round" stroke-linecap="round" />
<polyline points="929,822.1 929,889.6" fill="none" stroke="#5a0000" stroke-width="0.9" stroke-linejoin="round" stroke-linecap="round" />
<circle r="1" transform="matrix(9.6 -6.8 0 -9.4 945.6 827.1)" fill="#0a0000" stroke="none" stroke-width="0" vector-effect="non-scaling-stroke"/>
<circle r="1" transform="matrix(9.6 -6.8 0 -9.4 948.5 829.2)" fill="#0a0000" stroke="none" stroke-width="0" vector-effect="non-scaling-stroke"/>
<circle r="1" transform="matrix(9.6 -6.8 0 -9.4 951.3 831.2)" fill="#0a0000" stroke="none" stroke-width="0" vector-effect="non-scaling-stroke"/>
<circle r="1" transform="matrix(6.9 -4.9 0 -6.8 951.3 831.2)" fill="#0a0000" stroke="#a81010" stroke-width="2.3" vector-effect="non-scaling-stroke"/>
<circle r="1" transform="matrix(9.6 -6.8 0 -9.4 945.6 860.9)" fill="#0a0000" stroke="none" stroke-width="0" vector-effect="non-scaling-stroke"/>
<circle r="1" transform="matrix(9.6 -6.8 0 -9.4 948.5 862.9)" fill="#0a0000" stroke="none" stroke-width="0" vector-effect="non-scaling-stroke"/>
<circle r="1" transform="matrix(9.6 -6.8 0 -9.4 951.3 864.9)" fill="#0a0000" stroke="none" stroke-width="0" vector-effect="non-scaling-stroke"/>
<circle r="1" transform="matrix(6.9 -4.9 0 -6.8 951.3 864.9)" fill="#0a0000" stroke="#a81010" stroke-width="2.3" vector-effect="non-scaling-stroke"/>
<circle r="1" transform="matrix(9.6 -6.8 0 -9.4 912.4 850.7)" fill="#0a0000" stroke="none" stroke-width="0" vector-effect="non-scaling-stroke"/>
<circle r="1" transform="matrix(9.6 -6.8 0 -9.4 915.2 852.7)" fill="#0a0000" stroke="none" stroke-width="0" vector-effect="non-scaling-stroke"/>
<circle r="1" transform="matrix(9.6 -6.8 0 -9.4 918 854.7)" fill="#0a0000" stroke="none" stroke-width="0" vector-effect="non-scaling-stroke"/>
<circle r="1" transform="matrix(6.9 -4.9 0 -6.8 918 854.7)" fill="#0a0000" stroke="#a81010" stroke-width="2.3" vector-effect="non-scaling-stroke"/>
<circle r="1" transform="matrix(9.6 -6.8 0 -9.4 912.4 884.5)" fill="#0a0000" stroke="none" stroke-width="0" vector-effect="non-scaling-stroke"/>
<circle r="1" transform="matrix(9.6 -6.8 0 -9.4 915.2 886.5)" fill="#0a0000" stroke="none" stroke-width="0" vector-effect="non-scaling-stroke"/>
<circle r="1" transform="matrix(9.6 -6.8 0 -9.4 918 888.5)" fill="#0a0000" stroke="none" stroke-width="0" vector-effect="non-scaling-stroke"/>
<circle r="1" transform="matrix(6.9 -4.9 0 -6.8 918 888.5)" fill="#0a0000" stroke="#a81010" stroke-width="2.3" vector-effect="non-scaling-stroke"/>
<circle r="1" transform="matrix(9.6 -6.8 0 -9.4 879.1 874.3)" fill="#0a0000" stroke="none" stroke-width="0" vector-effect="non-scaling-stroke"/>
<circle r="1" transform="matrix(9.6 -6.8 0 -9.4 881.9 876.3)" fill="#0a0000" stroke="none" stroke-width="0" vector-effect="non-scaling-stroke"/>
<circle r="1" transform="matrix(9.6 -6.8 0 -9.4 884.8 878.3)" fill="#0a0000" stroke="none" stroke-width="0" vector-effect="non-scaling-stroke"/>
<circle r="1" transform="matrix(6.9 -4.9 0 -6.8 884.8 878.3)" fill="#0a0000" stroke="#a81010" stroke-width="2.3" vector-effect="non-scaling-stroke"/>
<circle r="1" transform="matrix(9.6 -6.8 0 -9.4 879.1 908)" fill="#0a0000" stroke="none" stroke-width="0" vector-effect="non-scaling-stroke"/>
<circle r="1" transform="matrix(9.6 -6.8 0 -9.4 881.9 910.1)" fill="#0a0000" stroke="none" stroke-width="0" vector-effect="non-scaling-stroke"/>
<circle r="1" transform="matrix(9.6 -6.8 0 -9.4 884.8 912.1)" fill="#0a0000" stroke="none" stroke-width="0" vector-effect="non-scaling-stroke"/>
<circle r="1" transform="matrix(6.9 -4.9 0 -6.8 884.8 912.1)" fill="#0a0000" stroke="#a81010" stroke-width="2.3" vector-effect="non-scaling-stroke"/>
<circle r="1" transform="matrix(9.6 -6.8 0 -9.4 845.9 897.9)" fill="#0a0000" stroke="none" stroke-width="0" vector-effect="non-scaling-stroke"/>
<circle r="1" transform="matrix(9.6 -6.8 0 -9.4 848.7 899.9)" fill="#0a0000" stroke="none" stroke-width="0" vector-effect="non-scaling-stroke"/>
<circle r="1" transform="matrix(9.6 -6.8 0 -9.4 851.5 901.9)" fill="#0a0000" stroke="none" stroke-width="0" vector-effect="non-scaling-stroke"/>
<circle r="1" transform="matrix(6.9 -4.9 0 -6.8 851.5 901.9)" fill="#0a0000" stroke="#a81010" stroke-width="2.3" vector-effect="non-scaling-stroke"/>
<circle r="1" transform="matrix(9.6 -6.8 0 -9.4 845.9 931.6)" fill="#0a0000" stroke="none" stroke-width="0" vector-effect="non-scaling-stroke"/>
<circle r="1" transform="matrix(9.6 -6.8 0 -9.4 848.7 933.6)" fill="#0a0000" stroke="none" stroke-width="0" vector-effect="non-scaling-stroke"/>
<circle r="1" transform="matrix(9.6 -6.8 0 -9.4 851.5 935.6)" fill="#0a0000" stroke="none" stroke-width="0" vector-effect="non-scaling-stroke"/>
<circle r="1" transform="matrix(6.9 -4.9 0 -6.8 851.5 935.6)" fill="#0a0000" stroke="#a81010" stroke-width="2.3" vector-effect="non-scaling-stroke"/>
<circle r="1" transform="matrix(9.6 -6.8 0 -9.4 812.6 921.4)" fill="#0a0000" stroke="none" stroke-width="0" vector-effect="non-scaling-stroke"/>
<circle r="1" transform="matrix(9.6 -6.8 0 -9.4 815.4 923.4)" fill="#0a0000" stroke="none" stroke-width="0" vector-effect="non-scaling-stroke"/>
<circle r="1" transform="matrix(9.6 -6.8 0 -9.4 818.3 925.5)" fill="#0a0000" stroke="none" stroke-width="0" vector-effect="non-scaling-stroke"/>
<circle r="1" transform="matrix(6.9 -4.9 0 -6.8 818.3 925.5)" fill="#0a0000" stroke="#a81010" stroke-width="2.3" vector-effect="non-scaling-stroke"/>
<circle r="1" transform="matrix(9.6 -6.8 0 -9.4 812.6 955.2)" fill="#0a0000" stroke="none" stroke-width="0" vector-effect="non-scaling-stroke"/>
<circle r="1" transform="matrix(9.6 -6.8 0 -9.4 815.4 957.2)" fill="#0a0000" stroke="none" stroke-width="0" vector-effect="non-scaling-stroke"/>
<circle r="1" transform="matrix(9.6 -6.8 0 -9.4 818.3 959.2)" fill="#0a0000" stroke="none" stroke-width="0" vector-effect="non-scaling-stroke"/>
<circle r="1" transform="matrix(6.9 -4.9 0 -6.8 818.3 959.2)" fill="#0a0000" stroke="#a81010" stroke-width="2.3" vector-effect="non-scaling-stroke"/>
<circle r="1" transform="matrix(9.6 -6.8 0 -9.4 779.3 945)" fill="#0a0000" stroke="none" stroke-width="0" vector-effect="non-scaling-stroke"/>
<circle r="1" transform="matrix(9.6 -6.8 0 -9.4 782.2 947)" fill="#0a0000" stroke="none" stroke-width="0" vector-effect="non-scaling-stroke"/>
<circle r="1" transform="matrix(9.6 -6.8 0 -9.4 785 949)" fill="#0a0000" stroke="none" stroke-width="0" vector-effect="non-scaling-stroke"/>
<circle r="1" transform="matrix(6.9 -4.9 0 -6.8 785 949)" fill="#0a0000" stroke="#a81010" stroke-width="2.3" vector-effect="non-scaling-stroke"/>
<circle r="1" transform="matrix(9.6 -6.8 0 -9.4 779.3 978.8)" fill="#0a0000" stroke="none" stroke-width="0" vector-effect="non-scaling-stroke"/>
<circle r="1" transform="matrix(9.6 -6.8 0 -9.4 782.2 980.8)" fill="#0a0000" stroke="none" stroke-width="0" vector-effect="non-scaling-stroke"/>
<circle r="1" transform="matrix(9.6 -6.8 0 -9.4 785 982.8)" fill="#0a0000" stroke="none" stroke-width="0" vector-effect="non-scaling-stroke"/>
<circle r="1" transform="matrix(6.9 -4.9 0 -6.8 785 982.8)" fill="#0a0000" stroke="#a81010" stroke-width="2.3" vector-effect="non-scaling-stroke"/>
<circle r="1" transform="matrix(9.6 -6.8 0 -9.4 746.1 968.6)" fill="#0a0000" stroke="none" stroke-width="0" vector-effect="non-scaling-stroke"/>
<circle r="1" transform="matrix(9.6 -6.8 0 -9.4 748.9 970.6)" fill="#0a0000" stroke="none" stroke-width="0" vector-effect="non-scaling-stroke"/>
<circle r="1" transform="matrix(9.6 -6.8 0 -9.4 751.7 972.6)" fill="#0a0000" stroke="none" stroke-width="0" vector-effect="non-scaling-stroke"/>
<circle r="1" transform="matrix(6.9 -4.9 0 -6.8 751.7 972.6)" fill="#0a0000" stroke="#a81010" stroke-width="2.3" vector-effect="non-scaling-stroke"/>
<circle r="1" transform="matrix(9.6 -6.8 0 -9.4 746.1 1002.3)" fill="#0a0000" stroke="none" stroke-width="0" vector-effect="non-scaling-stroke"/>
<circle r="1" transform="matrix(9.6 -6.8 0 -9.4 748.9 1004.3)" fill="#0a0000" stroke="none" stroke-width="0" vector-effect="non-scaling-stroke"/>
<circle r="1" transform="matrix(9.6 -6.8 0 -9.4 751.7 1006.3)" fill="#0a0000" stroke="none" stroke-width="0" vector-effect="non-scaling-stroke"/>
<circle r="1" transform="matrix(6.9 -4.9 0 -6.8 751.7 1006.3)" fill="#0a0000" stroke="#a81010" stroke-width="2.3" vector-effect="non-scaling-stroke"/>
<circle r="1" transform="matrix(9.6 -6.8 0 -9.4 712.8 992.1)" fill="#0a0000" stroke="none" stroke-width="0" vector-effect="non-scaling-stroke"/>
<circle r="1" transform="matrix(9.6 -6.8 0 -9.4 715.6 994.2)" fill="#0a0000" stroke="none" stroke-width="0" vector-effect="non-scaling-stroke"/>
<circle r="1" transform="matrix(9.6 -6.8 0 -9.4 718.5 996.2)" fill="#0a0000" stroke="none" stroke-width="0" vector-effect="non-scaling-stroke"/>
<circle r="1" transform="matrix(6.9 -4.9 0 -6.8 718.5 996.2)" fill="#0a0000" stroke="#a81010" stroke-width="2.3" vector-effect="non-scaling-stroke"/>
<circle r="1" transform="matrix(9.6 -6.8 0 -9.4 712.8 1025.9)" fill="#0a0000" stroke="none" stroke-width="0" vector-effect="non-scaling-stroke"/>
<circle r="1" transform="matrix(9.6 -6.8 0 -9.4 715.6 1027.9)" fill="#0a0000" stroke="none" stroke-width="0" vector-effect="non-scaling-stroke"/>
<circle r="1" transform="matrix(9.6 -6.8 0 -9.4 718.5 1029.9)" fill="#0a0000" stroke="none" stroke-width="0" vector-effect="non-scaling-stroke"/>
<circle r="1" transform="matrix(6.9 -4.9 0 -6.8 718.5 1029.9)" fill="#0a0000" stroke="#a81010" stroke-width="2.3" vector-effect="non-scaling-stroke"/>
<circle r="1" transform="matrix(9.6 -6.8 0 -9.4 679.6 1015.7)" fill="#0a0000" stroke="none" stroke-width="0" vector-effect="non-scaling-stroke"/>
<circle r="1" transform="matrix(9.6 -6.8 0 -9.4 682.4 1017.7)" fill="#0a0000" stroke="none" stroke-width="0" vector-effect="non-scaling-stroke"/>
<circle r="1" transform="matrix(9.6 -6.8 0 -9.4 685.2 1019.7)" fill="#0a0000" stroke="none" stroke-width="0" vector-effect="non-scaling-stroke"/>
<circle r="1" transform="matrix(6.9 -4.9 0 -6.8 685.2 1019.7)" fill="#0a0000" stroke="#a81010" stroke-width="2.3" vector-effect="non-scaling-stroke"/>
<circle r="1" transform="matrix(9.6 -6.8 0 -9.4 679.6 1049.5)" fill="#0a0000" stroke="none" stroke-width="0" vector-effect="non-scaling-stroke"/>
<circle r="1" transform="matrix(9.6 -6.8 0 -9.4 682.4 1051.5)" fill="#0a0000" stroke="none" stroke-width="0" vector-effect="non-scaling-stroke"/>
<circle r="1" transform="matrix(9.6 -6.8 0 -9.4 685.2 1053.5)" fill="#0a0000" stroke="none" stroke-width="0" vector-effect="non-scaling-stroke"/>
<circle r="1" transform="matrix(6.9 -4.9 0 -6.8 685.2 1053.5)" fill="#0a0000" stroke="#a81010" stroke-width="2.3" vector-effect="non-scaling-stroke"/>
<polygon points="1121.9,615.1 1155.2,638.8 1155.2,652.3 1121.9,628.6" fill="#ea0a02" stroke="#5a0000" stroke-width="0.9" stroke-linejoin="round" />
<polygon points="1155.2,638.8 1221.7,591.7 1221.7,605.2 1155.2,652.3" fill="#e60204" stroke="#5a0000" stroke-width="0.9" stroke-linejoin="round" />
<polygon points="1121.9,615.1 1188.4,568 1221.7,591.7 1155.2,638.8" fill="#f30e03" stroke="#5a0000" stroke-width="0.9" stroke-linejoin="round" />
<path d="M1174.8 585.1 a13.6 9.6 0 0 0 27.2 0 v6.5 a13.6 9.6 0 0 1 -27.2 0 z" fill="#0a0000"/>
<ellipse cx="1188.4" cy="591.6" rx="13.6" ry="9.6" fill="#0a0000"/>
<ellipse cx="1188.4" cy="585.1" rx="13.6" ry="9.6" fill="#8a0300"/>
<ellipse cx="1188.4" cy="584.8" rx="11.6" ry="7.9" fill="#f21a0a"/>
<path d="M1182.9 585.1 c-3 -3.5 3 -5.5 5.5 -3 c2.5 -2.5 8.500 -.5 5.5 3 c3 3.5 -3 5.5 -5.5 3 c-2.5 2.5 -8.5 .5 -5.5 -3z" fill="none" stroke="#7a0000" stroke-width="2"/>
<path d="M1141.6 608.7 a13.6 9.6 0 0 0 27.2 0 v6.5 a13.6 9.6 0 0 1 -27.2 0 z" fill="#0a0000"/>
<ellipse cx="1155.2" cy="615.2" rx="13.6" ry="9.6" fill="#0a0000"/>
<ellipse cx="1155.2" cy="608.7" rx="13.6" ry="9.6" fill="#8a0300"/>
<ellipse cx="1155.2" cy="608.4" rx="11.6" ry="7.9" fill="#f21a0a"/>
<path d="M1149.7 608.7 c-3 -3.5 3 -5.5 5.5 -3 c2.5 -2.5 8.500 -.5 5.5 3 c3 3.5 -3 5.5 -5.5 3 c-2.5 2.5 -8.5 .5 -5.5 -3z" fill="none" stroke="#7a0000" stroke-width="2"/>
<polygon points="1115.3,704.9 1121.9,709.6 1121.9,743.4 1115.3,738.7" fill="#ea0a02" stroke="#5a0000" stroke-width="0.9" stroke-linejoin="round" />
<polygon points="1121.9,709.6 1188.4,662.5 1188.4,696.3 1121.9,743.4" fill="#e60204" stroke="#5a0000" stroke-width="0.9" stroke-linejoin="round" />
<circle r="1" transform="matrix(9.6 -6.8 0 -9.4 1171.8 691.2)" fill="#0a0000" stroke="none" stroke-width="0" vector-effect="non-scaling-stroke"/>
<circle r="1" transform="matrix(9.6 -6.8 0 -9.4 1174.6 693.2)" fill="#0a0000" stroke="none" stroke-width="0" vector-effect="non-scaling-stroke"/>
<circle r="1" transform="matrix(9.6 -6.8 0 -9.4 1177.5 695.2)" fill="#0a0000" stroke="none" stroke-width="0" vector-effect="non-scaling-stroke"/>
<circle r="1" transform="matrix(6.9 -4.9 0 -6.8 1177.5 695.2)" fill="#0a0000" stroke="#a81010" stroke-width="2.3" vector-effect="non-scaling-stroke"/>
<circle r="1" transform="matrix(9.6 -6.8 0 -9.4 1138.5 714.7)" fill="#0a0000" stroke="none" stroke-width="0" vector-effect="non-scaling-stroke"/>
<circle r="1" transform="matrix(9.6 -6.8 0 -9.4 1141.4 716.8)" fill="#0a0000" stroke="none" stroke-width="0" vector-effect="non-scaling-stroke"/>
<circle r="1" transform="matrix(9.6 -6.8 0 -9.4 1144.2 718.8)" fill="#0a0000" stroke="none" stroke-width="0" vector-effect="non-scaling-stroke"/>
<circle r="1" transform="matrix(6.9 -4.9 0 -6.8 1144.2 718.8)" fill="#0a0000" stroke="#a81010" stroke-width="2.3" vector-effect="non-scaling-stroke"/>
<polygon points="1155.2,618.6 1161.8,623.3 1161.8,690.8 1155.2,686.1" fill="#ea0a02" stroke="#5a0000" stroke-width="0.9" stroke-linejoin="round" />
<polygon points="1155.2,618.6 1221.7,571.4 1228.4,576.2 1161.8,623.3" fill="#f30e03" stroke="#5a0000" stroke-width="0.9" stroke-linejoin="round" />
<polygon points="1161.8,623.3 1228.4,576.2 1228.4,643.7 1161.8,690.8" fill="#e60204" stroke="#5a0000" stroke-width="0.9" stroke-linejoin="round" />
<circle r="1" transform="matrix(9.6 -6.8 0 -9.4 1211.7 604.8)" fill="#0a0000" stroke="none" stroke-width="0" vector-effect="non-scaling-stroke"/>
<circle r="1" transform="matrix(9.6 -6.8 0 -9.4 1214.5 606.9)" fill="#0a0000" stroke="none" stroke-width="0" vector-effect="non-scaling-stroke"/>
<circle r="1" transform="matrix(9.6 -6.8 0 -9.4 1217.4 608.9)" fill="#0a0000" stroke="none" stroke-width="0" vector-effect="non-scaling-stroke"/>
<circle r="1" transform="matrix(6.9 -4.9 0 -6.8 1217.4 608.9)" fill="#0a0000" stroke="#a81010" stroke-width="2.3" vector-effect="non-scaling-stroke"/>
<circle r="1" transform="matrix(9.6 -6.8 0 -9.4 1211.7 638.6)" fill="#0a0000" stroke="none" stroke-width="0" vector-effect="non-scaling-stroke"/>
<circle r="1" transform="matrix(9.6 -6.8 0 -9.4 1214.5 640.6)" fill="#0a0000" stroke="none" stroke-width="0" vector-effect="non-scaling-stroke"/>
<circle r="1" transform="matrix(9.6 -6.8 0 -9.4 1217.4 642.6)" fill="#0a0000" stroke="none" stroke-width="0" vector-effect="non-scaling-stroke"/>
<circle r="1" transform="matrix(6.9 -4.9 0 -6.8 1217.4 642.6)" fill="#0a0000" stroke="#a81010" stroke-width="2.3" vector-effect="non-scaling-stroke"/>
<circle r="1" transform="matrix(9.6 -6.8 0 -9.4 1178.5 628.4)" fill="#0a0000" stroke="none" stroke-width="0" vector-effect="non-scaling-stroke"/>
<circle r="1" transform="matrix(9.6 -6.8 0 -9.4 1181.3 630.4)" fill="#0a0000" stroke="none" stroke-width="0" vector-effect="non-scaling-stroke"/>
<circle r="1" transform="matrix(9.6 -6.8 0 -9.4 1184.1 632.4)" fill="#0a0000" stroke="none" stroke-width="0" vector-effect="non-scaling-stroke"/>
<circle r="1" transform="matrix(6.9 -4.9 0 -6.8 1184.1 632.4)" fill="#0a0000" stroke="#a81010" stroke-width="2.3" vector-effect="non-scaling-stroke"/>
<circle r="1" transform="matrix(9.6 -6.8 0 -9.4 1178.5 662.2)" fill="#0a0000" stroke="none" stroke-width="0" vector-effect="non-scaling-stroke"/>
<circle r="1" transform="matrix(9.6 -6.8 0 -9.4 1181.3 664.2)" fill="#0a0000" stroke="none" stroke-width="0" vector-effect="non-scaling-stroke"/>
<circle r="1" transform="matrix(9.6 -6.8 0 -9.4 1184.1 666.2)" fill="#0a0000" stroke="none" stroke-width="0" vector-effect="non-scaling-stroke"/>
<circle r="1" transform="matrix(6.9 -4.9 0 -6.8 1184.1 666.2)" fill="#0a0000" stroke="#a81010" stroke-width="2.3" vector-effect="non-scaling-stroke"/>
<path d="M517 1109 q12 -2.2 20 2.2 q2 11 -2 19.8 q-10 3.3 -11 -5.5 q-6 -6.6 -7 -16.5z" fill="#ee0b00" stroke="#5a0000" stroke-width="0.9"/>
<path d="M550 1089 q9 -2.4 15 2.4 q1.5 12 -1.5 21.6 q-7.5 3.6 -8.2 -6 q-4.5 -7.2 -5.2 -18z" fill="#ee0b00" stroke="#5a0000" stroke-width="0.9"/>
<path d="M981 794 q10.2 -1.4 17 1.4 q1.7 7 -1.7 12.6 q-8.5 2.1 -9.4 -3.5 q-5.1 -4.2 -5.9 -10.5z" fill="#ee0b00" stroke="#5a0000" stroke-width="0.9"/>
<path d="M962 812 q6 -1.2 10 1.2 q1 6 -1 10.8 q-5 1.8 -5.5 -3 q-3 -3.6 -3.5 -9z" fill="#ee0b00" stroke="#5a0000" stroke-width="0.9"/>
<polygon points="217.2,865.9 223.9,870.7 223.9,934.1 217.2,929.4" fill="#f8f430" stroke="#f8f430" stroke-width="10.6" stroke-linejoin="round"/>
<polygon points="223.9,870.7 556.5,635 556.5,698.4 223.9,934.1" fill="#f8f430" stroke="#f8f430" stroke-width="10.6" stroke-linejoin="round"/>
<polygon points="217.2,865.9 549.8,630.2 556.5,635 223.9,870.7" fill="#f8f430" stroke="#f8f430" stroke-width="10.6" stroke-linejoin="round"/>
<polygon points="223.9,920.6 257.2,944.3 257.2,957.8 223.9,934.1" fill="#f8f430" stroke="#f8f430" stroke-width="10.6" stroke-linejoin="round"/>
<polygon points="257.2,944.3 589.8,708.6 589.8,722.1 257.2,957.8" fill="#f8f430" stroke="#f8f430" stroke-width="10.6" stroke-linejoin="round"/>
<polygon points="223.9,920.6 556.5,684.9 589.8,708.6 257.2,944.3" fill="#f8f430" stroke="#f8f430" stroke-width="10.6" stroke-linejoin="round"/>
<ellipse cx="556.5" cy="702.1" rx="13.6" ry="9.6" fill="#f8f430" stroke="#f8f430" stroke-width="10.6"/>
<ellipse cx="523.2" cy="725.6" rx="13.6" ry="9.6" fill="#f8f430" stroke="#f8f430" stroke-width="10.6"/>
<ellipse cx="490" cy="749.2" rx="13.6" ry="9.6" fill="#f8f430" stroke="#f8f430" stroke-width="10.6"/>
<ellipse cx="456.7" cy="772.8" rx="13.6" ry="9.6" fill="#f8f430" stroke="#f8f430" stroke-width="10.6"/>
<ellipse cx="423.5" cy="796.3" rx="13.6" ry="9.6" fill="#f8f430" stroke="#f8f430" stroke-width="10.6"/>
<ellipse cx="390.2" cy="819.9" rx="13.6" ry="9.6" fill="#f8f430" stroke="#f8f430" stroke-width="10.6"/>
<ellipse cx="356.9" cy="843.5" rx="13.6" ry="9.6" fill="#f8f430" stroke="#f8f430" stroke-width="10.6"/>
<ellipse cx="323.7" cy="867.1" rx="13.6" ry="9.6" fill="#f8f430" stroke="#f8f430" stroke-width="10.6"/>
<ellipse cx="290.4" cy="890.6" rx="13.6" ry="9.6" fill="#f8f430" stroke="#f8f430" stroke-width="10.6"/>
<ellipse cx="257.2" cy="914.2" rx="13.6" ry="9.6" fill="#f8f430" stroke="#f8f430" stroke-width="10.6"/>
<ellipse cx="228.9" cy="856.5" rx="4.2" ry="2.6" fill="#2a0000"/>
<ellipse cx="262.1" cy="832.9" rx="4.2" ry="2.6" fill="#2a0000"/>
<ellipse cx="295.4" cy="809.4" rx="4.2" ry="2.6" fill="#2a0000"/>
<ellipse cx="328.7" cy="785.8" rx="4.2" ry="2.6" fill="#2a0000"/>
<ellipse cx="361.9" cy="762.2" rx="4.2" ry="2.6" fill="#2a0000"/>
<ellipse cx="395.2" cy="738.6" rx="4.2" ry="2.6" fill="#2a0000"/>
<ellipse cx="428.4" cy="715.1" rx="4.2" ry="2.6" fill="#2a0000"/>
<ellipse cx="461.7" cy="691.5" rx="4.2" ry="2.6" fill="#2a0000"/>
<ellipse cx="495" cy="667.9" rx="4.2" ry="2.6" fill="#2a0000"/>
<ellipse cx="528.2" cy="644.4" rx="4.2" ry="2.6" fill="#2a0000"/>
<polygon points="217.2,865.9 223.9,870.7 223.9,934.1 217.2,929.4" fill="#ea0a02" stroke="#5a0000" stroke-width="0.9" stroke-linejoin="round" />
<polygon points="223.9,870.7 556.5,635 556.5,698.4 223.9,934.1" fill="#e60204" stroke="#5a0000" stroke-width="0.9" stroke-linejoin="round" />
<polygon points="217.2,865.9 549.8,630.2 556.5,635 223.9,870.7" fill="#f30e03" stroke="#5a0000" stroke-width="0.9" stroke-linejoin="round" />
<polyline points="290.4,823.5 290.4,887" fill="none" stroke="#5a0000" stroke-width="0.9" stroke-linejoin="round" stroke-linecap="round" />
<polyline points="290.4,823.5 283.8,818.8" fill="none" stroke="#5a0000" stroke-width="0.9" stroke-linejoin="round" stroke-linecap="round" />
<polyline points="356.9,776.4 356.9,839.8" fill="none" stroke="#5a0000" stroke-width="0.9" stroke-linejoin="round" stroke-linecap="round" />
<polyline points="356.9,776.4 350.3,771.7" fill="none" stroke="#5a0000" stroke-width="0.9" stroke-linejoin="round" stroke-linecap="round" />
<polyline points="423.5,729.3 423.5,792.7" fill="none" stroke="#5a0000" stroke-width="0.9" stroke-linejoin="round" stroke-linecap="round" />
<polyline points="423.5,729.3 416.8,724.5" fill="none" stroke="#5a0000" stroke-width="0.9" stroke-linejoin="round" stroke-linecap="round" />
<polyline points="490,682.1 490,745.6" fill="none" stroke="#5a0000" stroke-width="0.9" stroke-linejoin="round" stroke-linecap="round" />
<polyline points="490,682.1 483.3,677.4" fill="none" stroke="#5a0000" stroke-width="0.9" stroke-linejoin="round" stroke-linecap="round" />
<polygon points="223.9,920.6 257.2,944.3 257.2,957.8 223.9,934.1" fill="#ea0a02" stroke="#5a0000" stroke-width="0.9" stroke-linejoin="round" />
<polygon points="257.2,944.3 589.8,708.6 589.8,722.1 257.2,957.8" fill="#e60204" stroke="#5a0000" stroke-width="0.9" stroke-linejoin="round" />
<polygon points="223.9,920.6 556.5,684.9 589.8,708.6 257.2,944.3" fill="#f30e03" stroke="#5a0000" stroke-width="0.9" stroke-linejoin="round" />
<path d="M542.9 702.1 a13.6 9.6 0 0 0 27.2 0 v6.5 a13.6 9.6 0 0 1 -27.2 0 z" fill="#0a0000"/>
<ellipse cx="556.5" cy="708.6" rx="13.6" ry="9.6" fill="#0a0000"/>
<ellipse cx="556.5" cy="702.1" rx="13.6" ry="9.6" fill="#8a0300"/>
<ellipse cx="556.5" cy="701.8" rx="11.6" ry="7.9" fill="#f21a0a"/>
<path d="M551 702.1 c-3 -3.5 3 -5.5 5.5 -3 c2.5 -2.5 8.500 -.5 5.5 3 c3 3.5 -3 5.5 -5.5 3 c-2.5 2.5 -8.5 .5 -5.5 -3z" fill="none" stroke="#7a0000" stroke-width="2"/>
<path d="M509.6 725.6 a13.6 9.6 0 0 0 27.2 0 v6.5 a13.6 9.6 0 0 1 -27.2 0 z" fill="#0a0000"/>
<ellipse cx="523.2" cy="732.1" rx="13.6" ry="9.6" fill="#0a0000"/>
<ellipse cx="523.2" cy="725.6" rx="13.6" ry="9.6" fill="#8a0300"/>
<ellipse cx="523.2" cy="725.3" rx="11.6" ry="7.9" fill="#f21a0a"/>
<path d="M517.7 725.6 c-3 -3.5 3 -5.5 5.5 -3 c2.5 -2.5 8.500 -.5 5.5 3 c3 3.5 -3 5.5 -5.5 3 c-2.5 2.5 -8.5 .5 -5.5 -3z" fill="none" stroke="#7a0000" stroke-width="2"/>
<path d="M476.4 749.2 a13.6 9.6 0 0 0 27.2 0 v6.5 a13.6 9.6 0 0 1 -27.2 0 z" fill="#0a0000"/>
<ellipse cx="490" cy="755.7" rx="13.6" ry="9.6" fill="#0a0000"/>
<ellipse cx="490" cy="749.2" rx="13.6" ry="9.6" fill="#8a0300"/>
<ellipse cx="490" cy="748.9" rx="11.6" ry="7.9" fill="#f21a0a"/>
<path d="M484.5 749.2 c-3 -3.5 3 -5.5 5.5 -3 c2.5 -2.5 8.500 -.5 5.5 3 c3 3.5 -3 5.5 -5.5 3 c-2.5 2.5 -8.5 .5 -5.5 -3z" fill="none" stroke="#7a0000" stroke-width="2"/>
<path d="M443.1 772.8 a13.6 9.6 0 0 0 27.2 0 v6.5 a13.6 9.6 0 0 1 -27.2 0 z" fill="#0a0000"/>
<ellipse cx="456.7" cy="779.3" rx="13.6" ry="9.6" fill="#0a0000"/>
<ellipse cx="456.7" cy="772.8" rx="13.6" ry="9.6" fill="#8a0300"/>
<ellipse cx="456.7" cy="772.5" rx="11.6" ry="7.9" fill="#f21a0a"/>
<path d="M451.2 772.8 c-3 -3.5 3 -5.5 5.5 -3 c2.5 -2.5 8.500 -.5 5.5 3 c3 3.5 -3 5.5 -5.5 3 c-2.5 2.5 -8.5 .5 -5.5 -3z" fill="none" stroke="#7a0000" stroke-width="2"/>
<path d="M409.9 796.3 a13.6 9.6 0 0 0 27.2 0 v6.5 a13.6 9.6 0 0 1 -27.2 0 z" fill="#0a0000"/>
<ellipse cx="423.5" cy="802.8" rx="13.6" ry="9.6" fill="#0a0000"/>
<ellipse cx="423.5" cy="796.3" rx="13.6" ry="9.6" fill="#8a0300"/>
<ellipse cx="423.5" cy="796" rx="11.6" ry="7.9" fill="#f21a0a"/>
<path d="M418 796.3 c-3 -3.5 3 -5.5 5.5 -3 c2.5 -2.5 8.500 -.5 5.5 3 c3 3.5 -3 5.5 -5.5 3 c-2.5 2.5 -8.5 .5 -5.5 -3z" fill="none" stroke="#7a0000" stroke-width="2"/>
<path d="M376.6 819.9 a13.6 9.6 0 0 0 27.2 0 v6.5 a13.6 9.6 0 0 1 -27.2 0 z" fill="#0a0000"/>
<ellipse cx="390.2" cy="826.4" rx="13.6" ry="9.6" fill="#0a0000"/>
<ellipse cx="390.2" cy="819.9" rx="13.6" ry="9.6" fill="#8a0300"/>
<ellipse cx="390.2" cy="819.6" rx="11.6" ry="7.9" fill="#f21a0a"/>
<path d="M384.7 819.9 c-3 -3.5 3 -5.5 5.5 -3 c2.5 -2.5 8.500 -.5 5.5 3 c3 3.5 -3 5.5 -5.5 3 c-2.5 2.5 -8.5 .5 -5.5 -3z" fill="none" stroke="#7a0000" stroke-width="2"/>
<path d="M343.3 843.5 a13.6 9.6 0 0 0 27.2 0 v6.5 a13.6 9.6 0 0 1 -27.2 0 z" fill="#0a0000"/>
<ellipse cx="356.9" cy="850" rx="13.6" ry="9.6" fill="#0a0000"/>
<ellipse cx="356.9" cy="843.5" rx="13.6" ry="9.6" fill="#8a0300"/>
<ellipse cx="356.9" cy="843.2" rx="11.6" ry="7.9" fill="#f21a0a"/>
<path d="M351.4 843.5 c-3 -3.5 3 -5.5 5.5 -3 c2.5 -2.5 8.500 -.5 5.5 3 c3 3.5 -3 5.5 -5.5 3 c-2.5 2.5 -8.5 .5 -5.5 -3z" fill="none" stroke="#7a0000" stroke-width="2"/>
<path d="M310.1 867.1 a13.6 9.6 0 0 0 27.2 0 v6.5 a13.6 9.6 0 0 1 -27.2 0 z" fill="#0a0000"/>
<ellipse cx="323.7" cy="873.6" rx="13.6" ry="9.6" fill="#0a0000"/>
<ellipse cx="323.7" cy="867.1" rx="13.6" ry="9.6" fill="#8a0300"/>
<ellipse cx="323.7" cy="866.8" rx="11.6" ry="7.9" fill="#f21a0a"/>
<path d="M318.2 867.1 c-3 -3.5 3 -5.5 5.5 -3 c2.5 -2.5 8.500 -.5 5.5 3 c3 3.5 -3 5.5 -5.5 3 c-2.5 2.5 -8.5 .5 -5.5 -3z" fill="none" stroke="#7a0000" stroke-width="2"/>
<path d="M276.8 890.6 a13.6 9.6 0 0 0 27.2 0 v6.5 a13.6 9.6 0 0 1 -27.2 0 z" fill="#0a0000"/>
<ellipse cx="290.4" cy="897.1" rx="13.6" ry="9.6" fill="#0a0000"/>
<ellipse cx="290.4" cy="890.6" rx="13.6" ry="9.6" fill="#8a0300"/>
<ellipse cx="290.4" cy="890.3" rx="11.6" ry="7.9" fill="#f21a0a"/>
<path d="M284.9 890.6 c-3 -3.5 3 -5.5 5.5 -3 c2.5 -2.5 8.500 -.5 5.5 3 c3 3.5 -3 5.5 -5.5 3 c-2.5 2.5 -8.5 .5 -5.5 -3z" fill="none" stroke="#7a0000" stroke-width="2"/>
<path d="M243.6 914.2 a13.6 9.6 0 0 0 27.2 0 v6.5 a13.6 9.6 0 0 1 -27.2 0 z" fill="#0a0000"/>
<ellipse cx="257.2" cy="920.7" rx="13.6" ry="9.6" fill="#0a0000"/>
<ellipse cx="257.2" cy="914.2" rx="13.6" ry="9.6" fill="#8a0300"/>
<ellipse cx="257.2" cy="913.9" rx="11.6" ry="7.9" fill="#f21a0a"/>
<path d="M251.7 914.2 c-3 -3.5 3 -5.5 5.5 -3 c2.5 -2.5 8.500 -.5 5.5 3 c3 3.5 -3 5.5 -5.5 3 c-2.5 2.5 -8.5 .5 -5.5 -3z" fill="none" stroke="#7a0000" stroke-width="2"/>
<polyline points="290.4,873.5 323.7,897.2 323.7,910.7" fill="none" stroke="#5a0000" stroke-width="0.9" stroke-linejoin="round" stroke-linecap="round" />
<polyline points="356.9,826.3 390.2,850 390.2,863.5" fill="none" stroke="#5a0000" stroke-width="0.9" stroke-linejoin="round" stroke-linecap="round" />
<polyline points="423.5,779.2 456.7,802.9 456.7,816.4" fill="none" stroke="#5a0000" stroke-width="0.9" stroke-linejoin="round" stroke-linecap="round" />
<polyline points="490,732.1 523.2,755.8 523.2,769.3" fill="none" stroke="#5a0000" stroke-width="0.9" stroke-linejoin="round" stroke-linecap="round" />
<path d="M243.6 914.2 a13.6 9.6 0 0 0 27.2 0 v6.5 a13.6 9.6 0 0 1 -27.2 0 z" fill="#0a0000"/>
<ellipse cx="257.2" cy="920.7" rx="13.6" ry="9.6" fill="#0a0000"/>
<ellipse cx="257.2" cy="914.2" rx="13.6" ry="9.6" fill="#8a0300"/>
<ellipse cx="257.2" cy="913.9" rx="11.6" ry="7.9" fill="#f21a0a"/>
<path d="M251.7 914.2 c-3 -3.5 3 -5.5 5.5 -3 c2.5 -2.5 8.500 -.5 5.5 3 c3 3.5 -3 5.5 -5.5 3 c-2.5 2.5 -8.5 .5 -5.5 -3z" fill="none" stroke="#7a0000" stroke-width="2"/>
<path d="M276.8 890.6 a13.6 9.6 0 0 0 27.2 0 v6.5 a13.6 9.6 0 0 1 -27.2 0 z" fill="#0a0000"/>
<ellipse cx="290.4" cy="897.1" rx="13.6" ry="9.6" fill="#0a0000"/>
<ellipse cx="290.4" cy="890.6" rx="13.6" ry="9.6" fill="#8a0300"/>
<ellipse cx="290.4" cy="890.3" rx="11.6" ry="7.9" fill="#f21a0a"/>
<path d="M284.9 890.6 c-3 -3.5 3 -5.5 5.5 -3 c2.5 -2.5 8.500 -.5 5.5 3 c3 3.5 -3 5.5 -5.5 3 c-2.5 2.5 -8.5 .5 -5.5 -3z" fill="none" stroke="#7a0000" stroke-width="2"/>
<path d="M310.1 867.1 a13.6 9.6 0 0 0 27.2 0 v6.5 a13.6 9.6 0 0 1 -27.2 0 z" fill="#0a0000"/>
<ellipse cx="323.7" cy="873.6" rx="13.6" ry="9.6" fill="#0a0000"/>
<ellipse cx="323.7" cy="867.1" rx="13.6" ry="9.6" fill="#8a0300"/>
<ellipse cx="323.7" cy="866.8" rx="11.6" ry="7.9" fill="#f21a0a"/>
<path d="M318.2 867.1 c-3 -3.5 3 -5.5 5.5 -3 c2.5 -2.5 8.500 -.5 5.5 3 c3 3.5 -3 5.5 -5.5 3 c-2.5 2.5 -8.5 .5 -5.5 -3z" fill="none" stroke="#7a0000" stroke-width="2"/>
<path d="M343.3 843.5 a13.6 9.6 0 0 0 27.2 0 v6.5 a13.6 9.6 0 0 1 -27.2 0 z" fill="#0a0000"/>
<ellipse cx="356.9" cy="850" rx="13.6" ry="9.6" fill="#0a0000"/>
<ellipse cx="356.9" cy="843.5" rx="13.6" ry="9.6" fill="#8a0300"/>
<ellipse cx="356.9" cy="843.2" rx="11.6" ry="7.9" fill="#f21a0a"/>
<path d="M351.4 843.5 c-3 -3.5 3 -5.5 5.5 -3 c2.5 -2.5 8.500 -.5 5.5 3 c3 3.5 -3 5.5 -5.5 3 c-2.5 2.5 -8.5 .5 -5.5 -3z" fill="none" stroke="#7a0000" stroke-width="2"/>
<path d="M376.6 819.9 a13.6 9.6 0 0 0 27.2 0 v6.5 a13.6 9.6 0 0 1 -27.2 0 z" fill="#0a0000"/>
<ellipse cx="390.2" cy="826.4" rx="13.6" ry="9.6" fill="#0a0000"/>
<ellipse cx="390.2" cy="819.9" rx="13.6" ry="9.6" fill="#8a0300"/>
<ellipse cx="390.2" cy="819.6" rx="11.6" ry="7.9" fill="#f21a0a"/>
<path d="M384.7 819.9 c-3 -3.5 3 -5.5 5.5 -3 c2.5 -2.5 8.500 -.5 5.5 3 c3 3.5 -3 5.5 -5.5 3 c-2.5 2.5 -8.5 .5 -5.5 -3z" fill="none" stroke="#7a0000" stroke-width="2"/>
<path d="M409.9 796.3 a13.6 9.6 0 0 0 27.2 0 v6.5 a13.6 9.6 0 0 1 -27.2 0 z" fill="#0a0000"/>
<ellipse cx="423.5" cy="802.8" rx="13.6" ry="9.6" fill="#0a0000"/>
<ellipse cx="423.5" cy="796.3" rx="13.6" ry="9.6" fill="#8a0300"/>
<ellipse cx="423.5" cy="796" rx="11.6" ry="7.9" fill="#f21a0a"/>
<path d="M418 796.3 c-3 -3.5 3 -5.5 5.5 -3 c2.5 -2.5 8.500 -.5 5.5 3 c3 3.5 -3 5.5 -5.5 3 c-2.5 2.5 -8.5 .5 -5.5 -3z" fill="none" stroke="#7a0000" stroke-width="2"/>
<path d="M443.1 772.8 a13.6 9.6 0 0 0 27.2 0 v6.5 a13.6 9.6 0 0 1 -27.2 0 z" fill="#0a0000"/>
<ellipse cx="456.7" cy="779.3" rx="13.6" ry="9.6" fill="#0a0000"/>
<ellipse cx="456.7" cy="772.8" rx="13.6" ry="9.6" fill="#8a0300"/>
<ellipse cx="456.7" cy="772.5" rx="11.6" ry="7.9" fill="#f21a0a"/>
<path d="M451.2 772.8 c-3 -3.5 3 -5.5 5.5 -3 c2.5 -2.5 8.500 -.5 5.5 3 c3 3.5 -3 5.5 -5.5 3 c-2.5 2.5 -8.5 .5 -5.5 -3z" fill="none" stroke="#7a0000" stroke-width="2"/>
<path d="M476.4 749.2 a13.6 9.6 0 0 0 27.2 0 v6.5 a13.6 9.6 0 0 1 -27.2 0 z" fill="#0a0000"/>
<ellipse cx="490" cy="755.7" rx="13.6" ry="9.6" fill="#0a0000"/>
<ellipse cx="490" cy="749.2" rx="13.6" ry="9.6" fill="#8a0300"/>
<ellipse cx="490" cy="748.9" rx="11.6" ry="7.9" fill="#f21a0a"/>
<path d="M484.5 749.2 c-3 -3.5 3 -5.5 5.5 -3 c2.5 -2.5 8.500 -.5 5.5 3 c3 3.5 -3 5.5 -5.5 3 c-2.5 2.5 -8.5 .5 -5.5 -3z" fill="none" stroke="#7a0000" stroke-width="2"/>
<path d="M509.6 725.6 a13.6 9.6 0 0 0 27.2 0 v6.5 a13.6 9.6 0 0 1 -27.2 0 z" fill="#0a0000"/>
<ellipse cx="523.2" cy="732.1" rx="13.6" ry="9.6" fill="#0a0000"/>
<ellipse cx="523.2" cy="725.6" rx="13.6" ry="9.6" fill="#8a0300"/>
<ellipse cx="523.2" cy="725.3" rx="11.6" ry="7.9" fill="#f21a0a"/>
<path d="M517.7 725.6 c-3 -3.5 3 -5.5 5.5 -3 c2.5 -2.5 8.500 -.5 5.5 3 c3 3.5 -3 5.5 -5.5 3 c-2.5 2.5 -8.5 .5 -5.5 -3z" fill="none" stroke="#7a0000" stroke-width="2"/>
<path d="M542.9 702.1 a13.6 9.6 0 0 0 27.2 0 v6.5 a13.6 9.6 0 0 1 -27.2 0 z" fill="#0a0000"/>
<ellipse cx="556.5" cy="708.6" rx="13.6" ry="9.6" fill="#0a0000"/>
<ellipse cx="556.5" cy="702.1" rx="13.6" ry="9.6" fill="#8a0300"/>
<ellipse cx="556.5" cy="701.8" rx="11.6" ry="7.9" fill="#f21a0a"/>
<path d="M551 702.1 c-3 -3.5 3 -5.5 5.5 -3 c2.5 -2.5 8.500 -.5 5.5 3 c3 3.5 -3 5.5 -5.5 3 c-2.5 2.5 -8.5 .5 -5.5 -3z" fill="none" stroke="#7a0000" stroke-width="2"/>
<polygon points="849.2,447.8 855.8,452.6 855.8,486.3 849.2,481.6" fill="#f8f430" stroke="#f8f430" stroke-width="10.6" stroke-linejoin="round"/>
<polygon points="855.8,452.6 889.1,429 889.1,462.7 855.8,486.3" fill="#f8f430" stroke="#f8f430" stroke-width="10.6" stroke-linejoin="round"/>
<polygon points="849.2,447.8 882.4,424.2 889.1,429 855.8,452.6" fill="#f8f430" stroke="#f8f430" stroke-width="10.6" stroke-linejoin="round"/>
<polygon points="682.9,536 689.5,540.7 689.5,604.1 682.9,599.4" fill="#f8f430" stroke="#f8f430" stroke-width="10.6" stroke-linejoin="round"/>
<polygon points="689.5,540.7 855.8,422.8 855.8,486.3 689.5,604.1" fill="#f8f430" stroke="#f8f430" stroke-width="10.6" stroke-linejoin="round"/>
<polygon points="682.9,536 849.2,418.1 855.8,422.8 689.5,540.7" fill="#f8f430" stroke="#f8f430" stroke-width="10.6" stroke-linejoin="round"/>
<polygon points="855.8,472.8 889.1,496.5 889.1,510 855.8,486.3" fill="#f8f430" stroke="#f8f430" stroke-width="10.6" stroke-linejoin="round"/>
<polygon points="889.1,496.5 922.4,472.9 922.4,486.4 889.1,510" fill="#f8f430" stroke="#f8f430" stroke-width="10.6" stroke-linejoin="round"/>
<polygon points="855.8,472.8 889.1,449.2 922.4,472.9 889.1,496.5" fill="#f8f430" stroke="#f8f430" stroke-width="10.6" stroke-linejoin="round"/>
<ellipse cx="889.1" cy="466.4" rx="13.6" ry="9.6" fill="#f8f430" stroke="#f8f430" stroke-width="10.6"/>
<polygon points="822.6,496.4 855.8,520.1 855.8,533.6 822.6,509.9" fill="#f8f430" stroke="#f8f430" stroke-width="10.6" stroke-linejoin="round"/>
<polygon points="855.8,520.1 889.1,496.5 889.1,510 855.8,533.6" fill="#f8f430" stroke="#f8f430" stroke-width="10.6" stroke-linejoin="round"/>
<polygon points="822.6,496.4 855.8,472.8 889.1,496.5 855.8,520.1" fill="#f8f430" stroke="#f8f430" stroke-width="10.6" stroke-linejoin="round"/>
<ellipse cx="855.8" cy="489.9" rx="13.6" ry="9.6" fill="#f8f430" stroke="#f8f430" stroke-width="10.6"/>
<polygon points="789.3,519.9 822.6,543.6 822.6,557.1 789.3,533.4" fill="#f8f430" stroke="#f8f430" stroke-width="10.6" stroke-linejoin="round"/>
<polygon points="822.6,543.6 855.8,520.1 855.8,533.6 822.6,557.1" fill="#f8f430" stroke="#f8f430" stroke-width="10.6" stroke-linejoin="round"/>
<polygon points="789.3,519.9 822.6,496.4 855.8,520.1 822.6,543.6" fill="#f8f430" stroke="#f8f430" stroke-width="10.6" stroke-linejoin="round"/>
<ellipse cx="822.6" cy="513.5" rx="13.6" ry="9.6" fill="#f8f430" stroke="#f8f430" stroke-width="10.6"/>
<polygon points="722.8,567.1 756.1,590.8 756.1,591 722.8,567.3" fill="#f8f430" stroke="#f8f430" stroke-width="10.6" stroke-linejoin="round"/>
<polygon points="756.1,590.8 822.6,543.6 822.6,543.9 756.1,591" fill="#f8f430" stroke="#f8f430" stroke-width="10.6" stroke-linejoin="round"/>
<polygon points="722.8,567.1 789.3,519.9 822.6,543.6 756.1,590.8" fill="#f8f430" stroke="#f8f430" stroke-width="10.6" stroke-linejoin="round"/>
<ellipse cx="789.3" cy="537.1" rx="13.6" ry="9.6" fill="#f8f430" stroke="#f8f430" stroke-width="10.6"/>
<ellipse cx="756.1" cy="560.6" rx="13.6" ry="9.6" fill="#f8f430" stroke="#f8f430" stroke-width="10.6"/>
<polygon points="722.8,614.3 756.1,590.8 756.1,604.3 722.8,627.8" fill="#f8f430" stroke="#f8f430" stroke-width="10.6" stroke-linejoin="round"/>
<polygon points="689.5,590.6 722.8,567.1 756.1,590.8 722.8,614.3" fill="#f8f430" stroke="#f8f430" stroke-width="10.6" stroke-linejoin="round"/>
<ellipse cx="722.8" cy="584.2" rx="13.6" ry="9.6" fill="#f8f430" stroke="#f8f430" stroke-width="10.6"/>
<ellipse cx="860.8" cy="438.4" rx="4.2" ry="2.6" fill="#2a0000"/>
<polygon points="849.2,447.8 855.8,452.6 855.8,486.3 849.2,481.6" fill="#ea0a02" stroke="#5a0000" stroke-width="0.9" stroke-linejoin="round" />
<polygon points="855.8,452.6 889.1,429 889.1,462.7 855.8,486.3" fill="#e60204" stroke="#5a0000" stroke-width="0.9" stroke-linejoin="round" />
<polygon points="849.2,447.8 882.4,424.2 889.1,429 855.8,452.6" fill="#f30e03" stroke="#5a0000" stroke-width="0.9" stroke-linejoin="round" />
<ellipse cx="694.5" cy="526.5" rx="4.2" ry="2.6" fill="#2a0000"/>
<ellipse cx="727.8" cy="502.9" rx="4.2" ry="2.6" fill="#2a0000"/>
<ellipse cx="761" cy="479.4" rx="4.2" ry="2.6" fill="#2a0000"/>
<ellipse cx="794.3" cy="455.8" rx="4.2" ry="2.6" fill="#2a0000"/>
<ellipse cx="827.6" cy="432.2" rx="4.2" ry="2.6" fill="#2a0000"/>
<polygon points="682.9,536 689.5,540.7 689.5,604.1 682.9,599.4" fill="#ea0a02" stroke="#5a0000" stroke-width="0.9" stroke-linejoin="round" />
<polygon points="689.5,540.7 855.8,422.8 855.8,486.3 689.5,604.1" fill="#e60204" stroke="#5a0000" stroke-width="0.9" stroke-linejoin="round" />
<polygon points="682.9,536 849.2,418.1 855.8,422.8 689.5,540.7" fill="#f30e03" stroke="#5a0000" stroke-width="0.9" stroke-linejoin="round" />
<polyline points="756.1,493.6 756.1,557" fill="none" stroke="#5a0000" stroke-width="0.9" stroke-linejoin="round" stroke-linecap="round" />
<polyline points="756.1,493.6 749.4,488.8" fill="none" stroke="#5a0000" stroke-width="0.9" stroke-linejoin="round" stroke-linecap="round" />
<polyline points="822.6,446.4 822.6,509.9" fill="none" stroke="#5a0000" stroke-width="0.9" stroke-linejoin="round" stroke-linecap="round" />
<polyline points="822.6,446.4 815.9,441.7" fill="none" stroke="#5a0000" stroke-width="0.9" stroke-linejoin="round" stroke-linecap="round" />
<polygon points="855.8,472.8 889.1,496.5 889.1,510 855.8,486.3" fill="#ea0a02" stroke="#5a0000" stroke-width="0.9" stroke-linejoin="round" />
<polygon points="889.1,496.5 922.4,472.9 922.4,486.4 889.1,510" fill="#e60204" stroke="#5a0000" stroke-width="0.9" stroke-linejoin="round" />
<polygon points="855.8,472.8 889.1,449.2 922.4,472.9 889.1,496.5" fill="#f30e03" stroke="#5a0000" stroke-width="0.9" stroke-linejoin="round" />
<path d="M875.5 466.4 a13.6 9.6 0 0 0 27.2 0 v6.5 a13.6 9.6 0 0 1 -27.2 0 z" fill="#0a0000"/>
<ellipse cx="889.1" cy="472.9" rx="13.6" ry="9.6" fill="#0a0000"/>
<ellipse cx="889.1" cy="466.4" rx="13.6" ry="9.6" fill="#8a0300"/>
<ellipse cx="889.1" cy="466.1" rx="11.6" ry="7.9" fill="#f21a0a"/>
<path d="M883.6 466.4 c-3 -3.5 3 -5.5 5.5 -3 c2.5 -2.5 8.500 -.5 5.5 3 c3 3.5 -3 5.5 -5.5 3 c-2.5 2.5 -8.5 .5 -5.5 -3z" fill="none" stroke="#7a0000" stroke-width="2"/>
<polygon points="822.6,496.4 855.8,520.1 855.8,533.6 822.6,509.9" fill="#ea0a02" stroke="#5a0000" stroke-width="0.9" stroke-linejoin="round" />
<polygon points="855.8,520.1 889.1,496.5 889.1,510 855.8,533.6" fill="#e60204" stroke="#5a0000" stroke-width="0.9" stroke-linejoin="round" />
<polygon points="822.6,496.4 855.8,472.8 889.1,496.5 855.8,520.1" fill="#f30e03" stroke="#5a0000" stroke-width="0.9" stroke-linejoin="round" />
<path d="M842.2 489.9 a13.6 9.6 0 0 0 27.2 0 v6.5 a13.6 9.6 0 0 1 -27.2 0 z" fill="#0a0000"/>
<ellipse cx="855.8" cy="496.4" rx="13.6" ry="9.6" fill="#0a0000"/>
<ellipse cx="855.8" cy="489.9" rx="13.6" ry="9.6" fill="#8a0300"/>
<ellipse cx="855.8" cy="489.6" rx="11.6" ry="7.9" fill="#f21a0a"/>
<path d="M850.3 489.9 c-3 -3.5 3 -5.5 5.5 -3 c2.5 -2.5 8.500 -.5 5.5 3 c3 3.5 -3 5.5 -5.5 3 c-2.5 2.5 -8.5 .5 -5.5 -3z" fill="none" stroke="#7a0000" stroke-width="2"/>
<polygon points="789.3,519.9 822.6,543.6 822.6,557.1 789.3,533.4" fill="#ea0a02" stroke="#5a0000" stroke-width="0.9" stroke-linejoin="round" />
<polygon points="822.6,543.6 855.8,520.1 855.8,533.6 822.6,557.1" fill="#e60204" stroke="#5a0000" stroke-width="0.9" stroke-linejoin="round" />
<polygon points="789.3,519.9 822.6,496.4 855.8,520.1 822.6,543.6" fill="#f30e03" stroke="#5a0000" stroke-width="0.9" stroke-linejoin="round" />
<path d="M809 513.5 a13.6 9.6 0 0 0 27.2 0 v6.5 a13.6 9.6 0 0 1 -27.2 0 z" fill="#0a0000"/>
<ellipse cx="822.6" cy="520" rx="13.6" ry="9.6" fill="#0a0000"/>
<ellipse cx="822.6" cy="513.5" rx="13.6" ry="9.6" fill="#8a0300"/>
<ellipse cx="822.6" cy="513.2" rx="11.6" ry="7.9" fill="#f21a0a"/>
<path d="M817.1 513.5 c-3 -3.5 3 -5.5 5.5 -3 c2.5 -2.5 8.500 -.5 5.5 3 c3 3.5 -3 5.5 -5.5 3 c-2.5 2.5 -8.5 .5 -5.5 -3z" fill="none" stroke="#7a0000" stroke-width="2"/>
<polygon points="722.8,567.1 756.1,590.8 756.1,591 722.8,567.3" fill="#ea0a02" stroke="#5a0000" stroke-width="0.9" stroke-linejoin="round" />
<polygon points="756.1,590.8 822.6,543.6 822.6,543.9 756.1,591" fill="#e60204" stroke="#5a0000" stroke-width="0.9" stroke-linejoin="round" />
<polygon points="722.8,567.1 789.3,519.9 822.6,543.6 756.1,590.8" fill="#f30e03" stroke="#5a0000" stroke-width="0.9" stroke-linejoin="round" />
<path d="M775.7 537.1 a13.6 9.6 0 0 0 27.2 0 v6.5 a13.6 9.6 0 0 1 -27.2 0 z" fill="#0a0000"/>
<ellipse cx="789.3" cy="543.6" rx="13.6" ry="9.6" fill="#0a0000"/>
<ellipse cx="789.3" cy="537.1" rx="13.6" ry="9.6" fill="#8a0300"/>
<ellipse cx="789.3" cy="536.8" rx="11.6" ry="7.9" fill="#f21a0a"/>
<path d="M783.8 537.1 c-3 -3.5 3 -5.5 5.5 -3 c2.5 -2.5 8.500 -.5 5.5 3 c3 3.5 -3 5.5 -5.5 3 c-2.5 2.5 -8.5 .5 -5.5 -3z" fill="none" stroke="#7a0000" stroke-width="2"/>
<path d="M742.5 560.6 a13.6 9.6 0 0 0 27.2 0 v6.5 a13.6 9.6 0 0 1 -27.2 0 z" fill="#0a0000"/>
<ellipse cx="756.1" cy="567.1" rx="13.6" ry="9.6" fill="#0a0000"/>
<ellipse cx="756.1" cy="560.6" rx="13.6" ry="9.6" fill="#8a0300"/>
<ellipse cx="756.1" cy="560.3" rx="11.6" ry="7.9" fill="#f21a0a"/>
<path d="M750.6 560.6 c-3 -3.5 3 -5.5 5.5 -3 c2.5 -2.5 8.500 -.5 5.5 3 c3 3.5 -3 5.5 -5.5 3 c-2.5 2.5 -8.5 .5 -5.5 -3z" fill="none" stroke="#7a0000" stroke-width="2"/>
<polygon points="722.8,614.3 756.1,590.8 756.1,604.3 722.8,627.8" fill="#e60204" stroke="#5a0000" stroke-width="0.9" stroke-linejoin="round" />
<polygon points="689.5,590.6 722.8,567.1 756.1,590.8 722.8,614.3" fill="#f30e03" stroke="#5a0000" stroke-width="0.9" stroke-linejoin="round" />
<path d="M709.2 584.2 a13.6 9.6 0 0 0 27.2 0 v6.5 a13.6 9.6 0 0 1 -27.2 0 z" fill="#0a0000"/>
<ellipse cx="722.8" cy="590.7" rx="13.6" ry="9.6" fill="#0a0000"/>
<ellipse cx="722.8" cy="584.2" rx="13.6" ry="9.6" fill="#8a0300"/>
<ellipse cx="722.8" cy="583.9" rx="11.6" ry="7.9" fill="#f21a0a"/>
<path d="M717.3 584.2 c-3 -3.5 3 -5.5 5.5 -3 c2.5 -2.5 8.500 -.5 5.5 3 c3 3.5 -3 5.5 -5.5 3 c-2.5 2.5 -8.5 .5 -5.5 -3z" fill="none" stroke="#7a0000" stroke-width="2"/>
<path d="M675.9 607.8 a13.6 9.6 0 0 0 27.2 0 v6.5 a13.6 9.6 0 0 1 -27.2 0 z" fill="#0a0000"/>
<ellipse cx="689.5" cy="614.3" rx="13.6" ry="9.6" fill="#0a0000"/>
<ellipse cx="689.5" cy="607.8" rx="13.6" ry="9.6" fill="#0a0a0a"/>
<ellipse cx="689.5" cy="607.5" rx="11.6" ry="7.9" fill="#e4e6e9"/>
<path d="M684 607.8 c-3 -3.5 3 -5.5 5.5 -3 c2.5 -2.5 8.500 -.5 5.5 3 c3 3.5 -3 5.5 -5.5 3 c-2.5 2.5 -8.5 .5 -5.5 -3z" fill="none" stroke="#34373c" stroke-width="2"/>
<path d="M875.5 540.6 a13.6 9.6 0 0 0 27.2 0 v6.5 a13.6 9.6 0 0 1 -27.2 0 z" fill="#0a0000"/>
<ellipse cx="889.1" cy="547.1" rx="13.6" ry="9.6" fill="#0a0000"/>
<ellipse cx="889.1" cy="540.6" rx="13.6" ry="9.6" fill="#0a0a0a"/>
<ellipse cx="889.1" cy="540.3" rx="11.6" ry="7.9" fill="#e4e6e9"/>
<path d="M883.6 540.6 c-3 -3.5 3 -5.5 5.5 -3 c2.5 -2.5 8.500 -.5 5.5 3 c3 3.5 -3 5.5 -5.5 3 c-2.5 2.5 -8.5 .5 -5.5 -3z" fill="none" stroke="#34373c" stroke-width="2"/>
<path d="M842.2 550.7 a13.6 9.6 0 0 0 27.2 0 v6.5 a13.6 9.6 0 0 1 -27.2 0 z" fill="#0a0000"/>
<ellipse cx="855.8" cy="557.2" rx="13.6" ry="9.6" fill="#0a0000"/>
<ellipse cx="855.8" cy="550.7" rx="13.6" ry="9.6" fill="#0a0a0a"/>
<ellipse cx="855.8" cy="550.4" rx="11.6" ry="7.9" fill="#e4e6e9"/>
<path d="M850.3 550.7 c-3 -3.5 3 -5.5 5.5 -3 c2.5 -2.5 8.500 -.5 5.5 3 c3 3.5 -3 5.5 -5.5 3 c-2.5 2.5 -8.5 .5 -5.5 -3z" fill="none" stroke="#34373c" stroke-width="2"/>
<path d="M809 560.8 a13.6 9.6 0 0 0 27.2 0 v6.5 a13.6 9.6 0 0 1 -27.2 0 z" fill="#0a0000"/>
<ellipse cx="822.6" cy="567.3" rx="13.6" ry="9.6" fill="#0a0000"/>
<ellipse cx="822.6" cy="560.8" rx="13.6" ry="9.6" fill="#0a0a0a"/>
<ellipse cx="822.6" cy="560.5" rx="11.6" ry="7.9" fill="#e4e6e9"/>
<path d="M817.1 560.8 c-3 -3.5 3 -5.5 5.5 -3 c2.5 -2.5 8.500 -.5 5.5 3 c3 3.5 -3 5.5 -5.5 3 c-2.5 2.5 -8.5 .5 -5.5 -3z" fill="none" stroke="#34373c" stroke-width="2"/>
<path d="M775.7 584.3 a13.6 9.6 0 0 0 27.2 0 v6.5 a13.6 9.6 0 0 1 -27.2 0 z" fill="#0a0000"/>
<ellipse cx="789.3" cy="590.8" rx="13.6" ry="9.6" fill="#0a0000"/>
<ellipse cx="789.3" cy="584.3" rx="13.6" ry="9.6" fill="#0a0a0a"/>
<ellipse cx="789.3" cy="584" rx="11.6" ry="7.9" fill="#e4e6e9"/>
<path d="M783.8 584.3 c-3 -3.5 3 -5.5 5.5 -3 c2.5 -2.5 8.500 -.5 5.5 3 c3 3.5 -3 5.5 -5.5 3 c-2.5 2.5 -8.5 .5 -5.5 -3z" fill="none" stroke="#34373c" stroke-width="2"/>
<path d="M742.5 621.4 a13.6 9.6 0 0 0 27.2 0 v6.5 a13.6 9.6 0 0 1 -27.2 0 z" fill="#0a0000"/>
<ellipse cx="756.1" cy="627.9" rx="13.6" ry="9.6" fill="#0a0000"/>
<ellipse cx="756.1" cy="621.4" rx="13.6" ry="9.6" fill="#0a0a0a"/>
<ellipse cx="756.1" cy="621.1" rx="11.6" ry="7.9" fill="#e4e6e9"/>
<path d="M750.6 621.4 c-3 -3.5 3 -5.5 5.5 -3 c2.5 -2.5 8.500 -.5 5.5 3 c3 3.5 -3 5.5 -5.5 3 c-2.5 2.5 -8.5 .5 -5.5 -3z" fill="none" stroke="#34373c" stroke-width="2"/>
<polygon points="456.7,1086.5 490,1110.2 490,1123.7 456.7,1100" fill="#f8f430" stroke="#f8f430" stroke-width="10.6" stroke-linejoin="round"/>
<polygon points="490,1110.2 822.6,874.5 822.6,888 490,1123.7" fill="#f8f430" stroke="#f8f430" stroke-width="10.6" stroke-linejoin="round"/>
<polygon points="456.7,1086.5 789.3,850.8 822.6,874.5 490,1110.2" fill="#f8f430" stroke="#f8f430" stroke-width="10.6" stroke-linejoin="round"/>
<ellipse cx="789.3" cy="868" rx="13.6" ry="9.6" fill="#f8f430" stroke="#f8f430" stroke-width="10.6"/>
<ellipse cx="756.1" cy="891.5" rx="13.6" ry="9.6" fill="#f8f430" stroke="#f8f430" stroke-width="10.6"/>
<ellipse cx="722.8" cy="915.1" rx="13.6" ry="9.6" fill="#f8f430" stroke="#f8f430" stroke-width="10.6"/>
<ellipse cx="689.5" cy="938.7" rx="13.6" ry="9.6" fill="#f8f430" stroke="#f8f430" stroke-width="10.6"/>
<ellipse cx="656.3" cy="962.2" rx="13.6" ry="9.6" fill="#f8f430" stroke="#f8f430" stroke-width="10.6"/>
<ellipse cx="623" cy="985.8" rx="13.6" ry="9.6" fill="#f8f430" stroke="#f8f430" stroke-width="10.6"/>
<ellipse cx="589.8" cy="1009.4" rx="13.6" ry="9.6" fill="#f8f430" stroke="#f8f430" stroke-width="10.6"/>
<ellipse cx="556.5" cy="1033" rx="13.6" ry="9.6" fill="#f8f430" stroke="#f8f430" stroke-width="10.6"/>
<ellipse cx="523.2" cy="1056.5" rx="13.6" ry="9.6" fill="#f8f430" stroke="#f8f430" stroke-width="10.6"/>
<ellipse cx="490" cy="1080.1" rx="13.6" ry="9.6" fill="#f8f430" stroke="#f8f430" stroke-width="10.6"/>
<polygon points="490,1056.2 496.6,1061 496.6,1128.5 490,1123.7" fill="#f8f430" stroke="#f8f430" stroke-width="10.6" stroke-linejoin="round"/>
<polygon points="490,1056.2 822.6,820.5 829.2,825.3 496.6,1061" fill="#f8f430" stroke="#f8f430" stroke-width="10.6" stroke-linejoin="round"/>
<polygon points="496.6,1061 829.2,825.3 829.2,892.8 496.6,1128.5" fill="#f8f430" stroke="#f8f430" stroke-width="10.6" stroke-linejoin="round"/>
<polygon points="456.7,1086.5 490,1110.2 490,1123.7 456.7,1100" fill="#ea0a02" stroke="#5a0000" stroke-width="0.9" stroke-linejoin="round" />
<polygon points="490,1110.2 822.6,874.5 822.6,888 490,1123.7" fill="#e60204" stroke="#5a0000" stroke-width="0.9" stroke-linejoin="round" />
<polygon points="456.7,1086.5 789.3,850.8 822.6,874.5 490,1110.2" fill="#f30e03" stroke="#5a0000" stroke-width="0.9" stroke-linejoin="round" />
<path d="M775.7 868 a13.6 9.6 0 0 0 27.2 0 v6.5 a13.6 9.6 0 0 1 -27.2 0 z" fill="#0a0000"/>
<ellipse cx="789.3" cy="874.5" rx="13.6" ry="9.6" fill="#0a0000"/>
<ellipse cx="789.3" cy="868" rx="13.6" ry="9.6" fill="#8a0300"/>
<ellipse cx="789.3" cy="867.7" rx="11.6" ry="7.9" fill="#f21a0a"/>
<path d="M783.8 868 c-3 -3.5 3 -5.5 5.5 -3 c2.5 -2.5 8.500 -.5 5.5 3 c3 3.5 -3 5.5 -5.5 3 c-2.5 2.5 -8.5 .5 -5.5 -3z" fill="none" stroke="#7a0000" stroke-width="2"/>
<path d="M742.5 891.5 a13.6 9.6 0 0 0 27.2 0 v6.5 a13.6 9.6 0 0 1 -27.2 0 z" fill="#0a0000"/>
<ellipse cx="756.1" cy="898" rx="13.6" ry="9.6" fill="#0a0000"/>
<ellipse cx="756.1" cy="891.5" rx="13.6" ry="9.6" fill="#8a0300"/>
<ellipse cx="756.1" cy="891.2" rx="11.6" ry="7.9" fill="#f21a0a"/>
<path d="M750.6 891.5 c-3 -3.5 3 -5.5 5.5 -3 c2.5 -2.5 8.500 -.5 5.5 3 c3 3.5 -3 5.5 -5.5 3 c-2.5 2.5 -8.5 .5 -5.5 -3z" fill="none" stroke="#7a0000" stroke-width="2"/>
<path d="M709.2 915.1 a13.6 9.6 0 0 0 27.2 0 v6.5 a13.6 9.6 0 0 1 -27.2 0 z" fill="#0a0000"/>
<ellipse cx="722.8" cy="921.6" rx="13.6" ry="9.6" fill="#0a0000"/>
<ellipse cx="722.8" cy="915.1" rx="13.6" ry="9.6" fill="#8a0300"/>
<ellipse cx="722.8" cy="914.8" rx="11.6" ry="7.9" fill="#f21a0a"/>
<path d="M717.3 915.1 c-3 -3.5 3 -5.5 5.5 -3 c2.5 -2.5 8.500 -.5 5.5 3 c3 3.5 -3 5.5 -5.5 3 c-2.5 2.5 -8.5 .5 -5.5 -3z" fill="none" stroke="#7a0000" stroke-width="2"/>
<path d="M675.9 938.7 a13.6 9.6 0 0 0 27.2 0 v6.5 a13.6 9.6 0 0 1 -27.2 0 z" fill="#0a0000"/>
<ellipse cx="689.5" cy="945.2" rx="13.6" ry="9.6" fill="#0a0000"/>
<ellipse cx="689.5" cy="938.7" rx="13.6" ry="9.6" fill="#8a0300"/>
<ellipse cx="689.5" cy="938.4" rx="11.6" ry="7.9" fill="#f21a0a"/>
<path d="M684 938.7 c-3 -3.5 3 -5.5 5.5 -3 c2.5 -2.5 8.500 -.5 5.5 3 c3 3.5 -3 5.5 -5.5 3 c-2.5 2.5 -8.5 .5 -5.5 -3z" fill="none" stroke="#7a0000" stroke-width="2"/>
<path d="M642.7 962.2 a13.6 9.6 0 0 0 27.2 0 v6.5 a13.6 9.6 0 0 1 -27.2 0 z" fill="#0a0000"/>
<ellipse cx="656.3" cy="968.7" rx="13.6" ry="9.6" fill="#0a0000"/>
<ellipse cx="656.3" cy="962.2" rx="13.6" ry="9.6" fill="#8a0300"/>
<ellipse cx="656.3" cy="961.9" rx="11.6" ry="7.9" fill="#f21a0a"/>
<path d="M650.8 962.2 c-3 -3.5 3 -5.5 5.5 -3 c2.5 -2.5 8.500 -.5 5.5 3 c3 3.5 -3 5.5 -5.5 3 c-2.5 2.5 -8.5 .5 -5.5 -3z" fill="none" stroke="#7a0000" stroke-width="2"/>
<path d="M609.4 985.8 a13.6 9.6 0 0 0 27.2 0 v6.5 a13.6 9.6 0 0 1 -27.2 0 z" fill="#0a0000"/>
<ellipse cx="623" cy="992.3" rx="13.6" ry="9.6" fill="#0a0000"/>
<ellipse cx="623" cy="985.8" rx="13.6" ry="9.6" fill="#8a0300"/>
<ellipse cx="623" cy="985.5" rx="11.6" ry="7.9" fill="#f21a0a"/>
<path d="M617.5 985.8 c-3 -3.5 3 -5.5 5.5 -3 c2.5 -2.5 8.500 -.5 5.5 3 c3 3.5 -3 5.5 -5.5 3 c-2.5 2.5 -8.5 .5 -5.5 -3z" fill="none" stroke="#7a0000" stroke-width="2"/>
<path d="M576.2 1009.4 a13.6 9.6 0 0 0 27.2 0 v6.5 a13.6 9.6 0 0 1 -27.2 0 z" fill="#0a0000"/>
<ellipse cx="589.8" cy="1015.9" rx="13.6" ry="9.6" fill="#0a0000"/>
<ellipse cx="589.8" cy="1009.4" rx="13.6" ry="9.6" fill="#8a0300"/>
<ellipse cx="589.8" cy="1009.1" rx="11.6" ry="7.9" fill="#f21a0a"/>
<path d="M584.3 1009.4 c-3 -3.5 3 -5.5 5.5 -3 c2.5 -2.5 8.500 -.5 5.5 3 c3 3.5 -3 5.5 -5.5 3 c-2.5 2.5 -8.5 .5 -5.5 -3z" fill="none" stroke="#7a0000" stroke-width="2"/>
<path d="M542.9 1033 a13.6 9.6 0 0 0 27.2 0 v6.5 a13.6 9.6 0 0 1 -27.2 0 z" fill="#0a0000"/>
<ellipse cx="556.5" cy="1039.5" rx="13.6" ry="9.6" fill="#0a0000"/>
<ellipse cx="556.5" cy="1033" rx="13.6" ry="9.6" fill="#8a0300"/>
<ellipse cx="556.5" cy="1032.7" rx="11.6" ry="7.9" fill="#f21a0a"/>
<path d="M551 1033 c-3 -3.5 3 -5.5 5.5 -3 c2.5 -2.5 8.500 -.5 5.5 3 c3 3.5 -3 5.5 -5.5 3 c-2.5 2.5 -8.5 .5 -5.5 -3z" fill="none" stroke="#7a0000" stroke-width="2"/>
<path d="M509.6 1056.5 a13.6 9.6 0 0 0 27.2 0 v6.5 a13.6 9.6 0 0 1 -27.2 0 z" fill="#0a0000"/>
<ellipse cx="523.2" cy="1063" rx="13.6" ry="9.6" fill="#0a0000"/>
<ellipse cx="523.2" cy="1056.5" rx="13.6" ry="9.6" fill="#8a0300"/>
<ellipse cx="523.2" cy="1056.2" rx="11.6" ry="7.9" fill="#f21a0a"/>
<path d="M517.7 1056.5 c-3 -3.5 3 -5.5 5.5 -3 c2.5 -2.5 8.500 -.5 5.5 3 c3 3.5 -3 5.5 -5.5 3 c-2.5 2.5 -8.5 .5 -5.5 -3z" fill="none" stroke="#7a0000" stroke-width="2"/>
<path d="M476.4 1080.1 a13.6 9.6 0 0 0 27.2 0 v6.5 a13.6 9.6 0 0 1 -27.2 0 z" fill="#0a0000"/>
<ellipse cx="490" cy="1086.6" rx="13.6" ry="9.6" fill="#0a0000"/>
<ellipse cx="490" cy="1080.1" rx="13.6" ry="9.6" fill="#8a0300"/>
<ellipse cx="490" cy="1079.8" rx="11.6" ry="7.9" fill="#f21a0a"/>
<path d="M484.5 1080.1 c-3 -3.5 3 -5.5 5.5 -3 c2.5 -2.5 8.500 -.5 5.5 3 c3 3.5 -3 5.5 -5.5 3 c-2.5 2.5 -8.5 .5 -5.5 -3z" fill="none" stroke="#7a0000" stroke-width="2"/>
<polygon points="490,1056.2 496.6,1061 496.6,1128.5 490,1123.7" fill="#ea0a02" stroke="#5a0000" stroke-width="0.9" stroke-linejoin="round" />
<polygon points="490,1056.2 822.6,820.5 829.2,825.3 496.6,1061" fill="#f30e03" stroke="#5a0000" stroke-width="0.9" stroke-linejoin="round" />
<polygon points="496.6,1061 829.2,825.3 829.2,892.8 496.6,1128.5" fill="#e60204" stroke="#5a0000" stroke-width="0.9" stroke-linejoin="round" />
<polyline points="563.2,1013.8 563.2,1081.3" fill="none" stroke="#5a0000" stroke-width="0.9" stroke-linejoin="round" stroke-linecap="round" />
<polyline points="629.7,966.7 629.7,1034.2" fill="none" stroke="#5a0000" stroke-width="0.9" stroke-linejoin="round" stroke-linecap="round" />
<polyline points="696.2,919.5 696.2,987" fill="none" stroke="#5a0000" stroke-width="0.9" stroke-linejoin="round" stroke-linecap="round" />
<polyline points="762.7,872.4 762.7,939.9" fill="none" stroke="#5a0000" stroke-width="0.9" stroke-linejoin="round" stroke-linecap="round" />
<circle r="1" transform="matrix(9.6 -6.8 0 -9.4 812.6 853.9)" fill="#0a0000" stroke="none" stroke-width="0" vector-effect="non-scaling-stroke"/>
<circle r="1" transform="matrix(9.6 -6.8 0 -9.4 815.4 855.9)" fill="#0a0000" stroke="none" stroke-width="0" vector-effect="non-scaling-stroke"/>
<circle r="1" transform="matrix(9.6 -6.8 0 -9.4 818.3 858)" fill="#0a0000" stroke="none" stroke-width="0" vector-effect="non-scaling-stroke"/>
<circle r="1" transform="matrix(6.9 -4.9 0 -6.8 818.3 858)" fill="#0a0000" stroke="#a81010" stroke-width="2.3" vector-effect="non-scaling-stroke"/>
<circle r="1" transform="matrix(9.6 -6.8 0 -9.4 812.6 887.7)" fill="#0a0000" stroke="none" stroke-width="0" vector-effect="non-scaling-stroke"/>
<circle r="1" transform="matrix(9.6 -6.8 0 -9.4 815.4 889.7)" fill="#0a0000" stroke="none" stroke-width="0" vector-effect="non-scaling-stroke"/>
<circle r="1" transform="matrix(9.6 -6.8 0 -9.4 818.3 891.7)" fill="#0a0000" stroke="none" stroke-width="0" vector-effect="non-scaling-stroke"/>
<circle r="1" transform="matrix(6.9 -4.9 0 -6.8 818.3 891.7)" fill="#0a0000" stroke="#a81010" stroke-width="2.3" vector-effect="non-scaling-stroke"/>
<circle r="1" transform="matrix(9.6 -6.8 0 -9.4 779.3 877.5)" fill="#0a0000" stroke="none" stroke-width="0" vector-effect="non-scaling-stroke"/>
<circle r="1" transform="matrix(9.6 -6.8 0 -9.4 782.2 879.5)" fill="#0a0000" stroke="none" stroke-width="0" vector-effect="non-scaling-stroke"/>
<circle r="1" transform="matrix(9.6 -6.8 0 -9.4 785 881.5)" fill="#0a0000" stroke="none" stroke-width="0" vector-effect="non-scaling-stroke"/>
<circle r="1" transform="matrix(6.9 -4.9 0 -6.8 785 881.5)" fill="#0a0000" stroke="#a81010" stroke-width="2.3" vector-effect="non-scaling-stroke"/>
<circle r="1" transform="matrix(9.6 -6.8 0 -9.4 779.3 911.2)" fill="#0a0000" stroke="none" stroke-width="0" vector-effect="non-scaling-stroke"/>
<circle r="1" transform="matrix(9.6 -6.8 0 -9.4 782.2 913.3)" fill="#0a0000" stroke="none" stroke-width="0" vector-effect="non-scaling-stroke"/>
<circle r="1" transform="matrix(9.6 -6.8 0 -9.4 785 915.3)" fill="#0a0000" stroke="none" stroke-width="0" vector-effect="non-scaling-stroke"/>
<circle r="1" transform="matrix(6.9 -4.9 0 -6.8 785 915.3)" fill="#0a0000" stroke="#a81010" stroke-width="2.3" vector-effect="non-scaling-stroke"/>
<circle r="1" transform="matrix(9.6 -6.8 0 -9.4 746.1 901.1)" fill="#0a0000" stroke="none" stroke-width="0" vector-effect="non-scaling-stroke"/>
<circle r="1" transform="matrix(9.6 -6.8 0 -9.4 748.9 903.1)" fill="#0a0000" stroke="none" stroke-width="0" vector-effect="non-scaling-stroke"/>
<circle r="1" transform="matrix(9.6 -6.8 0 -9.4 751.7 905.1)" fill="#0a0000" stroke="none" stroke-width="0" vector-effect="non-scaling-stroke"/>
<circle r="1" transform="matrix(6.9 -4.9 0 -6.8 751.7 905.1)" fill="#0a0000" stroke="#a81010" stroke-width="2.3" vector-effect="non-scaling-stroke"/>
<circle r="1" transform="matrix(9.6 -6.8 0 -9.4 746.1 934.8)" fill="#0a0000" stroke="none" stroke-width="0" vector-effect="non-scaling-stroke"/>
<circle r="1" transform="matrix(9.6 -6.8 0 -9.4 748.9 936.8)" fill="#0a0000" stroke="none" stroke-width="0" vector-effect="non-scaling-stroke"/>
<circle r="1" transform="matrix(9.6 -6.8 0 -9.4 751.7 938.8)" fill="#0a0000" stroke="none" stroke-width="0" vector-effect="non-scaling-stroke"/>
<circle r="1" transform="matrix(6.9 -4.9 0 -6.8 751.7 938.8)" fill="#0a0000" stroke="#a81010" stroke-width="2.3" vector-effect="non-scaling-stroke"/>
<circle r="1" transform="matrix(9.6 -6.8 0 -9.4 712.8 924.6)" fill="#0a0000" stroke="none" stroke-width="0" vector-effect="non-scaling-stroke"/>
<circle r="1" transform="matrix(9.6 -6.8 0 -9.4 715.6 926.7)" fill="#0a0000" stroke="none" stroke-width="0" vector-effect="non-scaling-stroke"/>
<circle r="1" transform="matrix(9.6 -6.8 0 -9.4 718.5 928.7)" fill="#0a0000" stroke="none" stroke-width="0" vector-effect="non-scaling-stroke"/>
<circle r="1" transform="matrix(6.9 -4.9 0 -6.8 718.5 928.7)" fill="#0a0000" stroke="#a81010" stroke-width="2.3" vector-effect="non-scaling-stroke"/>
<circle r="1" transform="matrix(9.6 -6.8 0 -9.4 712.8 958.4)" fill="#0a0000" stroke="none" stroke-width="0" vector-effect="non-scaling-stroke"/>
<circle r="1" transform="matrix(9.6 -6.8 0 -9.4 715.6 960.4)" fill="#0a0000" stroke="none" stroke-width="0" vector-effect="non-scaling-stroke"/>
<circle r="1" transform="matrix(9.6 -6.8 0 -9.4 718.5 962.4)" fill="#0a0000" stroke="none" stroke-width="0" vector-effect="non-scaling-stroke"/>
<circle r="1" transform="matrix(6.9 -4.9 0 -6.8 718.5 962.4)" fill="#0a0000" stroke="#a81010" stroke-width="2.3" vector-effect="non-scaling-stroke"/>
<circle r="1" transform="matrix(9.6 -6.8 0 -9.4 679.6 948.2)" fill="#0a0000" stroke="none" stroke-width="0" vector-effect="non-scaling-stroke"/>
<circle r="1" transform="matrix(9.6 -6.8 0 -9.4 682.4 950.2)" fill="#0a0000" stroke="none" stroke-width="0" vector-effect="non-scaling-stroke"/>
<circle r="1" transform="matrix(9.6 -6.8 0 -9.4 685.2 952.2)" fill="#0a0000" stroke="none" stroke-width="0" vector-effect="non-scaling-stroke"/>
<circle r="1" transform="matrix(6.9 -4.9 0 -6.8 685.2 952.2)" fill="#0a0000" stroke="#a81010" stroke-width="2.3" vector-effect="non-scaling-stroke"/>
<circle r="1" transform="matrix(9.6 -6.8 0 -9.4 679.6 982)" fill="#0a0000" stroke="none" stroke-width="0" vector-effect="non-scaling-stroke"/>
<circle r="1" transform="matrix(9.6 -6.8 0 -9.4 682.4 984)" fill="#0a0000" stroke="none" stroke-width="0" vector-effect="non-scaling-stroke"/>
<circle r="1" transform="matrix(9.6 -6.8 0 -9.4 685.2 986)" fill="#0a0000" stroke="none" stroke-width="0" vector-effect="non-scaling-stroke"/>
<circle r="1" transform="matrix(6.9 -4.9 0 -6.8 685.2 986)" fill="#0a0000" stroke="#a81010" stroke-width="2.3" vector-effect="non-scaling-stroke"/>
<circle r="1" transform="matrix(9.6 -6.8 0 -9.4 646.3 971.8)" fill="#0a0000" stroke="none" stroke-width="0" vector-effect="non-scaling-stroke"/>
<circle r="1" transform="matrix(9.6 -6.8 0 -9.4 649.1 973.8)" fill="#0a0000" stroke="none" stroke-width="0" vector-effect="non-scaling-stroke"/>
<circle r="1" transform="matrix(9.6 -6.8 0 -9.4 652 975.8)" fill="#0a0000" stroke="none" stroke-width="0" vector-effect="non-scaling-stroke"/>
<circle r="1" transform="matrix(6.9 -4.9 0 -6.8 652 975.8)" fill="#0a0000" stroke="#a81010" stroke-width="2.3" vector-effect="non-scaling-stroke"/>
<circle r="1" transform="matrix(9.6 -6.8 0 -9.4 646.3 1005.5)" fill="#0a0000" stroke="none" stroke-width="0" vector-effect="non-scaling-stroke"/>
<circle r="1" transform="matrix(9.6 -6.8 0 -9.4 649.1 1007.5)" fill="#0a0000" stroke="none" stroke-width="0" vector-effect="non-scaling-stroke"/>
<circle r="1" transform="matrix(9.6 -6.8 0 -9.4 652 1009.6)" fill="#0a0000" stroke="none" stroke-width="0" vector-effect="non-scaling-stroke"/>
<circle r="1" transform="matrix(6.9 -4.9 0 -6.8 652 1009.6)" fill="#0a0000" stroke="#a81010" stroke-width="2.3" vector-effect="non-scaling-stroke"/>
<circle r="1" transform="matrix(9.6 -6.8 0 -9.4 613 995.3)" fill="#0a0000" stroke="none" stroke-width="0" vector-effect="non-scaling-stroke"/>
<circle r="1" transform="matrix(9.6 -6.8 0 -9.4 615.9 997.4)" fill="#0a0000" stroke="none" stroke-width="0" vector-effect="non-scaling-stroke"/>
<circle r="1" transform="matrix(9.6 -6.8 0 -9.4 618.7 999.4)" fill="#0a0000" stroke="none" stroke-width="0" vector-effect="non-scaling-stroke"/>
<circle r="1" transform="matrix(6.9 -4.9 0 -6.8 618.7 999.4)" fill="#0a0000" stroke="#a81010" stroke-width="2.3" vector-effect="non-scaling-stroke"/>
<circle r="1" transform="matrix(9.6 -6.8 0 -9.4 613 1029.1)" fill="#0a0000" stroke="none" stroke-width="0" vector-effect="non-scaling-stroke"/>
<circle r="1" transform="matrix(9.6 -6.8 0 -9.4 615.9 1031.1)" fill="#0a0000" stroke="none" stroke-width="0" vector-effect="non-scaling-stroke"/>
<circle r="1" transform="matrix(9.6 -6.8 0 -9.4 618.7 1033.1)" fill="#0a0000" stroke="none" stroke-width="0" vector-effect="non-scaling-stroke"/>
<circle r="1" transform="matrix(6.9 -4.9 0 -6.8 618.7 1033.1)" fill="#0a0000" stroke="#a81010" stroke-width="2.3" vector-effect="non-scaling-stroke"/>
<circle r="1" transform="matrix(9.6 -6.8 0 -9.4 579.8 1018.9)" fill="#0a0000" stroke="none" stroke-width="0" vector-effect="non-scaling-stroke"/>
<circle r="1" transform="matrix(9.6 -6.8 0 -9.4 582.6 1020.9)" fill="#0a0000" stroke="none" stroke-width="0" vector-effect="non-scaling-stroke"/>
<circle r="1" transform="matrix(9.6 -6.8 0 -9.4 585.4 1022.9)" fill="#0a0000" stroke="none" stroke-width="0" vector-effect="non-scaling-stroke"/>
<circle r="1" transform="matrix(6.9 -4.9 0 -6.8 585.4 1022.9)" fill="#0a0000" stroke="#a81010" stroke-width="2.3" vector-effect="non-scaling-stroke"/>
<circle r="1" transform="matrix(9.6 -6.8 0 -9.4 579.8 1052.7)" fill="#0a0000" stroke="none" stroke-width="0" vector-effect="non-scaling-stroke"/>
<circle r="1" transform="matrix(9.6 -6.8 0 -9.4 582.6 1054.7)" fill="#0a0000" stroke="none" stroke-width="0" vector-effect="non-scaling-stroke"/>
<circle r="1" transform="matrix(9.6 -6.8 0 -9.4 585.4 1056.7)" fill="#0a0000" stroke="none" stroke-width="0" vector-effect="non-scaling-stroke"/>
<circle r="1" transform="matrix(6.9 -4.9 0 -6.8 585.4 1056.7)" fill="#0a0000" stroke="#a81010" stroke-width="2.3" vector-effect="non-scaling-stroke"/>
<circle r="1" transform="matrix(9.6 -6.8 0 -9.4 546.5 1042.5)" fill="#0a0000" stroke="none" stroke-width="0" vector-effect="non-scaling-stroke"/>
<circle r="1" transform="matrix(9.6 -6.8 0 -9.4 549.3 1044.5)" fill="#0a0000" stroke="none" stroke-width="0" vector-effect="non-scaling-stroke"/>
<circle r="1" transform="matrix(9.6 -6.8 0 -9.4 552.2 1046.5)" fill="#0a0000" stroke="none" stroke-width="0" vector-effect="non-scaling-stroke"/>
<circle r="1" transform="matrix(6.9 -4.9 0 -6.8 552.2 1046.5)" fill="#0a0000" stroke="#a81010" stroke-width="2.3" vector-effect="non-scaling-stroke"/>
<circle r="1" transform="matrix(9.6 -6.8 0 -9.4 546.5 1076.2)" fill="#0a0000" stroke="none" stroke-width="0" vector-effect="non-scaling-stroke"/>
<circle r="1" transform="matrix(9.6 -6.8 0 -9.4 549.3 1078.3)" fill="#0a0000" stroke="none" stroke-width="0" vector-effect="non-scaling-stroke"/>
<circle r="1" transform="matrix(9.6 -6.8 0 -9.4 552.2 1080.3)" fill="#0a0000" stroke="none" stroke-width="0" vector-effect="non-scaling-stroke"/>
<circle r="1" transform="matrix(6.9 -4.9 0 -6.8 552.2 1080.3)" fill="#0a0000" stroke="#a81010" stroke-width="2.3" vector-effect="non-scaling-stroke"/>
<circle r="1" transform="matrix(9.6 -6.8 0 -9.4 513.3 1066.1)" fill="#0a0000" stroke="none" stroke-width="0" vector-effect="non-scaling-stroke"/>
<circle r="1" transform="matrix(9.6 -6.8 0 -9.4 516.1 1068.1)" fill="#0a0000" stroke="none" stroke-width="0" vector-effect="non-scaling-stroke"/>
<circle r="1" transform="matrix(9.6 -6.8 0 -9.4 518.9 1070.1)" fill="#0a0000" stroke="none" stroke-width="0" vector-effect="non-scaling-stroke"/>
<circle r="1" transform="matrix(6.9 -4.9 0 -6.8 518.9 1070.1)" fill="#0a0000" stroke="#a81010" stroke-width="2.3" vector-effect="non-scaling-stroke"/>
<circle r="1" transform="matrix(9.6 -6.8 0 -9.4 513.3 1099.8)" fill="#0a0000" stroke="none" stroke-width="0" vector-effect="non-scaling-stroke"/>
<circle r="1" transform="matrix(9.6 -6.8 0 -9.4 516.1 1101.8)" fill="#0a0000" stroke="none" stroke-width="0" vector-effect="non-scaling-stroke"/>
<circle r="1" transform="matrix(9.6 -6.8 0 -9.4 518.9 1103.8)" fill="#0a0000" stroke="none" stroke-width="0" vector-effect="non-scaling-stroke"/>
<circle r="1" transform="matrix(6.9 -4.9 0 -6.8 518.9 1103.8)" fill="#0a0000" stroke="#a81010" stroke-width="2.3" vector-effect="non-scaling-stroke"/>
<polygon points="955.6,780.2 1155.2,638.8 1155.2,652.3 955.6,793.8" fill="#f8f430" stroke="#f8f430" stroke-width="10.6" stroke-linejoin="round"/>
<polygon points="922.4,756.5 1121.9,615.1 1155.2,638.8 955.6,780.2" fill="#f8f430" stroke="#f8f430" stroke-width="10.6" stroke-linejoin="round"/>
<ellipse cx="1121.9" cy="632.3" rx="13.6" ry="9.6" fill="#f8f430" stroke="#f8f430" stroke-width="10.6"/>
<ellipse cx="1088.7" cy="655.8" rx="13.6" ry="9.6" fill="#f8f430" stroke="#f8f430" stroke-width="10.6"/>
<ellipse cx="1055.4" cy="679.4" rx="13.6" ry="9.6" fill="#f8f430" stroke="#f8f430" stroke-width="10.6"/>
<ellipse cx="1022.1" cy="703" rx="13.6" ry="9.6" fill="#f8f430" stroke="#f8f430" stroke-width="10.6"/>
<ellipse cx="988.9" cy="726.5" rx="13.6" ry="9.6" fill="#f8f430" stroke="#f8f430" stroke-width="10.6"/>
<ellipse cx="955.6" cy="750.1" rx="13.6" ry="9.6" fill="#f8f430" stroke="#f8f430" stroke-width="10.6"/>
<polygon points="955.6,726.2 962.3,731 962.3,798.5 955.6,793.7" fill="#f8f430" stroke="#f8f430" stroke-width="10.6" stroke-linejoin="round"/>
<polygon points="955.6,726.2 1088.7,632 1095.3,636.7 962.3,731" fill="#f8f430" stroke="#f8f430" stroke-width="10.6" stroke-linejoin="round"/>
<polygon points="962.3,731 1095.3,636.7 1095.3,704.2 962.3,798.5" fill="#f8f430" stroke="#f8f430" stroke-width="10.6" stroke-linejoin="round"/>
<polygon points="1121.9,642.1 1155.2,618.6 1161.8,623.3 1128.6,646.9" fill="#f8f430" stroke="#f8f430" stroke-width="10.6" stroke-linejoin="round"/>
<polygon points="1128.6,646.9 1161.8,623.3 1161.8,690.8 1128.6,714.4" fill="#f8f430" stroke="#f8f430" stroke-width="10.6" stroke-linejoin="round"/>
<polygon points="1088.7,632 1121.9,608.4 1128.6,613.1 1095.3,636.7" fill="#f8f430" stroke="#f8f430" stroke-width="10.6" stroke-linejoin="round"/>
<polygon points="1095.3,636.7 1128.6,613.1 1128.6,714.4 1095.3,738" fill="#f8f430" stroke="#f8f430" stroke-width="10.6" stroke-linejoin="round"/>
<polygon points="955.6,780.2 1155.2,638.8 1155.2,652.3 955.6,793.8" fill="#e60204" stroke="#5a0000" stroke-width="0.9" stroke-linejoin="round" />
<polygon points="922.4,756.5 1121.9,615.1 1155.2,638.8 955.6,780.2" fill="#f30e03" stroke="#5a0000" stroke-width="0.9" stroke-linejoin="round" />
<path d="M1108.3 632.3 a13.6 9.6 0 0 0 27.2 0 v6.5 a13.6 9.6 0 0 1 -27.2 0 z" fill="#0a0000"/>
<ellipse cx="1121.9" cy="638.8" rx="13.6" ry="9.6" fill="#0a0000"/>
<ellipse cx="1121.9" cy="632.3" rx="13.6" ry="9.6" fill="#8a0300"/>
<ellipse cx="1121.9" cy="632" rx="11.6" ry="7.9" fill="#f21a0a"/>
<path d="M1116.4 632.3 c-3 -3.5 3 -5.5 5.5 -3 c2.5 -2.5 8.500 -.5 5.5 3 c3 3.5 -3 5.5 -5.5 3 c-2.5 2.5 -8.5 .5 -5.5 -3z" fill="none" stroke="#7a0000" stroke-width="2"/>
<path d="M1075.1 655.8 a13.6 9.6 0 0 0 27.2 0 v6.5 a13.6 9.6 0 0 1 -27.2 0 z" fill="#0a0000"/>
<ellipse cx="1088.7" cy="662.3" rx="13.6" ry="9.6" fill="#0a0000"/>
<ellipse cx="1088.7" cy="655.8" rx="13.6" ry="9.6" fill="#8a0300"/>
<ellipse cx="1088.7" cy="655.5" rx="11.6" ry="7.9" fill="#f21a0a"/>
<path d="M1083.2 655.8 c-3 -3.5 3 -5.5 5.5 -3 c2.5 -2.5 8.500 -.5 5.5 3 c3 3.5 -3 5.5 -5.5 3 c-2.5 2.5 -8.5 .5 -5.5 -3z" fill="none" stroke="#7a0000" stroke-width="2"/>
<path d="M1041.8 679.4 a13.6 9.6 0 0 0 27.2 0 v6.5 a13.6 9.6 0 0 1 -27.2 0 z" fill="#0a0000"/>
<ellipse cx="1055.4" cy="685.9" rx="13.6" ry="9.6" fill="#0a0000"/>
<ellipse cx="1055.4" cy="679.4" rx="13.6" ry="9.6" fill="#8a0300"/>
<ellipse cx="1055.4" cy="679.1" rx="11.6" ry="7.9" fill="#f21a0a"/>
<path d="M1049.9 679.4 c-3 -3.5 3 -5.5 5.5 -3 c2.5 -2.5 8.500 -.5 5.5 3 c3 3.5 -3 5.5 -5.5 3 c-2.5 2.5 -8.5 .5 -5.5 -3z" fill="none" stroke="#7a0000" stroke-width="2"/>
<path d="M1008.5 703 a13.6 9.6 0 0 0 27.2 0 v6.5 a13.6 9.6 0 0 1 -27.2 0 z" fill="#0a0000"/>
<ellipse cx="1022.1" cy="709.5" rx="13.6" ry="9.6" fill="#0a0000"/>
<ellipse cx="1022.1" cy="703" rx="13.6" ry="9.6" fill="#8a0300"/>
<ellipse cx="1022.1" cy="702.7" rx="11.6" ry="7.9" fill="#f21a0a"/>
<path d="M1016.6 703 c-3 -3.5 3 -5.5 5.5 -3 c2.5 -2.5 8.500 -.5 5.5 3 c3 3.5 -3 5.5 -5.5 3 c-2.5 2.5 -8.5 .5 -5.5 -3z" fill="none" stroke="#7a0000" stroke-width="2"/>
<path d="M975.3 726.5 a13.6 9.6 0 0 0 27.2 0 v6.5 a13.6 9.6 0 0 1 -27.2 0 z" fill="#0a0000"/>
<ellipse cx="988.9" cy="733" rx="13.6" ry="9.6" fill="#0a0000"/>
<ellipse cx="988.9" cy="726.5" rx="13.6" ry="9.6" fill="#8a0300"/>
<ellipse cx="988.9" cy="726.2" rx="11.6" ry="7.9" fill="#f21a0a"/>
<path d="M983.4 726.5 c-3 -3.5 3 -5.5 5.5 -3 c2.5 -2.5 8.500 -.5 5.5 3 c3 3.5 -3 5.5 -5.5 3 c-2.5 2.5 -8.5 .5 -5.5 -3z" fill="none" stroke="#7a0000" stroke-width="2"/>
<path d="M942 750.1 a13.6 9.6 0 0 0 27.2 0 v6.5 a13.6 9.6 0 0 1 -27.2 0 z" fill="#0a0000"/>
<ellipse cx="955.6" cy="756.6" rx="13.6" ry="9.6" fill="#0a0000"/>
<ellipse cx="955.6" cy="750.1" rx="13.6" ry="9.6" fill="#8a0300"/>
<ellipse cx="955.6" cy="749.8" rx="11.6" ry="7.9" fill="#f21a0a"/>
<path d="M950.1 750.1 c-3 -3.5 3 -5.5 5.5 -3 c2.5 -2.5 8.500 -.5 5.5 3 c3 3.5 -3 5.5 -5.5 3 c-2.5 2.5 -8.5 .5 -5.5 -3z" fill="none" stroke="#7a0000" stroke-width="2"/>
<polygon points="955.6,726.2 962.3,731 962.3,798.5 955.6,793.7" fill="#ea0a02" stroke="#5a0000" stroke-width="0.9" stroke-linejoin="round" />
<polygon points="955.6,726.2 1088.7,632 1095.3,636.7 962.3,731" fill="#f30e03" stroke="#5a0000" stroke-width="0.9" stroke-linejoin="round" />
<polygon points="962.3,731 1095.3,636.7 1095.3,704.2 962.3,798.5" fill="#e60204" stroke="#5a0000" stroke-width="0.9" stroke-linejoin="round" />
<polyline points="1028.8,683.9 1028.8,751.4" fill="none" stroke="#5a0000" stroke-width="0.9" stroke-linejoin="round" stroke-linecap="round" />
<circle r="1" transform="matrix(9.6 -6.8 0 -9.4 1078.7 665.4)" fill="#0a0000" stroke="none" stroke-width="0" vector-effect="non-scaling-stroke"/>
<circle r="1" transform="matrix(9.6 -6.8 0 -9.4 1081.5 667.4)" fill="#0a0000" stroke="none" stroke-width="0" vector-effect="non-scaling-stroke"/>
<circle r="1" transform="matrix(9.6 -6.8 0 -9.4 1084.3 669.4)" fill="#0a0000" stroke="none" stroke-width="0" vector-effect="non-scaling-stroke"/>
<circle r="1" transform="matrix(6.9 -4.9 0 -6.8 1084.3 669.4)" fill="#0a0000" stroke="#a81010" stroke-width="2.3" vector-effect="non-scaling-stroke"/>
<circle r="1" transform="matrix(9.6 -6.8 0 -9.4 1078.7 699.1)" fill="#0a0000" stroke="none" stroke-width="0" vector-effect="non-scaling-stroke"/>
<circle r="1" transform="matrix(9.6 -6.8 0 -9.4 1081.5 701.1)" fill="#0a0000" stroke="none" stroke-width="0" vector-effect="non-scaling-stroke"/>
<circle r="1" transform="matrix(9.6 -6.8 0 -9.4 1084.3 703.1)" fill="#0a0000" stroke="none" stroke-width="0" vector-effect="non-scaling-stroke"/>
<circle r="1" transform="matrix(6.9 -4.9 0 -6.8 1084.3 703.1)" fill="#0a0000" stroke="#a81010" stroke-width="2.3" vector-effect="non-scaling-stroke"/>
<circle r="1" transform="matrix(9.6 -6.8 0 -9.4 1045.4 688.9)" fill="#0a0000" stroke="none" stroke-width="0" vector-effect="non-scaling-stroke"/>
<circle r="1" transform="matrix(9.6 -6.8 0 -9.4 1048.2 691)" fill="#0a0000" stroke="none" stroke-width="0" vector-effect="non-scaling-stroke"/>
<circle r="1" transform="matrix(9.6 -6.8 0 -9.4 1051.1 693)" fill="#0a0000" stroke="none" stroke-width="0" vector-effect="non-scaling-stroke"/>
<circle r="1" transform="matrix(6.9 -4.9 0 -6.8 1051.1 693)" fill="#0a0000" stroke="#a81010" stroke-width="2.3" vector-effect="non-scaling-stroke"/>
<circle r="1" transform="matrix(9.6 -6.8 0 -9.4 1045.4 722.7)" fill="#0a0000" stroke="none" stroke-width="0" vector-effect="non-scaling-stroke"/>
<circle r="1" transform="matrix(9.6 -6.8 0 -9.4 1048.2 724.7)" fill="#0a0000" stroke="none" stroke-width="0" vector-effect="non-scaling-stroke"/>
<circle r="1" transform="matrix(9.6 -6.8 0 -9.4 1051.1 726.7)" fill="#0a0000" stroke="none" stroke-width="0" vector-effect="non-scaling-stroke"/>
<circle r="1" transform="matrix(6.9 -4.9 0 -6.8 1051.1 726.7)" fill="#0a0000" stroke="#a81010" stroke-width="2.3" vector-effect="non-scaling-stroke"/>
<circle r="1" transform="matrix(9.6 -6.8 0 -9.4 1012.2 712.5)" fill="#0a0000" stroke="none" stroke-width="0" vector-effect="non-scaling-stroke"/>
<circle r="1" transform="matrix(9.6 -6.8 0 -9.4 1015 714.5)" fill="#0a0000" stroke="none" stroke-width="0" vector-effect="non-scaling-stroke"/>
<circle r="1" transform="matrix(9.6 -6.8 0 -9.4 1017.8 716.5)" fill="#0a0000" stroke="none" stroke-width="0" vector-effect="non-scaling-stroke"/>
<circle r="1" transform="matrix(6.9 -4.9 0 -6.8 1017.8 716.5)" fill="#0a0000" stroke="#a81010" stroke-width="2.3" vector-effect="non-scaling-stroke"/>
<circle r="1" transform="matrix(9.6 -6.8 0 -9.4 1012.2 746.3)" fill="#0a0000" stroke="none" stroke-width="0" vector-effect="non-scaling-stroke"/>
<circle r="1" transform="matrix(9.6 -6.8 0 -9.4 1015 748.3)" fill="#0a0000" stroke="none" stroke-width="0" vector-effect="non-scaling-stroke"/>
<circle r="1" transform="matrix(9.6 -6.8 0 -9.4 1017.8 750.3)" fill="#0a0000" stroke="none" stroke-width="0" vector-effect="non-scaling-stroke"/>
<circle r="1" transform="matrix(6.9 -4.9 0 -6.8 1017.8 750.3)" fill="#0a0000" stroke="#a81010" stroke-width="2.3" vector-effect="non-scaling-stroke"/>
<circle r="1" transform="matrix(9.6 -6.8 0 -9.4 978.9 736.1)" fill="#0a0000" stroke="none" stroke-width="0" vector-effect="non-scaling-stroke"/>
<circle r="1" transform="matrix(9.6 -6.8 0 -9.4 981.7 738.1)" fill="#0a0000" stroke="none" stroke-width="0" vector-effect="non-scaling-stroke"/>
<circle r="1" transform="matrix(9.6 -6.8 0 -9.4 984.6 740.1)" fill="#0a0000" stroke="none" stroke-width="0" vector-effect="non-scaling-stroke"/>
<circle r="1" transform="matrix(6.9 -4.9 0 -6.8 984.6 740.1)" fill="#0a0000" stroke="#a81010" stroke-width="2.3" vector-effect="non-scaling-stroke"/>
<circle r="1" transform="matrix(9.6 -6.8 0 -9.4 978.9 769.8)" fill="#0a0000" stroke="none" stroke-width="0" vector-effect="non-scaling-stroke"/>
<circle r="1" transform="matrix(9.6 -6.8 0 -9.4 981.7 771.8)" fill="#0a0000" stroke="none" stroke-width="0" vector-effect="non-scaling-stroke"/>
<circle r="1" transform="matrix(9.6 -6.8 0 -9.4 984.6 773.9)" fill="#0a0000" stroke="none" stroke-width="0" vector-effect="non-scaling-stroke"/>
<circle r="1" transform="matrix(6.9 -4.9 0 -6.8 984.6 773.9)" fill="#0a0000" stroke="#a81010" stroke-width="2.3" vector-effect="non-scaling-stroke"/>
<polygon points="1121.9,642.1 1155.2,618.6 1161.8,623.3 1128.6,646.9" fill="#f30e03" stroke="#5a0000" stroke-width="0.9" stroke-linejoin="round" />
<polygon points="1128.6,646.9 1161.8,623.3 1161.8,690.8 1128.6,714.4" fill="#e60204" stroke="#5a0000" stroke-width="0.9" stroke-linejoin="round" />
<circle r="1" transform="matrix(9.6 -6.8 0 -9.4 1145.2 652)" fill="#0a0000" stroke="none" stroke-width="0" vector-effect="non-scaling-stroke"/>
<circle r="1" transform="matrix(9.6 -6.8 0 -9.4 1148 654)" fill="#0a0000" stroke="none" stroke-width="0" vector-effect="non-scaling-stroke"/>
<circle r="1" transform="matrix(9.6 -6.8 0 -9.4 1150.9 656)" fill="#0a0000" stroke="none" stroke-width="0" vector-effect="non-scaling-stroke"/>
<circle r="1" transform="matrix(6.9 -4.9 0 -6.8 1150.9 656)" fill="#0a0000" stroke="#a81010" stroke-width="2.3" vector-effect="non-scaling-stroke"/>
<circle r="1" transform="matrix(9.6 -6.8 0 -9.4 1145.2 685.7)" fill="#0a0000" stroke="none" stroke-width="0" vector-effect="non-scaling-stroke"/>
<circle r="1" transform="matrix(9.6 -6.8 0 -9.4 1148 687.7)" fill="#0a0000" stroke="none" stroke-width="0" vector-effect="non-scaling-stroke"/>
<circle r="1" transform="matrix(9.6 -6.8 0 -9.4 1150.9 689.8)" fill="#0a0000" stroke="none" stroke-width="0" vector-effect="non-scaling-stroke"/>
<circle r="1" transform="matrix(6.9 -4.9 0 -6.8 1150.9 689.8)" fill="#0a0000" stroke="#a81010" stroke-width="2.3" vector-effect="non-scaling-stroke"/>
<polygon points="1088.7,632 1121.9,608.4 1128.6,613.1 1095.3,636.7" fill="#f30e03" stroke="#5a0000" stroke-width="0.9" stroke-linejoin="round" />
<polygon points="1095.3,636.7 1128.6,613.1 1128.6,714.4 1095.3,738" fill="#e60204" stroke="#5a0000" stroke-width="0.9" stroke-linejoin="round" />
<circle r="1" transform="matrix(9.6 -6.8 0 -9.4 1111.9 641.8)" fill="#0a0000" stroke="none" stroke-width="0" vector-effect="non-scaling-stroke"/>
<circle r="1" transform="matrix(9.6 -6.8 0 -9.4 1114.8 643.8)" fill="#0a0000" stroke="none" stroke-width="0" vector-effect="non-scaling-stroke"/>
<circle r="1" transform="matrix(9.6 -6.8 0 -9.4 1117.6 645.8)" fill="#0a0000" stroke="none" stroke-width="0" vector-effect="non-scaling-stroke"/>
<circle r="1" transform="matrix(6.9 -4.9 0 -6.8 1117.6 645.8)" fill="#0a0000" stroke="#a81010" stroke-width="2.3" vector-effect="non-scaling-stroke"/>
<circle r="1" transform="matrix(9.6 -6.8 0 -9.4 1111.9 675.5)" fill="#0a0000" stroke="none" stroke-width="0" vector-effect="non-scaling-stroke"/>
<circle r="1" transform="matrix(9.6 -6.8 0 -9.4 1114.8 677.6)" fill="#0a0000" stroke="none" stroke-width="0" vector-effect="non-scaling-stroke"/>
<circle r="1" transform="matrix(9.6 -6.8 0 -9.4 1117.6 679.6)" fill="#0a0000" stroke="none" stroke-width="0" vector-effect="non-scaling-stroke"/>
<circle r="1" transform="matrix(6.9 -4.9 0 -6.8 1117.6 679.6)" fill="#0a0000" stroke="#a81010" stroke-width="2.3" vector-effect="non-scaling-stroke"/>
<circle r="1" transform="matrix(9.6 -6.8 0 -9.4 1111.9 709.3)" fill="#0a0000" stroke="none" stroke-width="0" vector-effect="non-scaling-stroke"/>
<circle r="1" transform="matrix(9.6 -6.8 0 -9.4 1114.8 711.3)" fill="#0a0000" stroke="none" stroke-width="0" vector-effect="non-scaling-stroke"/>
<circle r="1" transform="matrix(9.6 -6.8 0 -9.4 1117.6 713.3)" fill="#0a0000" stroke="none" stroke-width="0" vector-effect="non-scaling-stroke"/>
<circle r="1" transform="matrix(6.9 -4.9 0 -6.8 1117.6 713.3)" fill="#0a0000" stroke="#a81010" stroke-width="2.3" vector-effect="non-scaling-stroke"/>
<path d="M908.8 773.7 a13.6 9.6 0 0 0 27.2 0 v6.5 a13.6 9.6 0 0 1 -27.2 0 z" fill="#0a0000"/>
<ellipse cx="922.4" cy="780.2" rx="13.6" ry="9.6" fill="#0a0000"/>
<ellipse cx="922.4" cy="773.7" rx="13.6" ry="9.6" fill="#0a0a0a"/>
<ellipse cx="922.4" cy="773.4" rx="11.6" ry="7.9" fill="#e4e6e9"/>
<path d="M916.9 773.7 c-3 -3.5 3 -5.5 5.5 -3 c2.5 -2.5 8.500 -.5 5.5 3 c3 3.5 -3 5.5 -5.5 3 c-2.5 2.5 -8.5 .5 -5.5 -3z" fill="none" stroke="#34373c" stroke-width="2"/>
</g>
</svg>
</body></html>
